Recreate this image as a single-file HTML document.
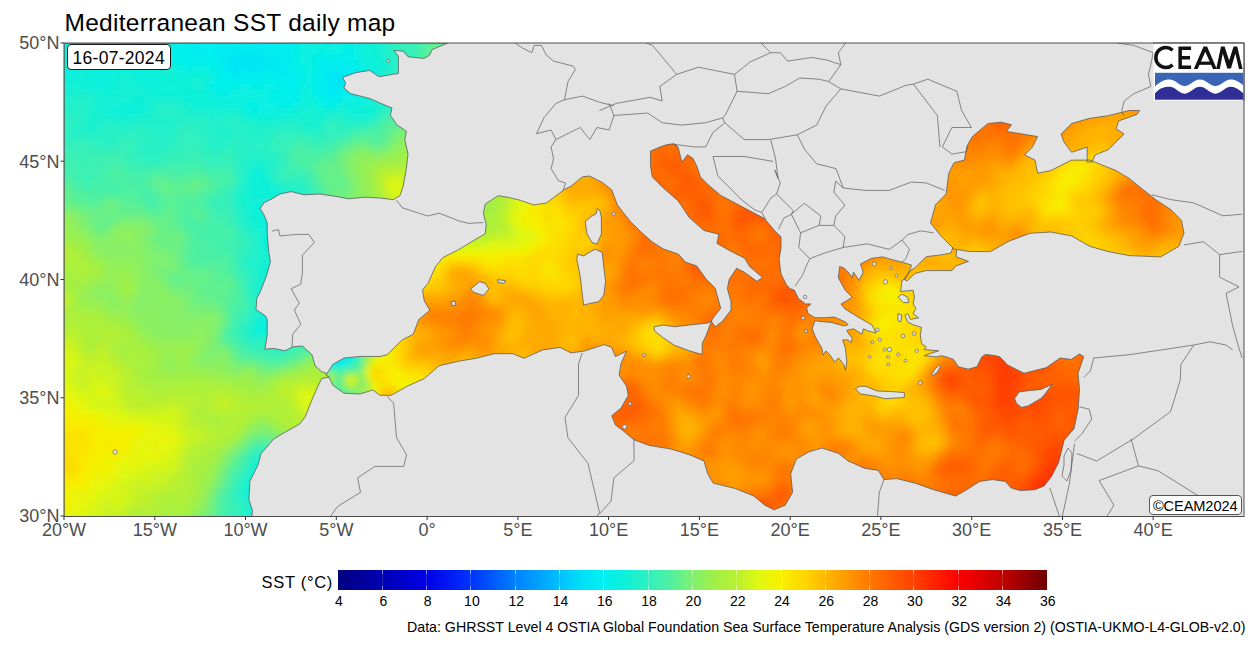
<!DOCTYPE html>
<html><head><meta charset="utf-8"><style>
html,body{margin:0;padding:0;background:#fff;width:1250px;height:650px;overflow:hidden;position:relative;font-family:"Liberation Sans",sans-serif;}
#title{position:absolute;left:64.5px;top:11px;font-size:24.5px;letter-spacing:0.27px;color:#000;white-space:nowrap;line-height:1}
.yl{position:absolute;left:0;width:59.4px;text-align:right;font-size:18px;color:#4d4d4d;line-height:20px;white-space:nowrap}
.xl{position:absolute;top:519.5px;width:80px;text-align:center;font-size:18px;color:#4d4d4d;line-height:20px;white-space:nowrap}
#date{position:absolute;left:67px;top:44px;width:103.5px;height:26px;box-sizing:border-box;border:1px solid #1a1a1a;border-radius:4px;background:#fff;font-size:17.5px;letter-spacing:0.28px;line-height:27px;text-align:center;color:#000}
#copy{position:absolute;left:1148.8px;top:494.8px;width:92.8px;height:19.8px;box-sizing:border-box;border:1px solid #555;border-radius:4px;background:#fff;font-size:14.6px;line-height:21px;text-align:center;color:#000;white-space:nowrap;letter-spacing:-0.1px}
#cbar{position:absolute;left:338px;top:570.2px;width:709px;height:19.5px}
.cbt{position:absolute;top:570.2px;width:1px;height:19.5px;background:linear-gradient(rgba(255,255,255,0.55) 0,rgba(255,255,255,0.55) 20%,rgba(255,255,255,0.15) 20%,rgba(255,255,255,0.15) 80%,rgba(255,255,255,0.55) 80%)}
.cbl{position:absolute;top:592.8px;width:40px;text-align:center;font-size:14px;color:#000;line-height:16px}
#sstlab{position:absolute;left:180px;top:571.7px;width:153px;text-align:right;font-size:16.5px;letter-spacing:0.7px;color:#000;line-height:20px;white-space:nowrap}
#data{position:absolute;left:407px;top:619px;font-size:14.2px;color:#000;line-height:16px;white-space:nowrap}
</style></head><body>
<svg width="1250" height="650" viewBox="0 0 1250 650" style="position:absolute;left:0;top:0"><defs><filter id="bl" filterUnits="userSpaceOnUse" x="0" y="0" width="1250" height="650"><feGaussianBlur stdDeviation="3"/></filter><clipPath id="panel"><rect x="64" y="43" width="1180" height="473.5"/></clipPath></defs><rect x="64" y="43" width="1180" height="473.5" fill="#e3e3e3"/><g clip-path="url(#panel)"><clipPath id="catl"><path d="M64.0,43.0L448.0,43.0L432.0,49.6L429.6,55.2L424.0,58.4L408.0,56.8L403.2,51.2L393.6,50.4L398.4,56.0L398.4,73.6L392.0,74.4L379.2,76.8L369.6,70.4L355.2,72.8L342.4,77.6L345.6,82.4L344.0,88.0L350.4,93.6L369.6,98.4L382.4,104.0L392.0,108.0L390.4,115.2L396.8,124.8L406.4,131.2L404.8,139.6L408.0,154.0L406.4,168.4L403.2,186.0L400.0,195.6L393.6,199.6L379.2,198.0L364.8,197.2L348.8,198.8L336.0,196.4L320.0,194.0L304.0,194.8L291.2,191.6L280.0,194.0L272.0,198.8L264.0,202.8L260.0,208.4L264.0,214.8L267.2,222.8L267.2,232.8L268.8,252.0L270.4,261.6L266.4,276.0L260.8,290.4L256.8,298.4L256.0,309.6L260.8,312.8L265.6,316.0L267.2,319.6L267.2,335.6L264.8,349.2L273.6,348.4L284.8,350.8L292.8,346.8L302.4,346.0L312.0,354.8L315.2,366.0L321.6,371.6L328.0,374.0L334.0,375.0L334.0,377.0L328.0,377.2L321.6,378.8L318.4,385.2L312.0,399.6L305.3,416.6L299.7,424.0L285.0,432.3L273.9,438.8L261.0,453.6L258.2,464.6L249.9,481.3L248.9,499.7L252.6,510.8L251.7,516.5L64.0,516.5Z"/></clipPath><g clip-path="url(#catl)"><g filter="url(#bl)"><path fill="#00e3f6" d="M234 60h6v6h-6z"/><path fill="#00e4f5" d="M252 60h6v6h-6zM234 66h6v6h-6zM336 78h6v6h-6z"/><path fill="#00e6f4" d="M252 54h6v6h-6zM228 60h6v6h-6zM240 60h6v6h-6zM246 60h6v6h-6zM258 60h6v6h-6zM228 66h6v6h-6zM252 66h6v6h-6zM336 72h6v6h-6zM342 78h6v6h-6z"/><path fill="#00e8f4" d="M270 36h6v6h-6zM276 36h6v6h-6zM228 54h6v6h-6zM234 54h6v6h-6zM240 54h6v6h-6zM246 54h6v6h-6zM258 54h6v6h-6zM276 60h6v6h-6zM240 66h6v6h-6zM246 66h6v6h-6zM258 66h6v6h-6zM330 72h6v6h-6zM342 72h6v6h-6zM330 78h6v6h-6zM348 78h6v6h-6zM330 84h6v6h-6zM336 84h6v6h-6z"/><path fill="#00e9f3" d="M222 36h6v6h-6zM264 36h6v6h-6zM282 36h6v6h-6zM222 42h6v6h-6zM222 48h6v6h-6zM246 48h6v6h-6zM252 48h6v6h-6zM258 48h6v6h-6zM264 60h6v6h-6zM270 60h6v6h-6zM276 66h6v6h-6zM234 72h6v6h-6zM348 72h6v6h-6zM324 84h6v6h-6zM342 84h6v6h-6zM348 84h6v6h-6zM330 90h6v6h-6z"/><path fill="#00ebf2" d="M228 36h6v6h-6zM288 36h6v6h-6zM216 42h6v6h-6zM228 42h6v6h-6zM264 42h6v6h-6zM270 42h6v6h-6zM216 48h6v6h-6zM228 48h6v6h-6zM222 54h6v6h-6zM264 54h6v6h-6zM270 54h6v6h-6zM276 54h6v6h-6zM222 60h6v6h-6zM282 60h6v6h-6zM264 66h6v6h-6zM270 66h6v6h-6zM282 66h6v6h-6zM330 66h6v6h-6zM336 66h6v6h-6zM228 72h6v6h-6zM324 78h6v6h-6zM354 78h6v6h-6zM324 90h6v6h-6z"/><path fill="#00ecf1" d="M216 36h6v6h-6zM234 36h6v6h-6zM258 36h6v6h-6zM192 42h6v6h-6zM198 42h6v6h-6zM246 42h6v6h-6zM252 42h6v6h-6zM258 42h6v6h-6zM276 42h6v6h-6zM282 42h6v6h-6zM192 48h6v6h-6zM198 48h6v6h-6zM234 48h6v6h-6zM240 48h6v6h-6zM264 48h6v6h-6zM216 54h6v6h-6zM282 54h6v6h-6zM222 66h6v6h-6zM324 66h6v6h-6zM342 66h6v6h-6zM240 72h6v6h-6zM246 72h6v6h-6zM252 72h6v6h-6zM276 72h6v6h-6zM282 72h6v6h-6zM324 72h6v6h-6zM354 84h6v6h-6zM336 90h6v6h-6zM330 96h6v6h-6z"/><path fill="#00eef0" d="M192 36h6v6h-6zM198 36h6v6h-6zM240 36h6v6h-6zM246 36h6v6h-6zM252 36h6v6h-6zM234 42h6v6h-6zM240 42h6v6h-6zM204 48h6v6h-6zM210 48h6v6h-6zM270 48h6v6h-6zM276 48h6v6h-6zM324 60h6v6h-6zM348 66h6v6h-6zM258 72h6v6h-6zM288 72h6v6h-6zM354 72h6v6h-6zM318 84h6v6h-6zM318 90h6v6h-6zM324 96h6v6h-6z"/><path fill="#00f0f0" d="M90 36h6v6h-6zM186 42h6v6h-6zM204 42h6v6h-6zM210 42h6v6h-6zM288 42h6v6h-6zM168 48h6v6h-6zM174 48h6v6h-6zM186 48h6v6h-6zM282 48h6v6h-6zM192 54h6v6h-6zM198 54h6v6h-6zM204 54h6v6h-6zM210 54h6v6h-6zM216 60h6v6h-6zM288 60h6v6h-6zM318 60h6v6h-6zM330 60h6v6h-6zM342 60h6v6h-6zM288 66h6v6h-6zM222 72h6v6h-6zM264 72h6v6h-6zM270 72h6v6h-6zM294 72h6v6h-6zM228 78h6v6h-6zM234 78h6v6h-6zM282 78h6v6h-6zM288 78h6v6h-6zM318 78h6v6h-6zM288 84h6v6h-6zM288 90h6v6h-6zM342 90h6v6h-6zM348 90h6v6h-6zM288 96h6v6h-6z"/><path fill="#01f0ed" d="M84 36h6v6h-6zM204 36h6v6h-6zM210 36h6v6h-6zM294 36h6v6h-6zM168 42h6v6h-6zM180 48h6v6h-6zM174 54h6v6h-6zM180 54h6v6h-6zM186 54h6v6h-6zM288 54h6v6h-6zM336 60h6v6h-6zM348 60h6v6h-6zM318 66h6v6h-6zM354 66h6v6h-6zM318 72h6v6h-6zM222 78h6v6h-6zM252 78h6v6h-6zM276 78h6v6h-6zM294 78h6v6h-6zM360 78h6v6h-6zM216 84h6v6h-6zM282 84h6v6h-6zM282 90h6v6h-6zM354 90h6v6h-6zM336 96h6v6h-6z"/><path fill="#03f0eb" d="M96 36h6v6h-6zM126 36h6v6h-6zM186 36h6v6h-6zM90 42h6v6h-6zM174 42h6v6h-6zM180 42h6v6h-6zM120 48h6v6h-6zM288 48h6v6h-6zM168 54h6v6h-6zM318 54h6v6h-6zM342 54h6v6h-6zM348 54h6v6h-6zM180 60h6v6h-6zM186 60h6v6h-6zM210 60h6v6h-6zM216 66h6v6h-6zM294 66h6v6h-6zM360 72h6v6h-6zM216 78h6v6h-6zM240 78h6v6h-6zM246 78h6v6h-6zM258 78h6v6h-6zM222 84h6v6h-6zM294 84h6v6h-6zM360 84h6v6h-6zM294 90h6v6h-6zM282 96h6v6h-6zM294 96h6v6h-6zM318 96h6v6h-6z"/><path fill="#04f0e8" d="M66 36h6v6h-6zM72 36h6v6h-6zM78 36h6v6h-6zM132 36h6v6h-6zM168 36h6v6h-6zM84 42h6v6h-6zM120 42h6v6h-6zM126 42h6v6h-6zM294 42h6v6h-6zM126 48h6v6h-6zM162 48h6v6h-6zM342 48h6v6h-6zM348 48h6v6h-6zM324 54h6v6h-6zM192 60h6v6h-6zM198 60h6v6h-6zM204 60h6v6h-6zM294 60h6v6h-6zM216 72h6v6h-6zM300 72h6v6h-6zM264 78h6v6h-6zM270 78h6v6h-6zM228 84h6v6h-6zM276 84h6v6h-6zM312 84h6v6h-6zM216 90h6v6h-6zM276 90h6v6h-6zM312 90h6v6h-6zM276 96h6v6h-6zM282 102h6v6h-6zM288 102h6v6h-6zM324 102h6v6h-6zM330 102h6v6h-6z"/><path fill="#06f0e6" d="M120 36h6v6h-6zM174 36h6v6h-6zM180 36h6v6h-6zM300 36h6v6h-6zM312 36h6v6h-6zM318 36h6v6h-6zM324 36h6v6h-6zM66 42h6v6h-6zM72 42h6v6h-6zM78 42h6v6h-6zM96 42h6v6h-6zM162 42h6v6h-6zM324 42h6v6h-6zM342 42h6v6h-6zM348 42h6v6h-6zM84 48h6v6h-6zM90 48h6v6h-6zM294 48h6v6h-6zM318 48h6v6h-6zM120 54h6v6h-6zM294 54h6v6h-6zM312 54h6v6h-6zM330 54h6v6h-6zM336 54h6v6h-6zM174 60h6v6h-6zM312 60h6v6h-6zM354 60h6v6h-6zM186 66h6v6h-6zM210 66h6v6h-6zM300 66h6v6h-6zM312 66h6v6h-6zM360 66h6v6h-6zM312 72h6v6h-6zM300 78h6v6h-6zM312 78h6v6h-6zM210 84h6v6h-6zM234 84h6v6h-6zM252 84h6v6h-6zM258 84h6v6h-6zM222 90h6v6h-6zM270 90h6v6h-6zM360 90h6v6h-6zM270 96h6v6h-6zM246 102h6v6h-6zM252 102h6v6h-6zM276 102h6v6h-6zM252 108h6v6h-6zM258 492h6v6h-6zM258 498h6v6h-6zM264 498h6v6h-6zM264 504h6v6h-6z"/><path fill="#08f0e4" d="M60 36h6v6h-6zM138 36h6v6h-6zM162 36h6v6h-6zM306 36h6v6h-6zM132 42h6v6h-6zM318 42h6v6h-6zM330 42h6v6h-6zM72 48h6v6h-6zM78 48h6v6h-6zM114 48h6v6h-6zM312 48h6v6h-6zM324 48h6v6h-6zM336 48h6v6h-6zM126 54h6v6h-6zM162 54h6v6h-6zM354 54h6v6h-6zM180 66h6v6h-6zM306 72h6v6h-6zM210 78h6v6h-6zM306 78h6v6h-6zM240 84h6v6h-6zM246 84h6v6h-6zM264 84h6v6h-6zM270 84h6v6h-6zM210 90h6v6h-6zM228 90h6v6h-6zM258 90h6v6h-6zM264 90h6v6h-6zM264 96h6v6h-6zM312 96h6v6h-6zM342 96h6v6h-6zM348 96h6v6h-6zM354 96h6v6h-6zM258 102h6v6h-6zM264 102h6v6h-6zM270 102h6v6h-6zM294 102h6v6h-6zM258 108h6v6h-6zM276 204h6v6h-6zM276 210h6v6h-6zM270 222h6v6h-6zM270 228h6v6h-6zM258 486h6v6h-6zM264 486h6v6h-6zM264 492h6v6h-6zM258 504h6v6h-6z"/><path fill="#09f0e1" d="M330 36h6v6h-6zM342 36h6v6h-6zM348 36h6v6h-6zM300 42h6v6h-6zM312 42h6v6h-6zM336 42h6v6h-6zM354 42h6v6h-6zM66 48h6v6h-6zM132 48h6v6h-6zM156 48h6v6h-6zM300 48h6v6h-6zM330 48h6v6h-6zM354 48h6v6h-6zM72 54h6v6h-6zM78 54h6v6h-6zM84 54h6v6h-6zM90 54h6v6h-6zM114 54h6v6h-6zM300 54h6v6h-6zM306 54h6v6h-6zM300 60h6v6h-6zM360 60h6v6h-6zM192 66h6v6h-6zM198 66h6v6h-6zM204 66h6v6h-6zM306 66h6v6h-6zM366 66h6v6h-6zM210 72h6v6h-6zM366 72h6v6h-6zM366 78h6v6h-6zM300 84h6v6h-6zM366 84h6v6h-6zM234 90h6v6h-6zM240 90h6v6h-6zM246 90h6v6h-6zM252 90h6v6h-6zM300 90h6v6h-6zM222 96h6v6h-6zM228 96h6v6h-6zM234 96h6v6h-6zM240 96h6v6h-6zM246 96h6v6h-6zM252 96h6v6h-6zM258 96h6v6h-6zM300 96h6v6h-6zM240 102h6v6h-6zM318 102h6v6h-6zM336 102h6v6h-6zM246 108h6v6h-6zM264 108h6v6h-6zM282 204h6v6h-6zM282 210h6v6h-6zM270 216h6v6h-6zM276 216h6v6h-6zM276 222h6v6h-6zM276 228h6v6h-6zM270 234h6v6h-6zM276 264h6v6h-6zM270 312h6v6h-6zM264 318h6v6h-6zM270 318h6v6h-6zM264 324h6v6h-6zM258 510h6v6h-6zM264 510h6v6h-6zM258 516h6v6h-6z"/><path fill="#0bf0df" d="M102 36h6v6h-6zM144 36h6v6h-6zM150 36h6v6h-6zM156 36h6v6h-6zM336 36h6v6h-6zM354 36h6v6h-6zM60 42h6v6h-6zM114 42h6v6h-6zM156 42h6v6h-6zM306 42h6v6h-6zM96 48h6v6h-6zM306 48h6v6h-6zM66 54h6v6h-6zM132 54h6v6h-6zM156 54h6v6h-6zM66 60h6v6h-6zM72 60h6v6h-6zM120 60h6v6h-6zM168 60h6v6h-6zM306 60h6v6h-6zM366 60h6v6h-6zM66 66h6v6h-6zM174 66h6v6h-6zM66 72h6v6h-6zM180 72h6v6h-6zM96 78h6v6h-6zM102 78h6v6h-6zM156 84h6v6h-6zM306 84h6v6h-6zM306 90h6v6h-6zM216 96h6v6h-6zM360 96h6v6h-6zM348 102h6v6h-6zM354 102h6v6h-6zM270 108h6v6h-6zM276 108h6v6h-6zM282 108h6v6h-6zM276 198h6v6h-6zM270 210h6v6h-6zM282 216h6v6h-6zM264 222h6v6h-6zM264 228h6v6h-6zM270 240h6v6h-6zM276 258h6v6h-6zM270 264h6v6h-6zM270 270h6v6h-6zM276 270h6v6h-6zM276 312h6v6h-6zM258 324h6v6h-6zM258 480h6v6h-6zM264 480h6v6h-6zM252 486h6v6h-6zM252 492h6v6h-6zM252 522h6v6h-6z"/><path fill="#0cf0dc" d="M360 36h6v6h-6zM102 42h6v6h-6zM138 42h6v6h-6zM360 42h6v6h-6zM108 48h6v6h-6zM360 48h6v6h-6zM96 54h6v6h-6zM138 54h6v6h-6zM150 54h6v6h-6zM360 54h6v6h-6zM78 60h6v6h-6zM84 60h6v6h-6zM90 60h6v6h-6zM96 60h6v6h-6zM114 60h6v6h-6zM126 60h6v6h-6zM132 60h6v6h-6zM138 60h6v6h-6zM372 60h6v6h-6zM72 66h6v6h-6zM96 66h6v6h-6zM138 66h6v6h-6zM372 66h6v6h-6zM96 72h6v6h-6zM102 72h6v6h-6zM108 72h6v6h-6zM138 72h6v6h-6zM186 72h6v6h-6zM204 72h6v6h-6zM90 78h6v6h-6zM108 78h6v6h-6zM138 78h6v6h-6zM144 78h6v6h-6zM150 78h6v6h-6zM156 78h6v6h-6zM90 84h6v6h-6zM96 84h6v6h-6zM102 84h6v6h-6zM150 84h6v6h-6zM366 90h6v6h-6zM210 96h6v6h-6zM306 96h6v6h-6zM126 102h6v6h-6zM132 102h6v6h-6zM234 102h6v6h-6zM300 102h6v6h-6zM342 102h6v6h-6zM288 108h6v6h-6zM252 114h6v6h-6zM258 114h6v6h-6zM258 180h6v6h-6zM258 186h6v6h-6zM282 198h6v6h-6zM270 204h6v6h-6zM264 216h6v6h-6zM282 222h6v6h-6zM282 228h6v6h-6zM264 234h6v6h-6zM276 234h6v6h-6zM264 240h6v6h-6zM270 246h6v6h-6zM276 246h6v6h-6zM276 252h6v6h-6zM270 258h6v6h-6zM282 258h6v6h-6zM282 264h6v6h-6zM282 270h6v6h-6zM276 276h6v6h-6zM282 276h6v6h-6zM264 312h6v6h-6zM258 318h6v6h-6zM276 318h6v6h-6zM270 324h6v6h-6zM252 498h6v6h-6zM252 516h6v6h-6z"/><path fill="#0ef0da" d="M114 36h6v6h-6zM366 36h6v6h-6zM144 42h6v6h-6zM150 42h6v6h-6zM366 42h6v6h-6zM60 48h6v6h-6zM102 48h6v6h-6zM138 48h6v6h-6zM144 48h6v6h-6zM150 48h6v6h-6zM366 48h6v6h-6zM108 54h6v6h-6zM144 54h6v6h-6zM366 54h6v6h-6zM372 54h6v6h-6zM108 60h6v6h-6zM144 60h6v6h-6zM150 60h6v6h-6zM156 60h6v6h-6zM162 60h6v6h-6zM378 60h6v6h-6zM90 66h6v6h-6zM102 66h6v6h-6zM108 66h6v6h-6zM114 66h6v6h-6zM132 66h6v6h-6zM144 66h6v6h-6zM378 66h6v6h-6zM72 72h6v6h-6zM90 72h6v6h-6zM114 72h6v6h-6zM132 72h6v6h-6zM144 72h6v6h-6zM150 72h6v6h-6zM174 72h6v6h-6zM372 72h6v6h-6zM66 78h6v6h-6zM84 78h6v6h-6zM114 78h6v6h-6zM132 78h6v6h-6zM162 78h6v6h-6zM180 78h6v6h-6zM204 78h6v6h-6zM84 84h6v6h-6zM108 84h6v6h-6zM144 84h6v6h-6zM162 84h6v6h-6zM168 84h6v6h-6zM174 84h6v6h-6zM180 84h6v6h-6zM204 84h6v6h-6zM156 90h6v6h-6zM162 90h6v6h-6zM168 90h6v6h-6zM174 90h6v6h-6zM204 90h6v6h-6zM192 96h6v6h-6zM198 96h6v6h-6zM204 96h6v6h-6zM138 102h6v6h-6zM192 102h6v6h-6zM198 102h6v6h-6zM216 102h6v6h-6zM222 102h6v6h-6zM228 102h6v6h-6zM312 102h6v6h-6zM360 102h6v6h-6zM120 108h6v6h-6zM126 108h6v6h-6zM132 108h6v6h-6zM240 108h6v6h-6zM294 108h6v6h-6zM324 108h6v6h-6zM348 108h6v6h-6zM354 108h6v6h-6zM360 108h6v6h-6zM264 114h6v6h-6zM270 114h6v6h-6zM252 174h6v6h-6zM258 174h6v6h-6zM252 180h6v6h-6zM252 186h6v6h-6zM264 186h6v6h-6zM270 198h6v6h-6zM288 204h6v6h-6zM252 210h6v6h-6zM258 210h6v6h-6zM264 210h6v6h-6zM258 216h6v6h-6zM276 240h6v6h-6zM270 252h6v6h-6zM282 252h6v6h-6zM264 264h6v6h-6zM264 270h6v6h-6zM270 276h6v6h-6zM270 306h6v6h-6zM276 306h6v6h-6zM282 312h6v6h-6zM258 330h6v6h-6zM258 468h6v6h-6zM258 474h6v6h-6zM252 480h6v6h-6zM252 504h6v6h-6zM252 510h6v6h-6z"/><path fill="#10f0d8" d="M108 42h6v6h-6zM372 42h6v6h-6zM372 48h6v6h-6zM60 54h6v6h-6zM102 54h6v6h-6zM60 60h6v6h-6zM102 60h6v6h-6zM60 66h6v6h-6zM78 66h6v6h-6zM84 66h6v6h-6zM120 66h6v6h-6zM126 66h6v6h-6zM150 66h6v6h-6zM156 66h6v6h-6zM60 72h6v6h-6zM84 72h6v6h-6zM156 72h6v6h-6zM192 72h6v6h-6zM198 72h6v6h-6zM72 78h6v6h-6zM78 78h6v6h-6zM168 78h6v6h-6zM174 78h6v6h-6zM186 78h6v6h-6zM372 78h6v6h-6zM114 84h6v6h-6zM138 84h6v6h-6zM186 84h6v6h-6zM102 90h6v6h-6zM108 90h6v6h-6zM150 90h6v6h-6zM180 90h6v6h-6zM186 90h6v6h-6zM192 90h6v6h-6zM198 90h6v6h-6zM132 96h6v6h-6zM138 96h6v6h-6zM186 96h6v6h-6zM366 96h6v6h-6zM120 102h6v6h-6zM204 102h6v6h-6zM210 102h6v6h-6zM306 102h6v6h-6zM108 108h6v6h-6zM114 108h6v6h-6zM138 108h6v6h-6zM318 108h6v6h-6zM330 108h6v6h-6zM366 108h6v6h-6zM120 114h6v6h-6zM246 114h6v6h-6zM276 114h6v6h-6zM252 168h6v6h-6zM258 168h6v6h-6zM264 180h6v6h-6zM252 192h6v6h-6zM258 192h6v6h-6zM264 192h6v6h-6zM270 192h6v6h-6zM276 192h6v6h-6zM288 198h6v6h-6zM252 204h6v6h-6zM258 204h6v6h-6zM264 204h6v6h-6zM252 216h6v6h-6zM258 222h6v6h-6zM282 234h6v6h-6zM264 246h6v6h-6zM276 282h6v6h-6zM258 312h6v6h-6zM252 324h6v6h-6zM252 330h6v6h-6zM264 330h6v6h-6zM258 462h6v6h-6zM264 474h6v6h-6zM246 486h6v6h-6z"/><path fill="#13f0d5" d="M54 36h6v6h-6zM108 36h6v6h-6zM372 36h6v6h-6zM378 54h6v6h-6zM162 66h6v6h-6zM168 66h6v6h-6zM78 72h6v6h-6zM120 72h6v6h-6zM126 72h6v6h-6zM162 72h6v6h-6zM168 72h6v6h-6zM120 78h6v6h-6zM126 78h6v6h-6zM66 84h6v6h-6zM72 84h6v6h-6zM78 84h6v6h-6zM132 84h6v6h-6zM192 84h6v6h-6zM372 84h6v6h-6zM90 90h6v6h-6zM96 90h6v6h-6zM138 90h6v6h-6zM144 90h6v6h-6zM108 96h6v6h-6zM126 96h6v6h-6zM144 96h6v6h-6zM168 96h6v6h-6zM174 96h6v6h-6zM180 96h6v6h-6zM102 102h6v6h-6zM108 102h6v6h-6zM114 102h6v6h-6zM144 102h6v6h-6zM186 102h6v6h-6zM366 102h6v6h-6zM102 108h6v6h-6zM216 108h6v6h-6zM222 108h6v6h-6zM336 108h6v6h-6zM342 108h6v6h-6zM114 114h6v6h-6zM126 114h6v6h-6zM282 114h6v6h-6zM354 114h6v6h-6zM360 114h6v6h-6zM246 186h6v6h-6zM270 186h6v6h-6zM246 192h6v6h-6zM282 192h6v6h-6zM246 198h6v6h-6zM252 198h6v6h-6zM258 198h6v6h-6zM264 198h6v6h-6zM246 204h6v6h-6zM246 210h6v6h-6zM252 222h6v6h-6zM258 228h6v6h-6zM282 246h6v6h-6zM264 252h6v6h-6zM264 258h6v6h-6zM264 276h6v6h-6zM264 306h6v6h-6zM282 318h6v6h-6zM276 324h6v6h-6zM252 468h6v6h-6zM264 468h6v6h-6zM252 474h6v6h-6zM246 492h6v6h-6z"/><path fill="#16f0d3" d="M378 36h6v6h-6zM54 42h6v6h-6zM378 42h6v6h-6zM384 60h6v6h-6zM378 72h6v6h-6zM60 78h6v6h-6zM192 78h6v6h-6zM198 78h6v6h-6zM120 84h6v6h-6zM126 84h6v6h-6zM198 84h6v6h-6zM84 90h6v6h-6zM114 90h6v6h-6zM126 90h6v6h-6zM132 90h6v6h-6zM372 90h6v6h-6zM102 96h6v6h-6zM114 96h6v6h-6zM150 96h6v6h-6zM156 96h6v6h-6zM162 96h6v6h-6zM372 96h6v6h-6zM96 102h6v6h-6zM372 102h6v6h-6zM96 108h6v6h-6zM144 108h6v6h-6zM192 108h6v6h-6zM198 108h6v6h-6zM204 108h6v6h-6zM210 108h6v6h-6zM228 108h6v6h-6zM234 108h6v6h-6zM300 108h6v6h-6zM312 108h6v6h-6zM372 108h6v6h-6zM96 114h6v6h-6zM108 114h6v6h-6zM288 114h6v6h-6zM312 114h6v6h-6zM318 114h6v6h-6zM348 114h6v6h-6zM366 114h6v6h-6zM312 120h6v6h-6zM252 162h6v6h-6zM258 162h6v6h-6zM246 180h6v6h-6zM288 192h6v6h-6zM294 204h6v6h-6zM246 216h6v6h-6zM282 240h6v6h-6zM264 282h6v6h-6zM270 282h6v6h-6zM276 288h6v6h-6zM270 300h6v6h-6zM282 324h6v6h-6zM288 324h6v6h-6zM270 330h6v6h-6zM252 462h6v6h-6zM264 462h6v6h-6zM270 474h6v6h-6zM246 480h6v6h-6zM246 522h6v6h-6z"/><path fill="#19f0d0" d="M54 48h6v6h-6zM378 48h6v6h-6zM54 54h6v6h-6zM54 60h6v6h-6zM384 66h6v6h-6zM378 78h6v6h-6zM66 90h6v6h-6zM72 90h6v6h-6zM78 90h6v6h-6zM120 90h6v6h-6zM96 96h6v6h-6zM120 96h6v6h-6zM150 102h6v6h-6zM180 102h6v6h-6zM90 108h6v6h-6zM186 108h6v6h-6zM306 108h6v6h-6zM90 114h6v6h-6zM102 114h6v6h-6zM132 114h6v6h-6zM138 114h6v6h-6zM144 114h6v6h-6zM240 114h6v6h-6zM294 114h6v6h-6zM300 114h6v6h-6zM306 114h6v6h-6zM90 120h6v6h-6zM120 120h6v6h-6zM258 120h6v6h-6zM264 120h6v6h-6zM270 120h6v6h-6zM306 120h6v6h-6zM264 162h6v6h-6zM246 168h6v6h-6zM246 174h6v6h-6zM264 174h6v6h-6zM276 186h6v6h-6zM240 192h6v6h-6zM240 198h6v6h-6zM294 198h6v6h-6zM240 204h6v6h-6zM246 222h6v6h-6zM258 234h6v6h-6zM258 240h6v6h-6zM258 246h6v6h-6zM258 264h6v6h-6zM258 270h6v6h-6zM258 276h6v6h-6zM258 282h6v6h-6zM258 288h6v6h-6zM264 288h6v6h-6zM270 288h6v6h-6zM270 294h6v6h-6zM258 306h6v6h-6zM252 318h6v6h-6zM294 324h6v6h-6zM276 330h6v6h-6zM282 330h6v6h-6zM288 330h6v6h-6zM270 468h6v6h-6zM246 498h6v6h-6zM246 516h6v6h-6z"/><path fill="#1cf0ce" d="M384 36h6v6h-6zM384 54h6v6h-6zM54 66h6v6h-6zM60 84h6v6h-6zM60 90h6v6h-6zM66 96h6v6h-6zM90 96h6v6h-6zM90 102h6v6h-6zM150 108h6v6h-6zM150 114h6v6h-6zM210 114h6v6h-6zM216 114h6v6h-6zM222 114h6v6h-6zM324 114h6v6h-6zM342 114h6v6h-6zM372 114h6v6h-6zM84 120h6v6h-6zM96 120h6v6h-6zM126 120h6v6h-6zM150 120h6v6h-6zM156 120h6v6h-6zM162 120h6v6h-6zM168 120h6v6h-6zM252 120h6v6h-6zM276 120h6v6h-6zM300 120h6v6h-6zM318 120h6v6h-6zM84 126h6v6h-6zM90 126h6v6h-6zM306 126h6v6h-6zM312 126h6v6h-6zM222 132h6v6h-6zM246 162h6v6h-6zM264 168h6v6h-6zM270 180h6v6h-6zM240 186h6v6h-6zM294 192h6v6h-6zM240 210h6v6h-6zM294 210h6v6h-6zM252 228h6v6h-6zM258 252h6v6h-6zM258 258h6v6h-6zM252 288h6v6h-6zM264 294h6v6h-6zM264 300h6v6h-6zM300 324h6v6h-6zM246 330h6v6h-6zM258 456h6v6h-6zM270 462h6v6h-6zM246 474h6v6h-6zM240 492h6v6h-6z"/><path fill="#20f0cc" d="M390 60h6v6h-6zM54 72h6v6h-6zM384 72h6v6h-6zM378 84h6v6h-6zM60 96h6v6h-6zM72 96h6v6h-6zM78 96h6v6h-6zM84 96h6v6h-6zM378 96h6v6h-6zM66 102h6v6h-6zM84 102h6v6h-6zM156 102h6v6h-6zM162 102h6v6h-6zM168 102h6v6h-6zM174 102h6v6h-6zM378 102h6v6h-6zM84 108h6v6h-6zM180 108h6v6h-6zM84 114h6v6h-6zM156 114h6v6h-6zM162 114h6v6h-6zM168 114h6v6h-6zM192 114h6v6h-6zM204 114h6v6h-6zM234 114h6v6h-6zM114 120h6v6h-6zM132 120h6v6h-6zM144 120h6v6h-6zM210 120h6v6h-6zM216 120h6v6h-6zM240 120h6v6h-6zM246 120h6v6h-6zM282 120h6v6h-6zM288 120h6v6h-6zM294 120h6v6h-6zM162 126h6v6h-6zM168 126h6v6h-6zM210 126h6v6h-6zM216 126h6v6h-6zM222 126h6v6h-6zM264 126h6v6h-6zM216 132h6v6h-6zM216 138h6v6h-6zM222 138h6v6h-6zM252 156h6v6h-6zM258 156h6v6h-6zM264 156h6v6h-6zM270 162h6v6h-6zM282 186h6v6h-6zM288 186h6v6h-6zM300 198h6v6h-6zM240 216h6v6h-6zM252 258h6v6h-6zM252 264h6v6h-6zM252 282h6v6h-6zM258 294h6v6h-6zM258 300h6v6h-6zM252 312h6v6h-6zM246 324h6v6h-6zM294 330h6v6h-6zM252 336h6v6h-6zM258 336h6v6h-6zM270 336h6v6h-6zM276 336h6v6h-6zM282 336h6v6h-6zM240 486h6v6h-6zM246 504h6v6h-6zM246 510h6v6h-6z"/><path fill="#23f0c9" d="M390 36h6v6h-6zM384 42h6v6h-6zM384 48h6v6h-6zM390 66h6v6h-6zM54 78h6v6h-6zM54 84h6v6h-6zM54 90h6v6h-6zM378 90h6v6h-6zM54 96h6v6h-6zM60 102h6v6h-6zM72 102h6v6h-6zM78 102h6v6h-6zM66 108h6v6h-6zM78 108h6v6h-6zM156 108h6v6h-6zM174 108h6v6h-6zM378 108h6v6h-6zM174 114h6v6h-6zM180 114h6v6h-6zM186 114h6v6h-6zM198 114h6v6h-6zM228 114h6v6h-6zM330 114h6v6h-6zM336 114h6v6h-6zM102 120h6v6h-6zM108 120h6v6h-6zM138 120h6v6h-6zM174 120h6v6h-6zM222 120h6v6h-6zM342 120h6v6h-6zM348 120h6v6h-6zM354 120h6v6h-6zM360 120h6v6h-6zM78 126h6v6h-6zM96 126h6v6h-6zM120 126h6v6h-6zM156 126h6v6h-6zM204 126h6v6h-6zM228 126h6v6h-6zM246 126h6v6h-6zM252 126h6v6h-6zM258 126h6v6h-6zM270 126h6v6h-6zM300 126h6v6h-6zM318 126h6v6h-6zM84 132h6v6h-6zM90 132h6v6h-6zM162 132h6v6h-6zM168 132h6v6h-6zM210 132h6v6h-6zM228 132h6v6h-6zM246 132h6v6h-6zM252 132h6v6h-6zM258 132h6v6h-6zM264 132h6v6h-6zM216 144h6v6h-6zM246 156h6v6h-6zM270 156h6v6h-6zM240 162h6v6h-6zM240 180h6v6h-6zM294 186h6v6h-6zM234 192h6v6h-6zM300 192h6v6h-6zM234 198h6v6h-6zM300 204h6v6h-6zM246 228h6v6h-6zM252 246h6v6h-6zM252 252h6v6h-6zM246 258h6v6h-6zM252 270h6v6h-6zM252 276h6v6h-6zM252 294h6v6h-6zM300 330h6v6h-6zM264 336h6v6h-6zM252 456h6v6h-6zM264 456h6v6h-6zM240 522h6v6h-6z"/><path fill="#26f0c7" d="M390 54h6v6h-6zM384 78h6v6h-6zM54 102h6v6h-6zM60 108h6v6h-6zM72 108h6v6h-6zM162 108h6v6h-6zM168 108h6v6h-6zM78 114h6v6h-6zM78 120h6v6h-6zM180 120h6v6h-6zM186 120h6v6h-6zM192 120h6v6h-6zM198 120h6v6h-6zM204 120h6v6h-6zM228 120h6v6h-6zM234 120h6v6h-6zM72 126h6v6h-6zM102 126h6v6h-6zM114 126h6v6h-6zM126 126h6v6h-6zM132 126h6v6h-6zM138 126h6v6h-6zM144 126h6v6h-6zM150 126h6v6h-6zM174 126h6v6h-6zM198 126h6v6h-6zM234 126h6v6h-6zM240 126h6v6h-6zM276 126h6v6h-6zM282 126h6v6h-6zM288 126h6v6h-6zM294 126h6v6h-6zM66 132h6v6h-6zM72 132h6v6h-6zM78 132h6v6h-6zM96 132h6v6h-6zM102 132h6v6h-6zM108 132h6v6h-6zM156 132h6v6h-6zM204 132h6v6h-6zM234 132h6v6h-6zM240 132h6v6h-6zM102 138h6v6h-6zM108 138h6v6h-6zM144 138h6v6h-6zM156 138h6v6h-6zM162 138h6v6h-6zM168 138h6v6h-6zM210 138h6v6h-6zM228 138h6v6h-6zM240 138h6v6h-6zM246 138h6v6h-6zM252 138h6v6h-6zM258 138h6v6h-6zM264 138h6v6h-6zM144 144h6v6h-6zM150 144h6v6h-6zM156 144h6v6h-6zM210 144h6v6h-6zM240 144h6v6h-6zM246 144h6v6h-6zM144 150h6v6h-6zM150 150h6v6h-6zM246 150h6v6h-6zM252 150h6v6h-6zM258 150h6v6h-6zM264 150h6v6h-6zM240 156h6v6h-6zM240 168h6v6h-6zM270 168h6v6h-6zM240 174h6v6h-6zM270 174h6v6h-6zM276 180h6v6h-6zM300 186h6v6h-6zM234 204h6v6h-6zM240 222h6v6h-6zM252 234h6v6h-6zM252 240h6v6h-6zM246 252h6v6h-6zM246 264h6v6h-6zM252 306h6v6h-6zM246 336h6v6h-6zM288 336h6v6h-6zM276 342h6v6h-6zM246 468h6v6h-6zM240 480h6v6h-6zM240 498h6v6h-6zM240 516h6v6h-6zM234 522h6v6h-6z"/><path fill="#29f0c4" d="M390 42h6v6h-6zM396 60h6v6h-6zM66 114h6v6h-6zM72 114h6v6h-6zM66 120h6v6h-6zM72 120h6v6h-6zM324 120h6v6h-6zM336 120h6v6h-6zM366 120h6v6h-6zM66 126h6v6h-6zM108 126h6v6h-6zM192 126h6v6h-6zM114 132h6v6h-6zM138 132h6v6h-6zM144 132h6v6h-6zM150 132h6v6h-6zM174 132h6v6h-6zM198 132h6v6h-6zM270 132h6v6h-6zM306 132h6v6h-6zM312 132h6v6h-6zM138 138h6v6h-6zM150 138h6v6h-6zM234 138h6v6h-6zM138 144h6v6h-6zM162 144h6v6h-6zM222 144h6v6h-6zM234 144h6v6h-6zM252 144h6v6h-6zM258 144h6v6h-6zM264 144h6v6h-6zM138 150h6v6h-6zM156 150h6v6h-6zM210 150h6v6h-6zM216 150h6v6h-6zM240 150h6v6h-6zM270 150h6v6h-6zM150 156h6v6h-6zM276 156h6v6h-6zM276 162h6v6h-6zM294 180h6v6h-6zM234 186h6v6h-6zM306 198h6v6h-6zM234 210h6v6h-6zM246 234h6v6h-6zM240 258h6v6h-6zM252 300h6v6h-6zM240 330h6v6h-6zM270 342h6v6h-6zM282 342h6v6h-6zM270 456h6v6h-6zM276 456h6v6h-6zM228 522h6v6h-6z"/><path fill="#2cf0c2" d="M396 36h6v6h-6zM390 48h6v6h-6zM396 54h6v6h-6zM390 72h6v6h-6zM384 84h6v6h-6zM384 96h6v6h-6zM384 102h6v6h-6zM54 108h6v6h-6zM60 114h6v6h-6zM180 126h6v6h-6zM186 126h6v6h-6zM336 126h6v6h-6zM342 126h6v6h-6zM120 132h6v6h-6zM132 132h6v6h-6zM288 132h6v6h-6zM318 132h6v6h-6zM66 138h6v6h-6zM90 138h6v6h-6zM96 138h6v6h-6zM114 138h6v6h-6zM174 138h6v6h-6zM204 138h6v6h-6zM108 144h6v6h-6zM168 144h6v6h-6zM204 144h6v6h-6zM228 144h6v6h-6zM204 150h6v6h-6zM234 150h6v6h-6zM144 156h6v6h-6zM156 156h6v6h-6zM234 156h6v6h-6zM234 162h6v6h-6zM282 180h6v6h-6zM288 180h6v6h-6zM300 180h6v6h-6zM306 192h6v6h-6zM306 204h6v6h-6zM300 210h6v6h-6zM234 216h6v6h-6zM240 228h6v6h-6zM246 246h6v6h-6zM240 264h6v6h-6zM246 270h6v6h-6zM246 282h6v6h-6zM246 288h6v6h-6zM246 318h6v6h-6zM306 330h6v6h-6zM294 336h6v6h-6zM252 342h6v6h-6zM258 450h6v6h-6zM246 462h6v6h-6zM240 474h6v6h-6zM234 492h6v6h-6zM240 510h6v6h-6zM234 516h6v6h-6z"/><path fill="#30f0c0" d="M396 66h6v6h-6zM384 90h6v6h-6zM396 96h6v6h-6zM396 102h6v6h-6zM402 102h6v6h-6zM378 114h6v6h-6zM60 120h6v6h-6zM330 120h6v6h-6zM372 120h6v6h-6zM324 126h6v6h-6zM330 126h6v6h-6zM60 132h6v6h-6zM126 132h6v6h-6zM180 132h6v6h-6zM186 132h6v6h-6zM192 132h6v6h-6zM276 132h6v6h-6zM282 132h6v6h-6zM294 132h6v6h-6zM300 132h6v6h-6zM336 132h6v6h-6zM72 138h6v6h-6zM84 138h6v6h-6zM180 138h6v6h-6zM198 138h6v6h-6zM270 138h6v6h-6zM102 144h6v6h-6zM132 144h6v6h-6zM174 144h6v6h-6zM180 144h6v6h-6zM270 144h6v6h-6zM132 150h6v6h-6zM162 150h6v6h-6zM276 150h6v6h-6zM138 156h6v6h-6zM210 156h6v6h-6zM216 156h6v6h-6zM234 168h6v6h-6zM276 168h6v6h-6zM276 174h6v6h-6zM234 180h6v6h-6zM306 186h6v6h-6zM228 192h6v6h-6zM228 198h6v6h-6zM246 240h6v6h-6zM240 252h6v6h-6zM246 276h6v6h-6zM240 324h6v6h-6zM300 336h6v6h-6zM258 342h6v6h-6zM264 342h6v6h-6zM234 486h6v6h-6zM234 498h6v6h-6zM240 504h6v6h-6z"/><path fill="#33f0bc" d="M402 36h6v6h-6zM396 42h6v6h-6zM396 48h6v6h-6zM402 54h6v6h-6zM402 60h6v6h-6zM390 78h6v6h-6zM390 96h6v6h-6zM390 102h6v6h-6zM384 108h6v6h-6zM60 126h6v6h-6zM348 126h6v6h-6zM324 132h6v6h-6zM330 132h6v6h-6zM78 138h6v6h-6zM120 138h6v6h-6zM126 138h6v6h-6zM132 138h6v6h-6zM186 138h6v6h-6zM192 138h6v6h-6zM276 138h6v6h-6zM282 138h6v6h-6zM312 138h6v6h-6zM318 138h6v6h-6zM96 144h6v6h-6zM114 144h6v6h-6zM186 144h6v6h-6zM192 144h6v6h-6zM198 144h6v6h-6zM168 150h6v6h-6zM174 150h6v6h-6zM180 150h6v6h-6zM222 150h6v6h-6zM228 150h6v6h-6zM132 156h6v6h-6zM162 156h6v6h-6zM204 156h6v6h-6zM234 174h6v6h-6zM294 174h6v6h-6zM312 198h6v6h-6zM228 204h6v6h-6zM306 210h6v6h-6zM234 222h6v6h-6zM240 234h6v6h-6zM246 294h6v6h-6zM246 312h6v6h-6zM240 336h6v6h-6zM246 342h6v6h-6zM288 342h6v6h-6zM270 348h6v6h-6zM276 348h6v6h-6zM252 450h6v6h-6zM264 450h6v6h-6zM228 516h6v6h-6zM222 522h6v6h-6z"/><path fill="#36f0b9" d="M402 42h6v6h-6zM402 48h6v6h-6zM408 48h6v6h-6zM408 54h6v6h-6zM402 66h6v6h-6zM396 72h6v6h-6zM390 84h6v6h-6zM390 90h6v6h-6zM396 90h6v6h-6zM54 114h6v6h-6zM354 126h6v6h-6zM342 132h6v6h-6zM60 138h6v6h-6zM288 138h6v6h-6zM324 138h6v6h-6zM66 144h6v6h-6zM72 144h6v6h-6zM84 144h6v6h-6zM90 144h6v6h-6zM120 144h6v6h-6zM126 144h6v6h-6zM276 144h6v6h-6zM282 144h6v6h-6zM78 150h6v6h-6zM102 150h6v6h-6zM126 150h6v6h-6zM186 150h6v6h-6zM198 150h6v6h-6zM282 150h6v6h-6zM126 156h6v6h-6zM180 156h6v6h-6zM222 156h6v6h-6zM228 156h6v6h-6zM282 156h6v6h-6zM144 162h6v6h-6zM150 162h6v6h-6zM156 162h6v6h-6zM210 162h6v6h-6zM216 162h6v6h-6zM228 162h6v6h-6zM282 162h6v6h-6zM282 168h6v6h-6zM282 174h6v6h-6zM288 174h6v6h-6zM300 174h6v6h-6zM306 180h6v6h-6zM228 186h6v6h-6zM216 198h6v6h-6zM222 198h6v6h-6zM216 204h6v6h-6zM312 204h6v6h-6zM228 210h6v6h-6zM240 240h6v6h-6zM240 246h6v6h-6zM234 258h6v6h-6zM240 270h6v6h-6zM246 306h6v6h-6zM240 318h6v6h-6zM234 330h6v6h-6zM306 336h6v6h-6zM264 348h6v6h-6zM282 348h6v6h-6zM270 450h6v6h-6zM246 456h6v6h-6zM234 480h6v6h-6zM234 504h6v6h-6zM234 510h6v6h-6z"/><path fill="#39f0b6" d="M408 36h6v6h-6zM408 42h6v6h-6zM408 60h6v6h-6zM390 108h6v6h-6zM396 108h6v6h-6zM294 138h6v6h-6zM306 138h6v6h-6zM330 138h6v6h-6zM78 144h6v6h-6zM66 150h6v6h-6zM72 150h6v6h-6zM84 150h6v6h-6zM90 150h6v6h-6zM96 150h6v6h-6zM108 150h6v6h-6zM120 150h6v6h-6zM192 150h6v6h-6zM78 156h6v6h-6zM84 156h6v6h-6zM168 156h6v6h-6zM174 156h6v6h-6zM186 156h6v6h-6zM198 156h6v6h-6zM54 162h6v6h-6zM60 162h6v6h-6zM132 162h6v6h-6zM138 162h6v6h-6zM204 162h6v6h-6zM222 162h6v6h-6zM84 174h6v6h-6zM222 192h6v6h-6zM312 192h6v6h-6zM210 198h6v6h-6zM210 204h6v6h-6zM222 204h6v6h-6zM216 210h6v6h-6zM228 216h6v6h-6zM234 228h6v6h-6zM234 240h6v6h-6zM234 252h6v6h-6zM234 264h6v6h-6zM246 300h6v6h-6zM234 324h6v6h-6zM294 342h6v6h-6zM252 348h6v6h-6zM258 348h6v6h-6zM276 450h6v6h-6zM240 468h6v6h-6zM228 492h6v6h-6zM228 498h6v6h-6zM228 510h6v6h-6z"/><path fill="#3cf0b3" d="M414 36h6v6h-6zM414 42h6v6h-6zM414 48h6v6h-6zM408 66h6v6h-6zM402 72h6v6h-6zM396 78h6v6h-6zM396 84h6v6h-6zM402 84h6v6h-6zM402 108h6v6h-6zM54 120h6v6h-6zM360 126h6v6h-6zM300 138h6v6h-6zM60 144h6v6h-6zM288 144h6v6h-6zM312 144h6v6h-6zM318 144h6v6h-6zM114 150h6v6h-6zM60 156h6v6h-6zM66 156h6v6h-6zM72 156h6v6h-6zM90 156h6v6h-6zM96 156h6v6h-6zM102 156h6v6h-6zM120 156h6v6h-6zM192 156h6v6h-6zM78 162h6v6h-6zM84 162h6v6h-6zM90 162h6v6h-6zM96 162h6v6h-6zM126 162h6v6h-6zM162 162h6v6h-6zM54 168h6v6h-6zM60 168h6v6h-6zM84 168h6v6h-6zM90 168h6v6h-6zM210 168h6v6h-6zM228 168h6v6h-6zM288 168h6v6h-6zM294 168h6v6h-6zM78 174h6v6h-6zM90 174h6v6h-6zM306 174h6v6h-6zM84 180h6v6h-6zM222 186h6v6h-6zM216 192h6v6h-6zM222 210h6v6h-6zM312 210h6v6h-6zM228 222h6v6h-6zM234 234h6v6h-6zM228 240h6v6h-6zM234 246h6v6h-6zM240 276h6v6h-6zM240 312h6v6h-6zM234 336h6v6h-6zM240 342h6v6h-6zM300 342h6v6h-6zM288 348h6v6h-6zM234 474h6v6h-6zM228 504h6v6h-6zM222 516h6v6h-6zM216 522h6v6h-6z"/><path fill="#40f0b0" d="M414 54h6v6h-6zM402 78h6v6h-6zM384 114h6v6h-6zM378 120h6v6h-6zM54 126h6v6h-6zM366 126h6v6h-6zM54 132h6v6h-6zM336 138h6v6h-6zM324 144h6v6h-6zM60 150h6v6h-6zM108 156h6v6h-6zM114 156h6v6h-6zM66 162h6v6h-6zM72 162h6v6h-6zM102 162h6v6h-6zM120 162h6v6h-6zM168 162h6v6h-6zM174 162h6v6h-6zM180 162h6v6h-6zM186 162h6v6h-6zM192 162h6v6h-6zM198 162h6v6h-6zM288 162h6v6h-6zM66 168h6v6h-6zM78 168h6v6h-6zM96 168h6v6h-6zM132 168h6v6h-6zM138 168h6v6h-6zM216 168h6v6h-6zM222 168h6v6h-6zM300 168h6v6h-6zM96 174h6v6h-6zM78 180h6v6h-6zM90 180h6v6h-6zM228 180h6v6h-6zM312 186h6v6h-6zM210 210h6v6h-6zM216 216h6v6h-6zM222 216h6v6h-6zM222 240h6v6h-6zM228 246h6v6h-6zM234 270h6v6h-6zM240 282h6v6h-6zM240 288h6v6h-6zM234 318h6v6h-6zM246 348h6v6h-6zM276 354h6v6h-6zM258 444h6v6h-6zM282 450h6v6h-6zM228 486h6v6h-6z"/><path fill="#43f0ac" d="M408 72h6v6h-6zM408 78h6v6h-6zM348 132h6v6h-6zM306 144h6v6h-6zM288 150h6v6h-6zM54 156h6v6h-6zM288 156h6v6h-6zM108 162h6v6h-6zM72 168h6v6h-6zM102 168h6v6h-6zM126 168h6v6h-6zM144 168h6v6h-6zM204 168h6v6h-6zM72 174h6v6h-6zM102 174h6v6h-6zM132 174h6v6h-6zM228 174h6v6h-6zM96 180h6v6h-6zM102 180h6v6h-6zM108 180h6v6h-6zM108 186h6v6h-6zM114 186h6v6h-6zM216 186h6v6h-6zM210 192h6v6h-6zM150 198h6v6h-6zM204 198h6v6h-6zM318 198h6v6h-6zM318 204h6v6h-6zM318 210h6v6h-6zM210 216h6v6h-6zM216 222h6v6h-6zM222 222h6v6h-6zM228 228h6v6h-6zM228 234h6v6h-6zM216 240h6v6h-6zM216 246h6v6h-6zM222 246h6v6h-6zM240 306h6v6h-6zM234 312h6v6h-6zM228 330h6v6h-6zM312 336h6v6h-6zM306 342h6v6h-6zM294 348h6v6h-6zM264 354h6v6h-6zM270 354h6v6h-6zM282 354h6v6h-6zM252 444h6v6h-6zM264 444h6v6h-6zM246 450h6v6h-6zM240 462h6v6h-6zM222 510h6v6h-6z"/><path fill="#46f0a9" d="M420 36h6v6h-6zM414 60h6v6h-6zM408 108h6v6h-6zM390 114h6v6h-6zM396 114h6v6h-6zM372 126h6v6h-6zM54 138h6v6h-6zM342 138h6v6h-6zM294 144h6v6h-6zM330 144h6v6h-6zM312 150h6v6h-6zM114 162h6v6h-6zM294 162h6v6h-6zM150 168h6v6h-6zM156 168h6v6h-6zM168 168h6v6h-6zM174 168h6v6h-6zM180 168h6v6h-6zM186 168h6v6h-6zM306 168h6v6h-6zM66 174h6v6h-6zM138 174h6v6h-6zM216 174h6v6h-6zM222 174h6v6h-6zM72 180h6v6h-6zM222 180h6v6h-6zM312 180h6v6h-6zM84 186h6v6h-6zM90 186h6v6h-6zM96 186h6v6h-6zM102 186h6v6h-6zM144 192h6v6h-6zM150 192h6v6h-6zM144 198h6v6h-6zM204 204h6v6h-6zM210 222h6v6h-6zM198 228h6v6h-6zM204 228h6v6h-6zM210 228h6v6h-6zM216 228h6v6h-6zM222 228h6v6h-6zM198 234h6v6h-6zM204 234h6v6h-6zM210 234h6v6h-6zM222 234h6v6h-6zM210 240h6v6h-6zM210 246h6v6h-6zM228 252h6v6h-6zM228 258h6v6h-6zM228 264h6v6h-6zM240 294h6v6h-6zM240 300h6v6h-6zM234 306h6v6h-6zM228 336h6v6h-6zM240 348h6v6h-6zM258 354h6v6h-6zM234 468h6v6h-6zM222 492h6v6h-6zM222 498h6v6h-6zM222 504h6v6h-6z"/><path fill="#49f0a6" d="M420 42h6v6h-6zM420 48h6v6h-6zM414 66h6v6h-6zM414 72h6v6h-6zM354 132h6v6h-6zM54 144h6v6h-6zM300 144h6v6h-6zM54 150h6v6h-6zM306 150h6v6h-6zM318 150h6v6h-6zM300 162h6v6h-6zM108 168h6v6h-6zM120 168h6v6h-6zM162 168h6v6h-6zM192 168h6v6h-6zM198 168h6v6h-6zM54 174h6v6h-6zM60 174h6v6h-6zM126 174h6v6h-6zM210 174h6v6h-6zM312 174h6v6h-6zM114 180h6v6h-6zM132 180h6v6h-6zM138 180h6v6h-6zM216 180h6v6h-6zM78 186h6v6h-6zM120 186h6v6h-6zM138 186h6v6h-6zM138 192h6v6h-6zM204 192h6v6h-6zM318 192h6v6h-6zM198 198h6v6h-6zM150 204h6v6h-6zM324 210h6v6h-6zM186 222h6v6h-6zM192 222h6v6h-6zM198 222h6v6h-6zM204 222h6v6h-6zM192 228h6v6h-6zM216 234h6v6h-6zM204 240h6v6h-6zM198 252h6v6h-6zM204 252h6v6h-6zM210 252h6v6h-6zM216 252h6v6h-6zM234 276h6v6h-6zM228 324h6v6h-6zM234 342h6v6h-6zM300 348h6v6h-6zM252 354h6v6h-6zM270 444h6v6h-6zM276 444h6v6h-6zM240 456h6v6h-6zM228 480h6v6h-6zM216 516h6v6h-6zM210 522h6v6h-6z"/><path fill="#4cf0a3" d="M426 36h6v6h-6zM438 36h6v6h-6zM420 54h6v6h-6zM402 114h6v6h-6zM378 126h6v6h-6zM360 132h6v6h-6zM294 150h6v6h-6zM300 150h6v6h-6zM324 150h6v6h-6zM294 156h6v6h-6zM300 156h6v6h-6zM306 156h6v6h-6zM312 156h6v6h-6zM306 162h6v6h-6zM114 168h6v6h-6zM108 174h6v6h-6zM120 174h6v6h-6zM144 174h6v6h-6zM174 174h6v6h-6zM180 174h6v6h-6zM120 180h6v6h-6zM126 180h6v6h-6zM132 186h6v6h-6zM144 186h6v6h-6zM210 186h6v6h-6zM318 186h6v6h-6zM90 192h6v6h-6zM96 192h6v6h-6zM114 192h6v6h-6zM156 198h6v6h-6zM144 204h6v6h-6zM204 210h6v6h-6zM186 216h6v6h-6zM204 216h6v6h-6zM192 234h6v6h-6zM198 240h6v6h-6zM204 246h6v6h-6zM192 252h6v6h-6zM222 252h6v6h-6zM192 258h6v6h-6zM198 258h6v6h-6zM204 258h6v6h-6zM228 270h6v6h-6zM234 300h6v6h-6zM288 354h6v6h-6zM228 474h6v6h-6z"/><path fill="#50f0a0" d="M432 36h6v6h-6zM420 72h6v6h-6zM384 120h6v6h-6zM366 132h6v6h-6zM372 132h6v6h-6zM378 132h6v6h-6zM348 138h6v6h-6zM372 138h6v6h-6zM336 144h6v6h-6zM330 150h6v6h-6zM114 174h6v6h-6zM168 174h6v6h-6zM204 174h6v6h-6zM66 180h6v6h-6zM144 180h6v6h-6zM210 180h6v6h-6zM72 186h6v6h-6zM126 186h6v6h-6zM150 186h6v6h-6zM84 192h6v6h-6zM102 192h6v6h-6zM108 192h6v6h-6zM120 192h6v6h-6zM132 192h6v6h-6zM156 192h6v6h-6zM198 192h6v6h-6zM90 198h6v6h-6zM138 198h6v6h-6zM180 198h6v6h-6zM186 198h6v6h-6zM192 198h6v6h-6zM156 204h6v6h-6zM180 204h6v6h-6zM186 204h6v6h-6zM198 204h6v6h-6zM324 204h6v6h-6zM180 210h6v6h-6zM186 210h6v6h-6zM180 216h6v6h-6zM192 216h6v6h-6zM180 222h6v6h-6zM186 228h6v6h-6zM192 240h6v6h-6zM192 246h6v6h-6zM198 246h6v6h-6zM186 252h6v6h-6zM210 258h6v6h-6zM216 258h6v6h-6zM222 258h6v6h-6zM222 264h6v6h-6zM234 282h6v6h-6zM234 288h6v6h-6zM234 294h6v6h-6zM228 300h6v6h-6zM228 306h6v6h-6zM228 312h6v6h-6zM228 318h6v6h-6zM222 330h6v6h-6zM312 342h6v6h-6zM246 354h6v6h-6zM270 360h6v6h-6zM276 360h6v6h-6zM282 444h6v6h-6zM234 462h6v6h-6zM222 486h6v6h-6zM216 510h6v6h-6z"/><path fill="#54f09b" d="M444 36h6v6h-6zM426 42h6v6h-6zM420 60h6v6h-6zM420 66h6v6h-6zM390 120h6v6h-6zM378 138h6v6h-6zM318 156h6v6h-6zM312 162h6v6h-6zM312 168h6v6h-6zM150 174h6v6h-6zM156 174h6v6h-6zM162 174h6v6h-6zM186 174h6v6h-6zM192 174h6v6h-6zM198 174h6v6h-6zM60 180h6v6h-6zM318 180h6v6h-6zM72 192h6v6h-6zM78 192h6v6h-6zM126 192h6v6h-6zM84 198h6v6h-6zM96 198h6v6h-6zM174 198h6v6h-6zM174 204h6v6h-6zM192 204h6v6h-6zM150 210h6v6h-6zM198 216h6v6h-6zM186 234h6v6h-6zM186 246h6v6h-6zM186 258h6v6h-6zM210 264h6v6h-6zM216 264h6v6h-6zM216 270h6v6h-6zM222 270h6v6h-6zM228 276h6v6h-6zM228 294h6v6h-6zM222 336h6v6h-6zM234 348h6v6h-6zM306 348h6v6h-6zM240 354h6v6h-6zM294 354h6v6h-6zM264 360h6v6h-6zM258 438h6v6h-6zM246 444h6v6h-6zM228 468h6v6h-6zM216 498h6v6h-6zM216 504h6v6h-6zM210 516h6v6h-6z"/><path fill="#59f096" d="M426 72h6v6h-6zM408 114h6v6h-6zM396 120h6v6h-6zM384 126h6v6h-6zM384 132h6v6h-6zM366 138h6v6h-6zM324 156h6v6h-6zM318 174h6v6h-6zM54 180h6v6h-6zM174 180h6v6h-6zM180 180h6v6h-6zM66 186h6v6h-6zM204 186h6v6h-6zM174 192h6v6h-6zM180 192h6v6h-6zM186 192h6v6h-6zM192 192h6v6h-6zM78 198h6v6h-6zM120 198h6v6h-6zM126 198h6v6h-6zM132 198h6v6h-6zM162 198h6v6h-6zM168 198h6v6h-6zM324 198h6v6h-6zM126 204h6v6h-6zM138 204h6v6h-6zM162 204h6v6h-6zM156 210h6v6h-6zM174 210h6v6h-6zM192 210h6v6h-6zM198 210h6v6h-6zM330 210h6v6h-6zM174 216h6v6h-6zM186 240h6v6h-6zM192 264h6v6h-6zM198 264h6v6h-6zM204 264h6v6h-6zM216 276h6v6h-6zM228 288h6v6h-6zM222 294h6v6h-6zM222 300h6v6h-6zM228 342h6v6h-6zM282 360h6v6h-6zM264 438h6v6h-6zM240 450h6v6h-6zM234 456h6v6h-6zM216 492h6v6h-6z"/><path fill="#5ef091" d="M432 42h6v6h-6zM438 42h6v6h-6zM426 48h6v6h-6zM402 120h6v6h-6zM354 138h6v6h-6zM360 138h6v6h-6zM342 144h6v6h-6zM330 156h6v6h-6zM318 162h6v6h-6zM150 180h6v6h-6zM168 180h6v6h-6zM204 180h6v6h-6zM156 186h6v6h-6zM174 186h6v6h-6zM180 186h6v6h-6zM198 186h6v6h-6zM324 186h6v6h-6zM66 192h6v6h-6zM162 192h6v6h-6zM168 192h6v6h-6zM324 192h6v6h-6zM54 198h6v6h-6zM60 198h6v6h-6zM66 198h6v6h-6zM72 198h6v6h-6zM90 204h6v6h-6zM120 204h6v6h-6zM132 204h6v6h-6zM168 204h6v6h-6zM330 204h6v6h-6zM126 210h6v6h-6zM144 210h6v6h-6zM162 210h6v6h-6zM174 222h6v6h-6zM180 228h6v6h-6zM180 252h6v6h-6zM186 264h6v6h-6zM210 270h6v6h-6zM174 276h6v6h-6zM210 276h6v6h-6zM222 276h6v6h-6zM204 282h6v6h-6zM210 282h6v6h-6zM216 282h6v6h-6zM228 282h6v6h-6zM204 288h6v6h-6zM210 288h6v6h-6zM216 288h6v6h-6zM222 288h6v6h-6zM222 306h6v6h-6zM222 324h6v6h-6zM234 354h6v6h-6zM258 360h6v6h-6zM252 438h6v6h-6zM270 438h6v6h-6zM222 480h6v6h-6zM204 522h6v6h-6z"/><path fill="#63f08c" d="M426 54h6v6h-6zM426 66h6v6h-6zM390 126h6v6h-6zM384 138h6v6h-6zM372 144h6v6h-6zM378 144h6v6h-6zM336 150h6v6h-6zM324 162h6v6h-6zM330 162h6v6h-6zM318 168h6v6h-6zM336 174h6v6h-6zM156 180h6v6h-6zM162 180h6v6h-6zM186 180h6v6h-6zM192 180h6v6h-6zM198 180h6v6h-6zM324 180h6v6h-6zM330 180h6v6h-6zM336 180h6v6h-6zM342 180h6v6h-6zM54 186h6v6h-6zM60 186h6v6h-6zM168 186h6v6h-6zM186 186h6v6h-6zM192 186h6v6h-6zM54 192h6v6h-6zM60 192h6v6h-6zM102 198h6v6h-6zM114 198h6v6h-6zM78 204h6v6h-6zM84 204h6v6h-6zM96 204h6v6h-6zM120 210h6v6h-6zM132 210h6v6h-6zM168 210h6v6h-6zM102 216h6v6h-6zM108 216h6v6h-6zM156 216h6v6h-6zM162 216h6v6h-6zM168 216h6v6h-6zM96 222h6v6h-6zM102 222h6v6h-6zM162 222h6v6h-6zM168 222h6v6h-6zM180 246h6v6h-6zM180 258h6v6h-6zM192 270h6v6h-6zM198 270h6v6h-6zM204 270h6v6h-6zM168 276h6v6h-6zM174 282h6v6h-6zM198 282h6v6h-6zM222 282h6v6h-6zM198 288h6v6h-6zM210 294h6v6h-6zM216 294h6v6h-6zM222 342h6v6h-6zM300 354h6v6h-6zM276 438h6v6h-6zM288 444h6v6h-6zM228 462h6v6h-6zM222 474h6v6h-6z"/><path fill="#68f088" d="M450 36h6v6h-6zM444 42h6v6h-6zM426 60h6v6h-6zM432 66h6v6h-6zM408 120h6v6h-6zM348 144h6v6h-6zM324 168h6v6h-6zM330 168h6v6h-6zM336 168h6v6h-6zM324 174h6v6h-6zM330 174h6v6h-6zM162 186h6v6h-6zM330 186h6v6h-6zM336 186h6v6h-6zM342 186h6v6h-6zM108 198h6v6h-6zM330 198h6v6h-6zM336 204h6v6h-6zM96 210h6v6h-6zM102 210h6v6h-6zM114 210h6v6h-6zM138 210h6v6h-6zM336 210h6v6h-6zM96 216h6v6h-6zM150 216h6v6h-6zM162 228h6v6h-6zM168 228h6v6h-6zM174 228h6v6h-6zM162 234h6v6h-6zM180 234h6v6h-6zM162 240h6v6h-6zM180 240h6v6h-6zM180 264h6v6h-6zM186 270h6v6h-6zM180 276h6v6h-6zM192 276h6v6h-6zM198 276h6v6h-6zM204 276h6v6h-6zM192 282h6v6h-6zM198 294h6v6h-6zM204 294h6v6h-6zM216 300h6v6h-6zM222 312h6v6h-6zM222 318h6v6h-6zM240 360h6v6h-6zM252 360h6v6h-6zM288 360h6v6h-6zM216 486h6v6h-6zM210 510h6v6h-6zM204 516h6v6h-6z"/><path fill="#6cf083" d="M432 48h6v6h-6zM432 60h6v6h-6zM414 120h6v6h-6zM396 126h6v6h-6zM390 132h6v6h-6zM366 144h6v6h-6zM336 156h6v6h-6zM336 162h6v6h-6zM342 174h6v6h-6zM330 192h6v6h-6zM336 192h6v6h-6zM342 192h6v6h-6zM336 198h6v6h-6zM342 198h6v6h-6zM54 204h6v6h-6zM72 204h6v6h-6zM102 204h6v6h-6zM114 204h6v6h-6zM84 210h6v6h-6zM90 210h6v6h-6zM108 210h6v6h-6zM114 216h6v6h-6zM90 222h6v6h-6zM108 222h6v6h-6zM156 222h6v6h-6zM96 228h6v6h-6zM156 228h6v6h-6zM156 234h6v6h-6zM168 234h6v6h-6zM156 240h6v6h-6zM168 240h6v6h-6zM168 246h6v6h-6zM174 246h6v6h-6zM174 252h6v6h-6zM168 270h6v6h-6zM174 270h6v6h-6zM180 270h6v6h-6zM186 276h6v6h-6zM168 282h6v6h-6zM180 282h6v6h-6zM186 282h6v6h-6zM192 288h6v6h-6zM192 294h6v6h-6zM198 300h6v6h-6zM204 300h6v6h-6zM210 300h6v6h-6zM216 306h6v6h-6zM216 336h6v6h-6zM318 342h6v6h-6zM228 348h6v6h-6zM234 360h6v6h-6zM246 360h6v6h-6zM264 366h6v6h-6zM270 366h6v6h-6zM282 438h6v6h-6zM234 450h6v6h-6zM222 468h6v6h-6zM210 504h6v6h-6z"/><path fill="#71f07e" d="M438 48h6v6h-6zM432 54h6v6h-6zM402 126h6v6h-6zM354 144h6v6h-6zM342 150h6v6h-6zM342 168h6v6h-6zM60 204h6v6h-6zM66 204h6v6h-6zM108 204h6v6h-6zM342 204h6v6h-6zM90 216h6v6h-6zM120 216h6v6h-6zM126 216h6v6h-6zM144 216h6v6h-6zM102 228h6v6h-6zM174 234h6v6h-6zM174 240h6v6h-6zM162 246h6v6h-6zM174 258h6v6h-6zM192 300h6v6h-6zM216 330h6v6h-6zM216 342h6v6h-6zM312 348h6v6h-6zM258 432h6v6h-6zM246 438h6v6h-6zM240 444h6v6h-6zM228 456h6v6h-6zM210 498h6v6h-6zM198 522h6v6h-6z"/><path fill="#76f079" d="M450 42h6v6h-6zM438 60h6v6h-6zM408 126h6v6h-6zM414 126h6v6h-6zM390 138h6v6h-6zM360 144h6v6h-6zM384 144h6v6h-6zM342 156h6v6h-6zM342 162h6v6h-6zM348 180h6v6h-6zM348 186h6v6h-6zM78 210h6v6h-6zM342 210h6v6h-6zM84 216h6v6h-6zM132 216h6v6h-6zM138 216h6v6h-6zM150 222h6v6h-6zM90 228h6v6h-6zM150 234h6v6h-6zM150 240h6v6h-6zM156 246h6v6h-6zM168 252h6v6h-6zM174 264h6v6h-6zM162 270h6v6h-6zM162 276h6v6h-6zM174 288h6v6h-6zM180 288h6v6h-6zM186 288h6v6h-6zM186 294h6v6h-6zM192 306h6v6h-6zM198 306h6v6h-6zM204 306h6v6h-6zM210 306h6v6h-6zM228 354h6v6h-6zM306 354h6v6h-6zM294 360h6v6h-6zM258 366h6v6h-6zM276 366h6v6h-6zM264 432h6v6h-6zM216 480h6v6h-6zM210 492h6v6h-6z"/><path fill="#7bf074" d="M444 48h6v6h-6zM438 54h6v6h-6zM420 126h6v6h-6zM396 132h6v6h-6zM348 150h6v6h-6zM348 174h6v6h-6zM348 192h6v6h-6zM84 222h6v6h-6zM150 228h6v6h-6zM150 246h6v6h-6zM150 264h6v6h-6zM156 264h6v6h-6zM162 264h6v6h-6zM168 264h6v6h-6zM156 270h6v6h-6zM186 300h6v6h-6zM186 306h6v6h-6zM216 312h6v6h-6zM216 324h6v6h-6zM210 348h6v6h-6zM252 432h6v6h-6zM270 432h6v6h-6zM222 462h6v6h-6zM204 510h6v6h-6zM198 516h6v6h-6z"/><path fill="#80f070" d="M402 132h6v6h-6zM372 150h6v6h-6zM378 150h6v6h-6zM348 198h6v6h-6zM72 210h6v6h-6zM78 216h6v6h-6zM114 222h6v6h-6zM144 222h6v6h-6zM96 234h6v6h-6zM144 234h6v6h-6zM144 240h6v6h-6zM144 246h6v6h-6zM150 252h6v6h-6zM156 252h6v6h-6zM162 252h6v6h-6zM150 258h6v6h-6zM156 258h6v6h-6zM162 258h6v6h-6zM168 258h6v6h-6zM150 270h6v6h-6zM162 282h6v6h-6zM168 288h6v6h-6zM180 294h6v6h-6zM192 312h6v6h-6zM198 312h6v6h-6zM216 318h6v6h-6zM210 342h6v6h-6zM216 348h6v6h-6zM222 348h6v6h-6zM204 354h6v6h-6zM210 354h6v6h-6zM228 360h6v6h-6zM234 366h6v6h-6zM282 366h6v6h-6zM288 438h6v6h-6zM228 450h6v6h-6zM216 474h6v6h-6z"/><path fill="#83f06b" d="M444 54h6v6h-6zM408 132h6v6h-6zM348 156h6v6h-6zM348 168h6v6h-6zM348 204h6v6h-6zM348 210h6v6h-6zM138 222h6v6h-6zM108 228h6v6h-6zM144 228h6v6h-6zM102 234h6v6h-6zM144 252h6v6h-6zM144 258h6v6h-6zM156 276h6v6h-6zM144 294h6v6h-6zM174 294h6v6h-6zM138 300h6v6h-6zM180 300h6v6h-6zM180 306h6v6h-6zM180 312h6v6h-6zM186 312h6v6h-6zM204 312h6v6h-6zM210 312h6v6h-6zM180 324h6v6h-6zM210 336h6v6h-6zM204 348h6v6h-6zM318 348h6v6h-6zM300 360h6v6h-6zM240 366h6v6h-6zM252 366h6v6h-6zM258 426h6v6h-6zM264 426h6v6h-6zM276 432h6v6h-6zM210 486h6v6h-6zM204 504h6v6h-6zM192 522h6v6h-6z"/><path fill="#86f068" d="M450 48h6v6h-6zM396 138h6v6h-6zM390 144h6v6h-6zM354 150h6v6h-6zM366 150h6v6h-6zM348 162h6v6h-6zM354 180h6v6h-6zM354 186h6v6h-6zM60 210h6v6h-6zM66 210h6v6h-6zM78 222h6v6h-6zM120 222h6v6h-6zM126 222h6v6h-6zM132 222h6v6h-6zM84 228h6v6h-6zM138 228h6v6h-6zM90 234h6v6h-6zM138 234h6v6h-6zM96 240h6v6h-6zM102 240h6v6h-6zM138 240h6v6h-6zM114 246h6v6h-6zM120 246h6v6h-6zM138 246h6v6h-6zM144 264h6v6h-6zM144 270h6v6h-6zM150 276h6v6h-6zM144 288h6v6h-6zM150 288h6v6h-6zM162 288h6v6h-6zM138 294h6v6h-6zM150 294h6v6h-6zM144 300h6v6h-6zM150 300h6v6h-6zM174 300h6v6h-6zM132 306h6v6h-6zM138 306h6v6h-6zM162 306h6v6h-6zM168 306h6v6h-6zM174 306h6v6h-6zM162 312h6v6h-6zM168 312h6v6h-6zM174 312h6v6h-6zM174 318h6v6h-6zM180 318h6v6h-6zM186 318h6v6h-6zM204 318h6v6h-6zM210 318h6v6h-6zM174 324h6v6h-6zM186 324h6v6h-6zM210 324h6v6h-6zM174 330h6v6h-6zM180 330h6v6h-6zM210 330h6v6h-6zM204 342h6v6h-6zM198 354h6v6h-6zM216 354h6v6h-6zM204 360h6v6h-6zM228 366h6v6h-6zM258 372h6v6h-6zM264 372h6v6h-6zM246 432h6v6h-6zM240 438h6v6h-6zM234 444h6v6h-6zM222 456h6v6h-6zM216 468h6v6h-6zM198 510h6v6h-6z"/><path fill="#89f063" d="M414 132h6v6h-6zM360 150h6v6h-6zM384 150h6v6h-6zM354 174h6v6h-6zM354 192h6v6h-6zM354 198h6v6h-6zM54 210h6v6h-6zM72 216h6v6h-6zM132 228h6v6h-6zM108 234h6v6h-6zM132 234h6v6h-6zM108 240h6v6h-6zM114 240h6v6h-6zM120 240h6v6h-6zM96 246h6v6h-6zM102 246h6v6h-6zM108 246h6v6h-6zM126 246h6v6h-6zM114 252h6v6h-6zM120 252h6v6h-6zM126 252h6v6h-6zM138 252h6v6h-6zM144 276h6v6h-6zM144 282h6v6h-6zM150 282h6v6h-6zM156 282h6v6h-6zM138 288h6v6h-6zM156 288h6v6h-6zM108 294h6v6h-6zM156 294h6v6h-6zM162 294h6v6h-6zM168 294h6v6h-6zM108 300h6v6h-6zM132 300h6v6h-6zM156 300h6v6h-6zM162 300h6v6h-6zM168 300h6v6h-6zM144 306h6v6h-6zM156 306h6v6h-6zM138 312h6v6h-6zM156 312h6v6h-6zM144 318h6v6h-6zM150 318h6v6h-6zM156 318h6v6h-6zM162 318h6v6h-6zM168 318h6v6h-6zM192 318h6v6h-6zM198 318h6v6h-6zM144 324h6v6h-6zM150 324h6v6h-6zM156 324h6v6h-6zM162 324h6v6h-6zM168 324h6v6h-6zM204 324h6v6h-6zM156 330h6v6h-6zM162 330h6v6h-6zM168 330h6v6h-6zM186 330h6v6h-6zM204 336h6v6h-6zM222 354h6v6h-6zM312 354h6v6h-6zM198 360h6v6h-6zM210 360h6v6h-6zM222 360h6v6h-6zM246 366h6v6h-6zM288 366h6v6h-6zM252 426h6v6h-6zM294 438h6v6h-6zM204 498h6v6h-6zM192 516h6v6h-6z"/><path fill="#8cf060" d="M402 138h6v6h-6zM354 156h6v6h-6zM354 168h6v6h-6zM354 204h6v6h-6zM354 210h6v6h-6zM78 228h6v6h-6zM114 228h6v6h-6zM114 234h6v6h-6zM90 240h6v6h-6zM126 240h6v6h-6zM132 240h6v6h-6zM132 246h6v6h-6zM96 252h6v6h-6zM102 252h6v6h-6zM108 252h6v6h-6zM132 252h6v6h-6zM114 258h6v6h-6zM138 258h6v6h-6zM138 264h6v6h-6zM138 270h6v6h-6zM138 276h6v6h-6zM138 282h6v6h-6zM96 288h6v6h-6zM102 288h6v6h-6zM108 288h6v6h-6zM102 294h6v6h-6zM114 294h6v6h-6zM114 300h6v6h-6zM150 306h6v6h-6zM132 312h6v6h-6zM144 312h6v6h-6zM150 312h6v6h-6zM138 318h6v6h-6zM192 324h6v6h-6zM198 324h6v6h-6zM150 330h6v6h-6zM192 330h6v6h-6zM198 330h6v6h-6zM204 330h6v6h-6zM198 348h6v6h-6zM192 360h6v6h-6zM216 360h6v6h-6zM222 366h6v6h-6zM270 372h6v6h-6zM282 432h6v6h-6zM300 438h6v6h-6zM210 480h6v6h-6zM204 492h6v6h-6z"/><path fill="#90f05c" d="M420 132h6v6h-6zM396 144h6v6h-6zM360 156h6v6h-6zM354 162h6v6h-6zM360 174h6v6h-6zM360 180h6v6h-6zM360 186h6v6h-6zM360 192h6v6h-6zM360 198h6v6h-6zM66 216h6v6h-6zM72 222h6v6h-6zM120 228h6v6h-6zM126 228h6v6h-6zM84 234h6v6h-6zM120 234h6v6h-6zM126 234h6v6h-6zM90 246h6v6h-6zM108 258h6v6h-6zM120 258h6v6h-6zM126 258h6v6h-6zM132 258h6v6h-6zM114 264h6v6h-6zM132 264h6v6h-6zM132 270h6v6h-6zM96 282h6v6h-6zM102 282h6v6h-6zM108 282h6v6h-6zM90 288h6v6h-6zM96 294h6v6h-6zM132 294h6v6h-6zM108 306h6v6h-6zM114 306h6v6h-6zM126 306h6v6h-6zM138 324h6v6h-6zM144 330h6v6h-6zM156 336h6v6h-6zM162 336h6v6h-6zM168 336h6v6h-6zM174 336h6v6h-6zM180 336h6v6h-6zM186 336h6v6h-6zM192 336h6v6h-6zM198 336h6v6h-6zM198 342h6v6h-6zM324 348h6v6h-6zM192 354h6v6h-6zM306 360h6v6h-6zM210 366h6v6h-6zM216 366h6v6h-6zM294 366h6v6h-6zM228 372h6v6h-6zM234 372h6v6h-6zM252 372h6v6h-6zM258 378h6v6h-6zM258 420h6v6h-6zM270 426h6v6h-6zM222 450h6v6h-6zM216 462h6v6h-6zM198 504h6v6h-6zM186 522h6v6h-6z"/><path fill="#93f057" d="M408 138h6v6h-6zM402 144h6v6h-6zM390 150h6v6h-6zM366 156h6v6h-6zM372 156h6v6h-6zM360 162h6v6h-6zM360 168h6v6h-6zM360 204h6v6h-6zM72 228h6v6h-6zM102 258h6v6h-6zM108 264h6v6h-6zM126 264h6v6h-6zM108 270h6v6h-6zM108 276h6v6h-6zM132 276h6v6h-6zM114 288h6v6h-6zM84 294h6v6h-6zM90 294h6v6h-6zM102 300h6v6h-6zM120 300h6v6h-6zM126 300h6v6h-6zM120 306h6v6h-6zM126 312h6v6h-6zM132 318h6v6h-6zM150 336h6v6h-6zM162 360h6v6h-6zM168 360h6v6h-6zM198 366h6v6h-6zM204 366h6v6h-6zM222 372h6v6h-6zM264 420h6v6h-6zM228 444h6v6h-6zM204 486h6v6h-6zM192 510h6v6h-6z"/><path fill="#96f054" d="M396 150h6v6h-6zM378 156h6v6h-6zM366 162h6v6h-6zM366 192h6v6h-6zM366 198h6v6h-6zM360 210h6v6h-6zM60 216h6v6h-6zM66 222h6v6h-6zM66 228h6v6h-6zM72 234h6v6h-6zM78 234h6v6h-6zM90 252h6v6h-6zM120 264h6v6h-6zM114 270h6v6h-6zM126 270h6v6h-6zM102 276h6v6h-6zM114 276h6v6h-6zM90 282h6v6h-6zM114 282h6v6h-6zM132 282h6v6h-6zM84 288h6v6h-6zM132 288h6v6h-6zM84 300h6v6h-6zM90 300h6v6h-6zM96 300h6v6h-6zM162 342h6v6h-6zM168 342h6v6h-6zM192 342h6v6h-6zM192 348h6v6h-6zM162 354h6v6h-6zM168 354h6v6h-6zM318 354h6v6h-6zM186 360h6v6h-6zM162 366h6v6h-6zM168 366h6v6h-6zM174 366h6v6h-6zM192 366h6v6h-6zM216 372h6v6h-6zM240 372h6v6h-6zM276 372h6v6h-6zM264 378h6v6h-6zM246 426h6v6h-6zM240 432h6v6h-6zM288 432h6v6h-6zM210 474h6v6h-6zM198 498h6v6h-6zM186 516h6v6h-6z"/><path fill="#99f04f" d="M414 138h6v6h-6zM408 144h6v6h-6zM402 150h6v6h-6zM384 156h6v6h-6zM366 168h6v6h-6zM366 174h6v6h-6zM366 180h6v6h-6zM366 186h6v6h-6zM366 204h6v6h-6zM54 216h6v6h-6zM60 222h6v6h-6zM66 234h6v6h-6zM84 240h6v6h-6zM96 258h6v6h-6zM120 270h6v6h-6zM78 294h6v6h-6zM120 294h6v6h-6zM126 294h6v6h-6zM102 306h6v6h-6zM114 312h6v6h-6zM120 312h6v6h-6zM126 318h6v6h-6zM132 324h6v6h-6zM138 330h6v6h-6zM144 336h6v6h-6zM156 342h6v6h-6zM174 342h6v6h-6zM180 342h6v6h-6zM186 342h6v6h-6zM162 348h6v6h-6zM168 348h6v6h-6zM186 354h6v6h-6zM174 360h6v6h-6zM186 366h6v6h-6zM300 366h6v6h-6zM210 372h6v6h-6zM246 372h6v6h-6zM252 378h6v6h-6zM252 420h6v6h-6zM306 432h6v6h-6zM234 438h6v6h-6zM216 456h6v6h-6zM210 468h6v6h-6zM204 480h6v6h-6z"/><path fill="#9cf04c" d="M420 138h6v6h-6zM390 156h6v6h-6zM396 156h6v6h-6zM372 198h6v6h-6zM366 210h6v6h-6zM60 228h6v6h-6zM78 240h6v6h-6zM84 246h6v6h-6zM102 264h6v6h-6zM102 270h6v6h-6zM96 276h6v6h-6zM126 276h6v6h-6zM84 282h6v6h-6zM78 288h6v6h-6zM78 300h6v6h-6zM108 312h6v6h-6zM150 342h6v6h-6zM156 348h6v6h-6zM174 348h6v6h-6zM186 348h6v6h-6zM156 354h6v6h-6zM174 354h6v6h-6zM324 354h6v6h-6zM156 360h6v6h-6zM180 360h6v6h-6zM312 360h6v6h-6zM156 366h6v6h-6zM180 366h6v6h-6zM168 372h6v6h-6zM174 372h6v6h-6zM204 372h6v6h-6zM282 372h6v6h-6zM234 378h6v6h-6zM258 384h6v6h-6zM276 426h6v6h-6zM300 432h6v6h-6zM198 492h6v6h-6zM192 504h6v6h-6zM180 522h6v6h-6z"/><path fill="#a0f048" d="M414 144h6v6h-6zM408 150h6v6h-6zM372 162h6v6h-6zM372 192h6v6h-6zM372 204h6v6h-6zM54 222h6v6h-6zM72 240h6v6h-6zM90 258h6v6h-6zM90 276h6v6h-6zM120 276h6v6h-6zM120 288h6v6h-6zM126 288h6v6h-6zM84 306h6v6h-6zM90 306h6v6h-6zM96 306h6v6h-6zM120 318h6v6h-6zM138 336h6v6h-6zM180 348h6v6h-6zM180 354h6v6h-6zM162 372h6v6h-6zM180 372h6v6h-6zM192 372h6v6h-6zM198 372h6v6h-6zM288 372h6v6h-6zM228 378h6v6h-6zM240 378h6v6h-6zM246 378h6v6h-6zM252 384h6v6h-6zM270 420h6v6h-6zM294 432h6v6h-6zM222 444h6v6h-6zM216 450h6v6h-6zM210 462h6v6h-6zM204 474h6v6h-6zM198 486h6v6h-6zM186 510h6v6h-6zM156 522h6v6h-6zM162 522h6v6h-6zM168 522h6v6h-6z"/><path fill="#a2f045" d="M402 156h6v6h-6zM372 210h6v6h-6zM54 228h6v6h-6zM60 234h6v6h-6zM78 246h6v6h-6zM84 252h6v6h-6zM96 264h6v6h-6zM78 282h6v6h-6zM120 282h6v6h-6zM126 282h6v6h-6zM78 306h6v6h-6zM102 312h6v6h-6zM114 318h6v6h-6zM126 324h6v6h-6zM132 330h6v6h-6zM144 342h6v6h-6zM150 348h6v6h-6zM150 354h6v6h-6zM330 354h6v6h-6zM150 360h6v6h-6zM318 360h6v6h-6zM150 366h6v6h-6zM306 366h6v6h-6zM150 372h6v6h-6zM156 372h6v6h-6zM186 372h6v6h-6zM294 372h6v6h-6zM222 378h6v6h-6zM270 378h6v6h-6zM246 384h6v6h-6zM264 384h6v6h-6zM258 414h6v6h-6zM204 468h6v6h-6zM198 480h6v6h-6zM192 498h6v6h-6zM180 516h6v6h-6zM150 522h6v6h-6zM174 522h6v6h-6z"/><path fill="#a4f043" d="M420 144h6v6h-6zM414 150h6v6h-6zM378 162h6v6h-6zM372 168h6v6h-6zM372 186h6v6h-6zM378 204h6v6h-6zM96 270h6v6h-6zM66 276h6v6h-6zM72 276h6v6h-6zM66 282h6v6h-6zM72 282h6v6h-6zM72 288h6v6h-6zM108 318h6v6h-6zM132 336h6v6h-6zM120 342h6v6h-6zM138 342h6v6h-6zM120 348h6v6h-6zM324 360h6v6h-6zM144 372h6v6h-6zM150 378h6v6h-6zM156 378h6v6h-6zM180 378h6v6h-6zM204 378h6v6h-6zM210 378h6v6h-6zM216 378h6v6h-6zM240 384h6v6h-6zM246 390h6v6h-6zM252 390h6v6h-6zM258 390h6v6h-6zM264 414h6v6h-6zM246 420h6v6h-6zM240 426h6v6h-6zM282 426h6v6h-6zM210 456h6v6h-6zM198 468h6v6h-6zM198 474h6v6h-6zM186 504h6v6h-6zM162 516h6v6h-6zM168 516h6v6h-6zM174 516h6v6h-6zM144 522h6v6h-6z"/><path fill="#a7f040" d="M408 156h6v6h-6zM384 162h6v6h-6zM390 162h6v6h-6zM396 162h6v6h-6zM372 174h6v6h-6zM372 180h6v6h-6zM378 198h6v6h-6zM54 234h6v6h-6zM66 240h6v6h-6zM78 252h6v6h-6zM84 258h6v6h-6zM90 264h6v6h-6zM90 270h6v6h-6zM60 276h6v6h-6zM84 276h6v6h-6zM72 294h6v6h-6zM72 300h6v6h-6zM72 306h6v6h-6zM96 312h6v6h-6zM120 324h6v6h-6zM126 330h6v6h-6zM126 342h6v6h-6zM132 342h6v6h-6zM126 348h6v6h-6zM144 348h6v6h-6zM144 354h6v6h-6zM138 360h6v6h-6zM144 360h6v6h-6zM330 360h6v6h-6zM138 366h6v6h-6zM144 366h6v6h-6zM312 366h6v6h-6zM318 366h6v6h-6zM324 366h6v6h-6zM138 372h6v6h-6zM300 372h6v6h-6zM144 378h6v6h-6zM162 378h6v6h-6zM168 378h6v6h-6zM174 378h6v6h-6zM186 378h6v6h-6zM192 378h6v6h-6zM198 378h6v6h-6zM234 384h6v6h-6zM240 390h6v6h-6zM252 414h6v6h-6zM306 426h6v6h-6zM234 432h6v6h-6zM228 438h6v6h-6zM198 462h6v6h-6zM204 462h6v6h-6zM192 492h6v6h-6zM168 510h6v6h-6zM174 510h6v6h-6zM180 510h6v6h-6zM138 522h6v6h-6z"/><path fill="#a9f03e" d="M420 150h6v6h-6zM378 210h6v6h-6zM72 246h6v6h-6zM60 270h6v6h-6zM66 270h6v6h-6zM72 270h6v6h-6zM54 276h6v6h-6zM78 276h6v6h-6zM60 282h6v6h-6zM72 312h6v6h-6zM78 312h6v6h-6zM84 312h6v6h-6zM90 312h6v6h-6zM54 318h6v6h-6zM60 318h6v6h-6zM102 318h6v6h-6zM114 324h6v6h-6zM120 336h6v6h-6zM126 336h6v6h-6zM114 342h6v6h-6zM114 348h6v6h-6zM132 348h6v6h-6zM138 348h6v6h-6zM120 354h6v6h-6zM126 354h6v6h-6zM132 354h6v6h-6zM138 354h6v6h-6zM132 360h6v6h-6zM336 360h6v6h-6zM156 384h6v6h-6zM228 384h6v6h-6zM264 390h6v6h-6zM270 414h6v6h-6zM276 420h6v6h-6zM288 426h6v6h-6zM300 426h6v6h-6zM216 444h6v6h-6zM210 450h6v6h-6zM204 456h6v6h-6zM192 462h6v6h-6zM192 468h6v6h-6zM192 480h6v6h-6zM192 486h6v6h-6zM168 504h6v6h-6zM138 516h6v6h-6zM156 516h6v6h-6zM132 522h6v6h-6z"/><path fill="#acf03c" d="M402 162h6v6h-6zM378 192h6v6h-6zM60 240h6v6h-6zM72 252h6v6h-6zM78 258h6v6h-6zM72 264h6v6h-6zM84 264h6v6h-6zM54 270h6v6h-6zM78 270h6v6h-6zM84 270h6v6h-6zM66 288h6v6h-6zM66 312h6v6h-6zM66 318h6v6h-6zM96 318h6v6h-6zM90 324h6v6h-6zM96 324h6v6h-6zM120 330h6v6h-6zM126 360h6v6h-6zM132 366h6v6h-6zM330 366h6v6h-6zM306 372h6v6h-6zM312 372h6v6h-6zM318 372h6v6h-6zM324 372h6v6h-6zM138 378h6v6h-6zM276 378h6v6h-6zM150 384h6v6h-6zM162 384h6v6h-6zM180 384h6v6h-6zM198 384h6v6h-6zM204 384h6v6h-6zM270 384h6v6h-6zM246 396h6v6h-6zM258 408h6v6h-6zM204 414h6v6h-6zM210 414h6v6h-6zM210 420h6v6h-6zM216 420h6v6h-6zM294 426h6v6h-6zM312 426h6v6h-6zM222 438h6v6h-6zM204 450h6v6h-6zM198 456h6v6h-6zM192 474h6v6h-6zM186 498h6v6h-6zM162 504h6v6h-6zM174 504h6v6h-6zM180 504h6v6h-6zM162 510h6v6h-6zM132 516h6v6h-6zM144 516h6v6h-6zM150 516h6v6h-6z"/><path fill="#aef039" d="M378 168h6v6h-6zM54 240h6v6h-6zM72 258h6v6h-6zM66 264h6v6h-6zM78 264h6v6h-6zM66 306h6v6h-6zM60 312h6v6h-6zM72 318h6v6h-6zM78 318h6v6h-6zM84 318h6v6h-6zM90 318h6v6h-6zM54 324h6v6h-6zM60 324h6v6h-6zM84 324h6v6h-6zM102 324h6v6h-6zM108 324h6v6h-6zM84 330h6v6h-6zM90 330h6v6h-6zM96 330h6v6h-6zM84 336h6v6h-6zM90 336h6v6h-6zM114 336h6v6h-6zM84 342h6v6h-6zM90 342h6v6h-6zM132 372h6v6h-6zM288 378h6v6h-6zM144 384h6v6h-6zM168 384h6v6h-6zM174 384h6v6h-6zM186 384h6v6h-6zM192 384h6v6h-6zM210 384h6v6h-6zM222 384h6v6h-6zM156 390h6v6h-6zM204 390h6v6h-6zM234 390h6v6h-6zM270 390h6v6h-6zM240 396h6v6h-6zM252 396h6v6h-6zM258 396h6v6h-6zM264 396h6v6h-6zM270 396h6v6h-6zM198 408h6v6h-6zM252 408h6v6h-6zM264 408h6v6h-6zM270 408h6v6h-6zM276 408h6v6h-6zM198 414h6v6h-6zM216 414h6v6h-6zM246 414h6v6h-6zM276 414h6v6h-6zM240 420h6v6h-6zM282 420h6v6h-6zM210 444h6v6h-6zM192 456h6v6h-6zM162 498h6v6h-6zM168 498h6v6h-6zM174 498h6v6h-6z"/><path fill="#b0f037" d="M414 156h6v6h-6zM384 204h6v6h-6zM384 210h6v6h-6zM66 246h6v6h-6zM60 264h6v6h-6zM54 282h6v6h-6zM54 312h6v6h-6zM78 324h6v6h-6zM102 330h6v6h-6zM114 330h6v6h-6zM96 336h6v6h-6zM108 342h6v6h-6zM114 354h6v6h-6zM120 360h6v6h-6zM126 366h6v6h-6zM336 366h6v6h-6zM330 372h6v6h-6zM132 378h6v6h-6zM282 378h6v6h-6zM294 378h6v6h-6zM216 384h6v6h-6zM150 390h6v6h-6zM162 390h6v6h-6zM180 390h6v6h-6zM198 390h6v6h-6zM156 396h6v6h-6zM204 396h6v6h-6zM258 402h6v6h-6zM264 402h6v6h-6zM270 402h6v6h-6zM276 402h6v6h-6zM282 402h6v6h-6zM204 408h6v6h-6zM282 408h6v6h-6zM222 414h6v6h-6zM228 414h6v6h-6zM282 414h6v6h-6zM204 420h6v6h-6zM222 420h6v6h-6zM300 420h6v6h-6zM306 420h6v6h-6zM234 426h6v6h-6zM228 432h6v6h-6zM216 438h6v6h-6zM204 444h6v6h-6zM198 450h6v6h-6zM186 462h6v6h-6zM186 468h6v6h-6zM186 474h6v6h-6zM186 480h6v6h-6zM186 486h6v6h-6zM174 492h6v6h-6zM186 492h6v6h-6zM156 498h6v6h-6zM180 498h6v6h-6zM138 510h6v6h-6zM156 510h6v6h-6z"/><path fill="#b3f034" d="M378 186h6v6h-6zM384 216h6v6h-6zM54 246h6v6h-6zM66 252h6v6h-6zM66 258h6v6h-6zM54 264h6v6h-6zM60 288h6v6h-6zM66 294h6v6h-6zM66 324h6v6h-6zM72 324h6v6h-6zM78 330h6v6h-6zM108 330h6v6h-6zM108 336h6v6h-6zM84 348h6v6h-6zM90 348h6v6h-6zM108 348h6v6h-6zM342 366h6v6h-6zM318 378h6v6h-6zM324 378h6v6h-6zM132 384h6v6h-6zM138 384h6v6h-6zM168 390h6v6h-6zM174 390h6v6h-6zM210 390h6v6h-6zM228 390h6v6h-6zM150 396h6v6h-6zM198 396h6v6h-6zM234 396h6v6h-6zM276 396h6v6h-6zM198 402h6v6h-6zM204 402h6v6h-6zM240 402h6v6h-6zM246 402h6v6h-6zM252 402h6v6h-6zM192 408h6v6h-6zM246 408h6v6h-6zM288 408h6v6h-6zM192 414h6v6h-6zM234 414h6v6h-6zM240 414h6v6h-6zM228 420h6v6h-6zM234 420h6v6h-6zM288 420h6v6h-6zM294 420h6v6h-6zM312 420h6v6h-6zM210 426h6v6h-6zM216 426h6v6h-6zM216 432h6v6h-6zM222 432h6v6h-6zM192 450h6v6h-6zM186 456h6v6h-6zM180 480h6v6h-6zM174 486h6v6h-6zM180 486h6v6h-6zM162 492h6v6h-6zM168 492h6v6h-6zM180 492h6v6h-6zM156 504h6v6h-6zM132 510h6v6h-6zM144 510h6v6h-6zM150 510h6v6h-6zM126 516h6v6h-6zM108 522h6v6h-6zM126 522h6v6h-6z"/><path fill="#b5f032" d="M420 156h6v6h-6zM408 162h6v6h-6zM384 168h6v6h-6zM390 168h6v6h-6zM396 168h6v6h-6zM378 174h6v6h-6zM384 198h6v6h-6zM60 246h6v6h-6zM54 252h6v6h-6zM60 258h6v6h-6zM66 300h6v6h-6zM54 330h6v6h-6zM78 336h6v6h-6zM102 336h6v6h-6zM96 342h6v6h-6zM126 372h6v6h-6zM300 378h6v6h-6zM306 378h6v6h-6zM312 378h6v6h-6zM330 378h6v6h-6zM126 384h6v6h-6zM276 384h6v6h-6zM336 384h6v6h-6zM144 390h6v6h-6zM186 390h6v6h-6zM192 390h6v6h-6zM276 390h6v6h-6zM162 396h6v6h-6zM180 396h6v6h-6zM210 396h6v6h-6zM282 396h6v6h-6zM192 402h6v6h-6zM288 402h6v6h-6zM210 408h6v6h-6zM234 408h6v6h-6zM240 408h6v6h-6zM288 414h6v6h-6zM198 420h6v6h-6zM318 420h6v6h-6zM222 426h6v6h-6zM228 426h6v6h-6zM210 432h6v6h-6zM210 438h6v6h-6zM198 444h6v6h-6zM180 474h6v6h-6zM174 480h6v6h-6zM156 492h6v6h-6zM150 498h6v6h-6zM150 504h6v6h-6zM102 522h6v6h-6zM114 522h6v6h-6z"/><path fill="#b8f030" d="M378 180h6v6h-6zM60 252h6v6h-6zM54 258h6v6h-6zM60 306h6v6h-6zM60 330h6v6h-6zM66 330h6v6h-6zM72 330h6v6h-6zM78 342h6v6h-6zM102 342h6v6h-6zM108 354h6v6h-6zM114 360h6v6h-6zM120 366h6v6h-6zM336 372h6v6h-6zM348 372h6v6h-6zM126 378h6v6h-6zM336 378h6v6h-6zM324 384h6v6h-6zM330 384h6v6h-6zM126 390h6v6h-6zM132 390h6v6h-6zM138 390h6v6h-6zM216 390h6v6h-6zM222 390h6v6h-6zM144 396h6v6h-6zM168 396h6v6h-6zM174 396h6v6h-6zM186 396h6v6h-6zM192 396h6v6h-6zM186 402h6v6h-6zM210 402h6v6h-6zM234 402h6v6h-6zM216 408h6v6h-6zM222 408h6v6h-6zM228 408h6v6h-6zM294 414h6v6h-6zM192 420h6v6h-6zM204 426h6v6h-6zM204 438h6v6h-6zM192 444h6v6h-6zM186 450h6v6h-6zM180 468h6v6h-6zM168 486h6v6h-6zM150 492h6v6h-6zM138 504h6v6h-6zM144 504h6v6h-6zM126 510h6v6h-6zM120 522h6v6h-6z"/><path fill="#bcf02c" d="M402 168h6v6h-6zM390 210h6v6h-6zM390 216h6v6h-6zM54 288h6v6h-6zM72 336h6v6h-6zM96 348h6v6h-6zM84 354h6v6h-6zM90 354h6v6h-6zM342 372h6v6h-6zM342 378h6v6h-6zM120 384h6v6h-6zM282 384h6v6h-6zM288 384h6v6h-6zM282 390h6v6h-6zM330 390h6v6h-6zM126 396h6v6h-6zM132 396h6v6h-6zM138 396h6v6h-6zM228 396h6v6h-6zM288 396h6v6h-6zM132 402h6v6h-6zM138 402h6v6h-6zM144 402h6v6h-6zM150 402h6v6h-6zM156 402h6v6h-6zM180 402h6v6h-6zM228 402h6v6h-6zM186 408h6v6h-6zM294 408h6v6h-6zM186 414h6v6h-6zM300 414h6v6h-6zM306 414h6v6h-6zM186 420h6v6h-6zM204 432h6v6h-6zM180 462h6v6h-6zM174 474h6v6h-6zM168 480h6v6h-6zM162 486h6v6h-6zM144 498h6v6h-6zM132 504h6v6h-6zM120 516h6v6h-6zM96 522h6v6h-6z"/><path fill="#bff129" d="M414 162h6v6h-6zM384 192h6v6h-6zM78 348h6v6h-6zM102 348h6v6h-6zM108 360h6v6h-6zM114 366h6v6h-6zM120 372h6v6h-6zM120 378h6v6h-6zM318 384h6v6h-6zM120 390h6v6h-6zM288 390h6v6h-6zM216 396h6v6h-6zM222 396h6v6h-6zM126 402h6v6h-6zM162 402h6v6h-6zM324 408h6v6h-6zM312 414h6v6h-6zM318 414h6v6h-6zM186 426h6v6h-6zM192 426h6v6h-6zM198 426h6v6h-6zM198 438h6v6h-6zM186 444h6v6h-6zM180 456h6v6h-6zM156 486h6v6h-6zM144 492h6v6h-6zM138 498h6v6h-6zM108 516h6v6h-6zM114 516h6v6h-6z"/><path fill="#c4f226" d="M408 168h6v6h-6zM390 204h6v6h-6zM60 294h6v6h-6zM66 336h6v6h-6zM72 342h6v6h-6zM96 354h6v6h-6zM102 354h6v6h-6zM84 360h6v6h-6zM90 360h6v6h-6zM102 360h6v6h-6zM108 366h6v6h-6zM114 372h6v6h-6zM294 384h6v6h-6zM312 384h6v6h-6zM324 390h6v6h-6zM120 396h6v6h-6zM330 396h6v6h-6zM168 402h6v6h-6zM174 402h6v6h-6zM216 402h6v6h-6zM222 402h6v6h-6zM294 402h6v6h-6zM180 420h6v6h-6zM198 432h6v6h-6zM192 438h6v6h-6zM180 450h6v6h-6zM174 468h6v6h-6zM168 474h6v6h-6zM162 480h6v6h-6zM138 486h6v6h-6zM150 486h6v6h-6zM138 492h6v6h-6zM132 498h6v6h-6zM126 504h6v6h-6zM120 510h6v6h-6zM102 516h6v6h-6zM90 522h6v6h-6z"/><path fill="#c7f323" d="M420 162h6v6h-6zM384 174h6v6h-6zM402 174h6v6h-6zM60 300h6v6h-6zM54 306h6v6h-6zM60 336h6v6h-6zM78 354h6v6h-6zM96 360h6v6h-6zM78 366h6v6h-6zM84 366h6v6h-6zM102 366h6v6h-6zM78 372h6v6h-6zM102 372h6v6h-6zM108 372h6v6h-6zM78 378h6v6h-6zM114 378h6v6h-6zM114 384h6v6h-6zM306 384h6v6h-6zM120 402h6v6h-6zM324 402h6v6h-6zM132 408h6v6h-6zM138 408h6v6h-6zM144 408h6v6h-6zM150 408h6v6h-6zM180 408h6v6h-6zM318 408h6v6h-6zM180 414h6v6h-6zM180 426h6v6h-6zM186 432h6v6h-6zM192 432h6v6h-6zM186 438h6v6h-6zM162 474h6v6h-6zM156 480h6v6h-6zM132 486h6v6h-6zM144 486h6v6h-6zM132 492h6v6h-6zM114 510h6v6h-6z"/><path fill="#ccf420" d="M396 174h6v6h-6zM384 186h6v6h-6zM396 210h6v6h-6zM54 336h6v6h-6zM66 342h6v6h-6zM72 348h6v6h-6zM78 360h6v6h-6zM90 366h6v6h-6zM96 366h6v6h-6zM72 372h6v6h-6zM84 372h6v6h-6zM72 378h6v6h-6zM84 378h6v6h-6zM108 378h6v6h-6zM78 384h6v6h-6zM84 384h6v6h-6zM300 384h6v6h-6zM114 390h6v6h-6zM318 390h6v6h-6zM294 396h6v6h-6zM324 396h6v6h-6zM126 408h6v6h-6zM156 408h6v6h-6zM162 408h6v6h-6zM174 408h6v6h-6zM300 408h6v6h-6zM180 444h6v6h-6zM174 462h6v6h-6zM168 468h6v6h-6zM150 474h6v6h-6zM156 474h6v6h-6zM132 480h6v6h-6zM138 480h6v6h-6zM150 480h6v6h-6zM126 498h6v6h-6zM102 504h6v6h-6zM108 504h6v6h-6zM108 510h6v6h-6zM90 516h6v6h-6zM96 516h6v6h-6zM84 522h6v6h-6z"/><path fill="#d0f41c" d="M390 174h6v6h-6zM408 174h6v6h-6zM384 180h6v6h-6zM408 192h6v6h-6zM390 198h6v6h-6zM408 198h6v6h-6zM54 294h6v6h-6zM66 348h6v6h-6zM72 366h6v6h-6zM90 372h6v6h-6zM96 372h6v6h-6zM90 378h6v6h-6zM102 378h6v6h-6zM108 384h6v6h-6zM294 390h6v6h-6zM114 396h6v6h-6zM96 402h6v6h-6zM102 402h6v6h-6zM114 402h6v6h-6zM318 402h6v6h-6zM168 408h6v6h-6zM306 408h6v6h-6zM312 408h6v6h-6zM174 414h6v6h-6zM174 420h6v6h-6zM180 432h6v6h-6zM174 456h6v6h-6zM150 468h6v6h-6zM156 468h6v6h-6zM162 468h6v6h-6zM144 474h6v6h-6zM144 480h6v6h-6zM120 486h6v6h-6zM126 486h6v6h-6zM126 492h6v6h-6zM102 498h6v6h-6zM108 498h6v6h-6zM120 504h6v6h-6zM102 510h6v6h-6zM84 516h6v6h-6z"/><path fill="#d3f519" d="M414 168h6v6h-6zM402 180h6v6h-6zM402 186h6v6h-6zM408 186h6v6h-6zM402 192h6v6h-6zM396 204h6v6h-6zM60 342h6v6h-6zM60 354h6v6h-6zM72 354h6v6h-6zM66 372h6v6h-6zM96 378h6v6h-6zM72 384h6v6h-6zM90 384h6v6h-6zM78 390h6v6h-6zM84 390h6v6h-6zM312 390h6v6h-6zM90 396h6v6h-6zM96 396h6v6h-6zM108 396h6v6h-6zM318 396h6v6h-6zM90 402h6v6h-6zM108 402h6v6h-6zM120 408h6v6h-6zM144 414h6v6h-6zM150 414h6v6h-6zM156 414h6v6h-6zM162 414h6v6h-6zM168 414h6v6h-6zM180 438h6v6h-6zM174 450h6v6h-6zM162 462h6v6h-6zM168 462h6v6h-6zM144 468h6v6h-6zM132 474h6v6h-6zM138 474h6v6h-6zM120 480h6v6h-6zM126 480h6v6h-6zM114 486h6v6h-6zM120 492h6v6h-6zM120 498h6v6h-6zM96 504h6v6h-6zM114 504h6v6h-6zM96 510h6v6h-6z"/><path fill="#d8f616" d="M396 180h6v6h-6zM408 180h6v6h-6zM390 192h6v6h-6zM414 192h6v6h-6zM402 198h6v6h-6zM402 204h6v6h-6zM54 300h6v6h-6zM60 348h6v6h-6zM54 354h6v6h-6zM66 354h6v6h-6zM54 360h6v6h-6zM60 360h6v6h-6zM72 360h6v6h-6zM66 366h6v6h-6zM66 378h6v6h-6zM90 390h6v6h-6zM108 390h6v6h-6zM306 390h6v6h-6zM102 396h6v6h-6zM312 396h6v6h-6zM300 402h6v6h-6zM312 402h6v6h-6zM114 408h6v6h-6zM126 414h6v6h-6zM132 414h6v6h-6zM138 414h6v6h-6zM150 420h6v6h-6zM156 420h6v6h-6zM162 420h6v6h-6zM168 420h6v6h-6zM174 426h6v6h-6zM162 456h6v6h-6zM168 456h6v6h-6zM150 462h6v6h-6zM156 462h6v6h-6zM138 468h6v6h-6zM102 492h6v6h-6zM108 492h6v6h-6zM114 492h6v6h-6zM96 498h6v6h-6zM114 498h6v6h-6zM84 510h6v6h-6zM90 510h6v6h-6zM78 516h6v6h-6zM60 522h6v6h-6zM78 522h6v6h-6z"/><path fill="#dbf713" d="M420 168h6v6h-6zM414 174h6v6h-6zM390 180h6v6h-6zM390 186h6v6h-6zM396 186h6v6h-6zM66 360h6v6h-6zM60 366h6v6h-6zM60 372h6v6h-6zM96 384h6v6h-6zM102 384h6v6h-6zM72 390h6v6h-6zM300 390h6v6h-6zM84 396h6v6h-6zM300 396h6v6h-6zM306 402h6v6h-6zM108 408h6v6h-6zM174 444h6v6h-6zM168 450h6v6h-6zM144 462h6v6h-6zM132 468h6v6h-6zM120 474h6v6h-6zM126 474h6v6h-6zM114 480h6v6h-6zM108 486h6v6h-6zM90 504h6v6h-6zM66 522h6v6h-6zM72 522h6v6h-6z"/><path fill="#e0f810" d="M414 186h6v6h-6zM396 192h6v6h-6zM396 198h6v6h-6zM54 342h6v6h-6zM54 348h6v6h-6zM54 366h6v6h-6zM60 378h6v6h-6zM66 384h6v6h-6zM96 390h6v6h-6zM102 390h6v6h-6zM78 396h6v6h-6zM306 396h6v6h-6zM84 402h6v6h-6zM96 408h6v6h-6zM102 408h6v6h-6zM120 414h6v6h-6zM144 420h6v6h-6zM156 426h6v6h-6zM162 426h6v6h-6zM168 426h6v6h-6zM174 432h6v6h-6zM162 450h6v6h-6zM156 456h6v6h-6zM138 462h6v6h-6zM126 468h6v6h-6zM96 492h6v6h-6zM78 510h6v6h-6zM72 516h6v6h-6zM54 522h6v6h-6z"/><path fill="#e2f70e" d="M414 180h6v6h-6zM54 372h6v6h-6zM90 408h6v6h-6zM114 414h6v6h-6zM150 426h6v6h-6zM174 438h6v6h-6zM168 444h6v6h-6zM132 462h6v6h-6zM120 468h6v6h-6zM114 474h6v6h-6zM108 480h6v6h-6zM102 486h6v6h-6zM90 498h6v6h-6zM84 504h6v6h-6zM66 516h6v6h-6z"/><path fill="#e4f60c" d="M420 174h6v6h-6zM54 378h6v6h-6zM66 390h6v6h-6zM72 396h6v6h-6zM126 420h6v6h-6zM132 420h6v6h-6zM138 420h6v6h-6zM168 432h6v6h-6zM144 438h6v6h-6zM138 444h6v6h-6zM144 444h6v6h-6zM138 456h6v6h-6zM150 456h6v6h-6zM120 462h6v6h-6zM126 462h6v6h-6zM96 486h6v6h-6zM90 492h6v6h-6z"/><path fill="#e7f50b" d="M60 384h6v6h-6zM78 402h6v6h-6zM84 408h6v6h-6zM108 414h6v6h-6zM120 420h6v6h-6zM144 426h6v6h-6zM150 432h6v6h-6zM156 432h6v6h-6zM162 432h6v6h-6zM138 438h6v6h-6zM168 438h6v6h-6zM132 444h6v6h-6zM162 444h6v6h-6zM132 450h6v6h-6zM138 450h6v6h-6zM156 450h6v6h-6zM132 456h6v6h-6zM144 456h6v6h-6zM114 462h6v6h-6zM114 468h6v6h-6zM96 480h6v6h-6zM102 480h6v6h-6zM84 498h6v6h-6zM78 504h6v6h-6zM72 510h6v6h-6zM60 516h6v6h-6z"/><path fill="#e9f409" d="M420 180h6v6h-6zM54 384h6v6h-6zM102 414h6v6h-6zM114 420h6v6h-6zM144 432h6v6h-6zM150 438h6v6h-6zM156 438h6v6h-6zM162 438h6v6h-6zM150 444h6v6h-6zM156 444h6v6h-6zM144 450h6v6h-6zM150 450h6v6h-6zM126 456h6v6h-6zM90 486h6v6h-6zM72 492h6v6h-6zM78 492h6v6h-6zM84 492h6v6h-6zM78 498h6v6h-6z"/><path fill="#ecf408" d="M60 390h6v6h-6zM66 396h6v6h-6zM72 402h6v6h-6zM78 408h6v6h-6zM108 420h6v6h-6zM132 438h6v6h-6zM120 456h6v6h-6zM96 474h6v6h-6zM108 474h6v6h-6zM90 480h6v6h-6zM72 498h6v6h-6zM72 504h6v6h-6zM66 510h6v6h-6zM54 516h6v6h-6z"/><path fill="#eef306" d="M96 414h6v6h-6zM138 426h6v6h-6zM138 432h6v6h-6zM126 444h6v6h-6zM126 450h6v6h-6zM108 456h6v6h-6zM114 456h6v6h-6zM108 462h6v6h-6zM90 474h6v6h-6zM102 474h6v6h-6zM84 486h6v6h-6zM66 492h6v6h-6zM66 498h6v6h-6z"/><path fill="#f0f204" d="M54 390h6v6h-6zM60 396h6v6h-6zM72 408h6v6h-6zM78 414h6v6h-6zM84 414h6v6h-6zM90 414h6v6h-6zM102 420h6v6h-6zM108 426h6v6h-6zM114 426h6v6h-6zM120 426h6v6h-6zM126 426h6v6h-6zM132 426h6v6h-6zM102 456h6v6h-6zM102 462h6v6h-6zM96 468h6v6h-6zM108 468h6v6h-6zM84 480h6v6h-6zM72 486h6v6h-6zM78 486h6v6h-6zM66 504h6v6h-6zM60 510h6v6h-6z"/><path fill="#f3f103" d="M54 396h6v6h-6zM66 402h6v6h-6zM72 414h6v6h-6zM102 426h6v6h-6zM132 432h6v6h-6zM126 438h6v6h-6zM96 456h6v6h-6zM96 462h6v6h-6zM90 468h6v6h-6zM102 468h6v6h-6zM66 486h6v6h-6z"/><path fill="#f5f001" d="M54 402h6v6h-6zM60 402h6v6h-6zM54 408h6v6h-6zM60 408h6v6h-6zM66 408h6v6h-6zM54 414h6v6h-6zM96 420h6v6h-6zM96 426h6v6h-6zM96 432h6v6h-6zM102 432h6v6h-6zM126 432h6v6h-6zM102 450h6v6h-6zM120 450h6v6h-6zM90 462h6v6h-6zM84 474h6v6h-6zM60 492h6v6h-6zM60 504h6v6h-6zM54 510h6v6h-6z"/><path fill="#f8f000" d="M60 414h6v6h-6zM66 414h6v6h-6zM108 432h6v6h-6zM114 432h6v6h-6zM120 432h6v6h-6zM96 438h6v6h-6zM120 438h6v6h-6zM120 444h6v6h-6zM96 450h6v6h-6zM108 450h6v6h-6zM90 456h6v6h-6zM78 480h6v6h-6zM60 486h6v6h-6zM60 498h6v6h-6z"/><path fill="#f8ed00" d="M54 420h6v6h-6zM72 420h6v6h-6zM78 420h6v6h-6zM84 420h6v6h-6zM90 420h6v6h-6zM90 432h6v6h-6zM102 438h6v6h-6zM96 444h6v6h-6zM102 444h6v6h-6zM114 450h6v6h-6zM84 468h6v6h-6zM72 480h6v6h-6z"/><path fill="#f9eb00" d="M60 420h6v6h-6zM66 420h6v6h-6zM90 426h6v6h-6zM90 438h6v6h-6zM108 438h6v6h-6zM114 438h6v6h-6zM90 450h6v6h-6zM84 456h6v6h-6zM84 462h6v6h-6zM78 474h6v6h-6zM66 480h6v6h-6zM54 504h6v6h-6z"/><path fill="#fae800" d="M54 426h6v6h-6zM72 426h6v6h-6zM90 444h6v6h-6zM108 444h6v6h-6zM114 444h6v6h-6zM78 450h6v6h-6zM84 450h6v6h-6zM78 456h6v6h-6zM60 480h6v6h-6z"/><path fill="#fae600" d="M60 426h6v6h-6zM66 426h6v6h-6zM78 426h6v6h-6zM84 426h6v6h-6zM72 450h6v6h-6zM78 468h6v6h-6zM72 474h6v6h-6zM54 486h6v6h-6zM54 492h6v6h-6zM54 498h6v6h-6z"/><path fill="#fbe400" d="M66 432h6v6h-6zM72 432h6v6h-6zM84 432h6v6h-6zM84 438h6v6h-6zM72 444h6v6h-6zM78 444h6v6h-6zM84 444h6v6h-6zM72 456h6v6h-6zM78 462h6v6h-6zM54 474h6v6h-6zM60 474h6v6h-6zM66 474h6v6h-6zM54 480h6v6h-6z"/><path fill="#fce100" d="M54 432h6v6h-6zM60 432h6v6h-6zM78 432h6v6h-6zM66 438h6v6h-6zM72 438h6v6h-6zM66 444h6v6h-6zM66 450h6v6h-6zM54 468h6v6h-6z"/><path fill="#fcdf00" d="M78 438h6v6h-6zM54 456h6v6h-6zM54 462h6v6h-6zM72 462h6v6h-6zM60 468h6v6h-6zM72 468h6v6h-6z"/><path fill="#fddc00" d="M60 438h6v6h-6zM60 444h6v6h-6zM54 450h6v6h-6zM60 450h6v6h-6zM60 456h6v6h-6zM66 456h6v6h-6zM60 462h6v6h-6zM66 468h6v6h-6z"/><path fill="#feda00" d="M54 438h6v6h-6zM66 462h6v6h-6z"/><path fill="#ffd800" d="M54 444h6v6h-6z"/></g></g><path d="M64.0,43.0L448.0,43.0L432.0,49.6L429.6,55.2L424.0,58.4L408.0,56.8L403.2,51.2L393.6,50.4L398.4,56.0L398.4,73.6L392.0,74.4L379.2,76.8L369.6,70.4L355.2,72.8L342.4,77.6L345.6,82.4L344.0,88.0L350.4,93.6L369.6,98.4L382.4,104.0L392.0,108.0L390.4,115.2L396.8,124.8L406.4,131.2L404.8,139.6L408.0,154.0L406.4,168.4L403.2,186.0L400.0,195.6L393.6,199.6L379.2,198.0L364.8,197.2L348.8,198.8L336.0,196.4L320.0,194.0L304.0,194.8L291.2,191.6L280.0,194.0L272.0,198.8L264.0,202.8L260.0,208.4L264.0,214.8L267.2,222.8L267.2,232.8L268.8,252.0L270.4,261.6L266.4,276.0L260.8,290.4L256.8,298.4L256.0,309.6L260.8,312.8L265.6,316.0L267.2,319.6L267.2,335.6L264.8,349.2L273.6,348.4L284.8,350.8L292.8,346.8L302.4,346.0L312.0,354.8L315.2,366.0L321.6,371.6L328.0,374.0L334.0,375.0L334.0,377.0L328.0,377.2L321.6,378.8L318.4,385.2L312.0,399.6L305.3,416.6L299.7,424.0L285.0,432.3L273.9,438.8L261.0,453.6L258.2,464.6L249.9,481.3L248.9,499.7L252.6,510.8L251.7,516.5L64.0,516.5Z" fill="none" stroke="#555" stroke-width="0.75"/><clipPath id="cmed"><path d="M326.0,375.0L332.8,364.4L344.0,358.0L360.0,356.4L380.0,356.5L387.4,354.6L394.8,347.2L402.2,339.9L413.2,334.3L418.8,319.5L429.9,310.3L424.3,301.1L422.5,290.0L428.0,283.4L435.4,266.8L442.8,257.6L457.6,250.2L476.0,239.1L485.3,233.6L486.2,224.3L483.4,213.2L485.3,204.0L498.2,195.7L509.3,197.5L520.3,200.3L533.3,204.9L546.2,203.1L557.3,194.8L564.7,189.2L571.1,186.2L582.2,176.9L589.5,176.0L602.5,182.5L611.7,189.9L617.2,204.6L622.8,212.0L630.2,221.3L641.3,232.3L652.3,242.0L663.4,249.0L678.2,254.0L685.6,262.2L696.7,265.9L705.9,278.8L715.1,288.0L720.7,308.3L713.3,317.6L711.4,321.3L715.1,326.8L722.5,321.3L731.0,310.0L731.0,301.6L727.4,288.7L729.2,279.4L736.6,268.3L744.0,272.0L756.9,281.3L762.5,277.6L749.6,266.5L744.7,258.2L729.9,250.8L717.0,243.4L718.8,234.2L704.0,230.5L689.3,217.6L678.2,200.9L663.4,188.0L652.3,176.9L650.5,165.9L650.5,151.1L660.0,147.0L667.1,144.6L674.5,143.7L678.2,147.4L681.9,162.2L687.4,154.8L693.0,158.5L696.7,165.9L700.4,176.9L707.7,184.3L720.7,195.4L737.0,204.0L753.0,212.5L764.3,218.5L775.4,231.4L781.0,236.9L781.0,248.0L779.1,259.1L781.0,273.9L786.5,285.0L790.2,288.7L794.2,290.0L798.3,298.3L805.2,303.9L810.8,303.9L806.6,308.0L808.0,313.5L814.9,317.7L824.6,317.7L834.3,317.0L845.4,321.9L848.2,324.6L844.0,326.0L831.6,322.5L817.7,321.2L815.0,320.5L812.2,328.8L814.9,335.7L817.7,341.2L821.9,348.2L823.2,355.1L826.0,350.9L830.2,355.1L834.3,362.0L838.5,357.9L844.0,364.8L845.4,370.3L846.8,362.0L845.4,348.2L842.6,339.9L848.2,339.9L850.9,342.6L852.3,338.5L848.2,332.9L846.8,330.2L853.7,328.8L862.0,334.3L863.4,328.8L868.0,331.0L876.0,333.0L872.0,325.0L858.0,317.0L845.0,309.0L841.0,304.0L848.0,300.0L852.0,297.0L845.2,290.2L838.3,277.7L839.7,266.6L843.9,268.0L849.4,273.5L852.2,277.7L853.5,272.2L859.1,280.5L863.2,272.2L860.5,263.9L871.6,258.3L882.6,256.9L892.3,259.7L903.4,262.5L911.7,265.2L906.2,277.7L904.8,279.1L902.0,280.5L900.6,291.5L913.1,290.2L914.5,297.1L913.1,304.0L915.9,308.2L913.1,313.7L918.6,317.9L910.3,319.3L907.6,313.7L904.8,315.1L907.6,322.0L913.1,324.8L921.5,327.4L920.3,334.8L921.5,343.4L926.4,347.1L924.0,349.5L938.7,350.8L931.3,353.2L924.0,355.7L936.3,356.9L941.2,355.7L946.1,356.9L953.5,359.4L958.4,366.7L968.2,369.2L976.9,366.7L981.8,356.9L985.5,354.4L995.3,355.7L1000.0,356.9L1007.5,364.9L1024.1,373.3L1046.2,367.7L1060.1,358.0L1071.2,359.4L1079.5,353.9L1083.7,356.6L1080.9,364.9L1078.1,373.3L1079.5,389.9L1078.1,409.3L1074.0,428.7L1064.2,440.0L1058.7,462.1L1051.4,476.8L1044.0,486.0L1034.8,489.7L1020.1,490.6L1010.9,487.8L1005.4,481.4L992.5,479.6L979.6,481.4L966.7,489.7L955.7,496.1L946.5,493.4L933.6,489.7L915.2,483.2L896.8,478.6L883.9,479.6L878.4,470.4L864.6,468.3L848.0,460.9L838.7,453.5L822.1,448.0L809.2,451.7L796.3,459.1L790.7,473.8L792.6,492.3L785.2,505.2L774.1,509.8L764.9,505.2L753.8,496.0L735.4,488.6L713.2,483.1L707.7,473.8L704.0,460.9L691.1,455.4L680.0,451.7L670.8,449.0L648.6,445.3L633.9,439.7L622.8,430.5L615.4,425.0L611.7,415.7L620.9,408.3L628.3,395.4L626.5,386.2L619.1,375.1L620.9,364.0L626.5,351.1L615.4,356.6L611.7,347.4L604.3,344.6L584.0,351.1L571.1,352.9L560.0,347.4L542.5,350.0L524.0,358.3L513.0,353.7L494.5,353.7L476.0,358.3L459.4,361.1L439.1,365.7L424.3,378.6L407.7,386.0L391.1,395.3L380.0,395.3L372.8,390.0L360.0,394.0L344.0,393.2L332.8,385.2L329.0,377.0ZM904.0,279.0L911.0,270.0L915.0,267.8L926.1,256.7L940.9,254.9L951.0,253.0L953.0,247.0L957.0,248.0L956.0,256.7L968.6,261.4L955.6,266.0L952.0,270.6L926.1,270.6L915.0,273.4L907.0,281.0Z"/></clipPath><g clip-path="url(#cmed)"><g filter="url(#bl)"><path fill="#00b9ff" d="M330 342h6v6h-6z"/><path fill="#00c3fe" d="M330 348h6v6h-6z"/><path fill="#00c6fd" d="M324 348h6v6h-6z"/><path fill="#00c9fc" d="M336 342h6v6h-6z"/><path fill="#00d0fb" d="M336 348h6v6h-6z"/><path fill="#00dcf8" d="M330 354h6v6h-6z"/><path fill="#00e1f7" d="M324 354h6v6h-6zM336 354h6v6h-6z"/><path fill="#00e3f6" d="M342 342h6v6h-6z"/><path fill="#00e4f5" d="M342 336h6v6h-6zM342 348h6v6h-6z"/><path fill="#00e8f4" d="M318 354h6v6h-6z"/><path fill="#00ebf2" d="M342 354h6v6h-6z"/><path fill="#01f0ed" d="M336 360h6v6h-6z"/><path fill="#03f0eb" d="M348 336h6v6h-6zM348 342h6v6h-6zM330 360h6v6h-6z"/><path fill="#06f0e6" d="M348 348h6v6h-6z"/><path fill="#08f0e4" d="M324 360h6v6h-6z"/><path fill="#09f0e1" d="M342 360h6v6h-6z"/><path fill="#0bf0df" d="M348 354h6v6h-6z"/><path fill="#0cf0dc" d="M318 360h6v6h-6z"/><path fill="#19f0d0" d="M354 336h6v6h-6z"/><path fill="#1cf0ce" d="M348 360h6v6h-6z"/><path fill="#20f0cc" d="M354 342h6v6h-6z"/><path fill="#26f0c7" d="M354 348h6v6h-6zM336 366h6v6h-6z"/><path fill="#2cf0c2" d="M354 354h6v6h-6zM330 366h6v6h-6z"/><path fill="#36f0b9" d="M342 366h6v6h-6z"/><path fill="#39f0b6" d="M354 360h6v6h-6z"/><path fill="#3cf0b3" d="M318 366h6v6h-6z"/><path fill="#40f0b0" d="M324 366h6v6h-6z"/><path fill="#43f0ac" d="M342 402h6v6h-6z"/><path fill="#46f0a9" d="M360 336h6v6h-6zM342 396h6v6h-6zM336 402h6v6h-6z"/><path fill="#49f0a6" d="M336 378h6v6h-6zM336 396h6v6h-6z"/><path fill="#4cf0a3" d="M348 366h6v6h-6zM336 390h6v6h-6zM330 402h6v6h-6zM336 408h6v6h-6zM342 408h6v6h-6z"/><path fill="#50f0a0" d="M354 366h6v6h-6zM330 396h6v6h-6zM348 396h6v6h-6zM348 402h6v6h-6z"/><path fill="#54f09b" d="M360 342h6v6h-6zM336 384h6v6h-6zM330 390h6v6h-6zM324 396h6v6h-6z"/><path fill="#59f096" d="M336 372h6v6h-6zM342 390h6v6h-6z"/><path fill="#5ef091" d="M360 348h6v6h-6zM324 390h6v6h-6zM348 408h6v6h-6z"/><path fill="#63f08c" d="M330 384h6v6h-6zM318 390h6v6h-6z"/><path fill="#68f088" d="M360 354h6v6h-6zM348 390h6v6h-6z"/><path fill="#76f079" d="M360 378h6v6h-6z"/><path fill="#7bf074" d="M360 360h6v6h-6zM318 372h6v6h-6zM354 396h6v6h-6zM354 402h6v6h-6z"/><path fill="#80f070" d="M318 384h6v6h-6zM324 384h6v6h-6zM354 390h6v6h-6zM354 408h6v6h-6z"/><path fill="#83f06b" d="M366 336h6v6h-6z"/><path fill="#86f068" d="M330 378h6v6h-6z"/><path fill="#89f063" d="M342 372h6v6h-6zM342 384h6v6h-6zM360 384h6v6h-6z"/><path fill="#8cf060" d="M360 366h6v6h-6z"/><path fill="#90f05c" d="M474 192h6v6h-6zM318 378h6v6h-6z"/><path fill="#93f057" d="M462 204h6v6h-6zM462 210h6v6h-6zM366 342h6v6h-6zM324 372h6v6h-6zM354 372h6v6h-6zM360 390h6v6h-6z"/><path fill="#96f054" d="M480 186h6v6h-6zM480 192h6v6h-6zM468 198h6v6h-6zM474 198h6v6h-6zM354 384h6v6h-6z"/><path fill="#99f04f" d="M480 198h6v6h-6zM468 204h6v6h-6zM360 372h6v6h-6zM324 378h6v6h-6z"/><path fill="#9cf04c" d="M474 204h6v6h-6zM480 204h6v6h-6zM468 210h6v6h-6zM330 372h6v6h-6zM360 396h6v6h-6zM360 402h6v6h-6z"/><path fill="#a0f048" d="M486 198h6v6h-6zM486 204h6v6h-6zM474 210h6v6h-6zM462 216h6v6h-6zM366 348h6v6h-6zM360 408h6v6h-6z"/><path fill="#a2f045" d="M486 192h6v6h-6zM480 210h6v6h-6zM468 216h6v6h-6z"/><path fill="#a4f043" d="M486 186h6v6h-6zM474 216h6v6h-6zM372 336h6v6h-6zM342 378h6v6h-6z"/><path fill="#a7f040" d="M486 180h6v6h-6zM492 198h6v6h-6zM492 204h6v6h-6zM486 210h6v6h-6zM480 216h6v6h-6z"/><path fill="#a9f03e" d="M468 222h6v6h-6zM474 222h6v6h-6zM480 222h6v6h-6zM366 354h6v6h-6zM354 378h6v6h-6zM348 384h6v6h-6z"/><path fill="#acf03c" d="M492 186h6v6h-6zM492 192h6v6h-6zM492 210h6v6h-6zM486 216h6v6h-6zM462 222h6v6h-6zM486 222h6v6h-6z"/><path fill="#aef039" d="M492 180h6v6h-6zM498 198h6v6h-6zM498 204h6v6h-6zM468 228h6v6h-6zM474 228h6v6h-6zM480 228h6v6h-6z"/><path fill="#b0f037" d="M492 216h6v6h-6zM492 222h6v6h-6zM486 228h6v6h-6zM372 342h6v6h-6zM348 372h6v6h-6zM366 384h6v6h-6z"/><path fill="#b3f034" d="M492 174h6v6h-6zM498 180h6v6h-6zM498 186h6v6h-6zM498 192h6v6h-6zM462 228h6v6h-6zM492 228h6v6h-6z"/><path fill="#b5f032" d="M498 210h6v6h-6zM498 222h6v6h-6zM474 234h6v6h-6zM366 390h6v6h-6z"/><path fill="#b8f030" d="M498 174h6v6h-6zM504 198h6v6h-6zM498 216h6v6h-6zM498 228h6v6h-6zM468 234h6v6h-6zM480 234h6v6h-6z"/><path fill="#bcf02c" d="M504 204h6v6h-6zM504 228h6v6h-6zM462 234h6v6h-6zM486 234h6v6h-6zM366 360h6v6h-6zM366 396h6v6h-6z"/><path fill="#bff129" d="M504 192h6v6h-6zM504 222h6v6h-6zM456 228h6v6h-6zM372 348h6v6h-6zM366 402h6v6h-6z"/><path fill="#c4f226" d="M504 180h6v6h-6zM492 234h6v6h-6zM378 336h6v6h-6zM366 408h6v6h-6z"/><path fill="#c7f323" d="M504 174h6v6h-6zM504 186h6v6h-6zM504 210h6v6h-6zM504 216h6v6h-6zM456 234h6v6h-6zM498 234h6v6h-6zM504 234h6v6h-6zM468 240h6v6h-6zM474 240h6v6h-6zM366 378h6v6h-6z"/><path fill="#ccf420" d="M510 228h6v6h-6zM462 240h6v6h-6zM480 240h6v6h-6z"/><path fill="#d0f41c" d="M510 198h6v6h-6zM450 234h6v6h-6zM510 234h6v6h-6zM456 240h6v6h-6z"/><path fill="#d3f519" d="M510 204h6v6h-6zM510 222h6v6h-6zM444 234h6v6h-6zM486 240h6v6h-6zM378 342h6v6h-6z"/><path fill="#d8f616" d="M516 234h6v6h-6zM504 240h6v6h-6zM510 240h6v6h-6zM372 354h6v6h-6z"/><path fill="#dbf713" d="M510 192h6v6h-6zM510 210h6v6h-6zM450 240h6v6h-6zM492 240h6v6h-6zM498 240h6v6h-6z"/><path fill="#e0f810" d="M510 180h6v6h-6zM510 186h6v6h-6zM510 216h6v6h-6zM516 228h6v6h-6zM522 234h6v6h-6zM516 240h6v6h-6zM456 246h6v6h-6zM462 246h6v6h-6zM468 246h6v6h-6zM474 246h6v6h-6zM384 330h6v6h-6z"/><path fill="#e2f70e" d="M516 198h6v6h-6zM516 204h6v6h-6zM528 234h6v6h-6zM522 240h6v6h-6zM480 246h6v6h-6zM402 282h6v6h-6zM378 348h6v6h-6z"/><path fill="#e4f60c" d="M522 228h6v6h-6zM444 240h6v6h-6zM486 246h6v6h-6z"/><path fill="#e7f50b" d="M516 210h6v6h-6zM516 222h6v6h-6zM528 228h6v6h-6zM528 240h6v6h-6zM450 246h6v6h-6zM366 366h6v6h-6z"/><path fill="#e9f409" d="M516 192h6v6h-6zM522 198h6v6h-6zM522 204h6v6h-6zM438 240h6v6h-6zM492 246h6v6h-6zM498 246h6v6h-6zM504 246h6v6h-6zM510 246h6v6h-6zM516 246h6v6h-6zM408 276h6v6h-6zM384 336h6v6h-6z"/><path fill="#ecf408" d="M516 180h6v6h-6zM516 216h6v6h-6zM534 234h6v6h-6zM426 252h6v6h-6zM420 258h6v6h-6zM378 354h6v6h-6z"/><path fill="#eef306" d="M516 186h6v6h-6zM522 222h6v6h-6zM534 228h6v6h-6zM444 246h6v6h-6zM522 246h6v6h-6zM414 264h6v6h-6zM408 282h6v6h-6zM402 288h6v6h-6zM348 378h6v6h-6zM372 384h6v6h-6zM372 390h6v6h-6zM372 396h6v6h-6z"/><path fill="#f0f204" d="M522 192h6v6h-6zM522 210h6v6h-6zM528 222h6v6h-6zM534 240h6v6h-6zM432 246h6v6h-6zM480 252h6v6h-6zM486 252h6v6h-6zM426 258h6v6h-6zM384 342h6v6h-6zM372 360h6v6h-6zM372 402h6v6h-6z"/><path fill="#f3f103" d="M528 198h6v6h-6zM522 216h6v6h-6zM438 246h6v6h-6zM432 252h6v6h-6zM456 252h6v6h-6zM492 252h6v6h-6zM414 270h6v6h-6zM414 276h6v6h-6zM888 288h6v6h-6zM384 348h6v6h-6zM396 378h6v6h-6zM402 384h6v6h-6zM372 408h6v6h-6z"/><path fill="#f5f001" d="M522 180h6v6h-6zM522 186h6v6h-6zM528 204h6v6h-6zM528 246h6v6h-6zM450 252h6v6h-6zM462 252h6v6h-6zM474 252h6v6h-6zM420 264h6v6h-6zM888 294h6v6h-6zM390 330h6v6h-6zM384 354h6v6h-6zM402 378h6v6h-6z"/><path fill="#f8f000" d="M528 192h6v6h-6zM534 222h6v6h-6zM540 234h6v6h-6zM438 252h6v6h-6zM468 252h6v6h-6zM498 252h6v6h-6zM432 258h6v6h-6zM882 288h6v6h-6zM894 294h6v6h-6zM882 318h6v6h-6zM390 372h6v6h-6zM396 372h6v6h-6zM396 384h6v6h-6zM408 384h6v6h-6z"/><path fill="#f8ed00" d="M528 210h6v6h-6zM528 216h6v6h-6zM540 228h6v6h-6zM444 252h6v6h-6zM504 252h6v6h-6zM510 252h6v6h-6zM516 252h6v6h-6zM414 282h6v6h-6zM408 288h6v6h-6zM402 294h6v6h-6zM882 294h6v6h-6zM882 324h6v6h-6zM366 372h6v6h-6zM390 378h6v6h-6zM408 378h6v6h-6z"/><path fill="#f9eb00" d="M528 186h6v6h-6zM534 216h6v6h-6zM540 240h6v6h-6zM486 258h6v6h-6zM492 258h6v6h-6zM426 264h6v6h-6zM420 270h6v6h-6zM894 288h6v6h-6zM894 300h6v6h-6zM888 318h6v6h-6zM876 324h6v6h-6zM390 336h6v6h-6zM378 360h6v6h-6zM384 360h6v6h-6zM390 366h6v6h-6zM402 372h6v6h-6zM414 384h6v6h-6z"/><path fill="#fae800" d="M534 204h6v6h-6zM534 210h6v6h-6zM522 252h6v6h-6zM438 258h6v6h-6zM432 264h6v6h-6zM420 276h6v6h-6zM876 294h6v6h-6zM888 300h6v6h-6zM894 306h6v6h-6zM882 312h6v6h-6zM888 312h6v6h-6zM894 312h6v6h-6zM900 312h6v6h-6zM876 318h6v6h-6zM888 324h6v6h-6zM384 366h6v6h-6zM384 372h6v6h-6zM372 378h6v6h-6zM384 378h6v6h-6zM414 378h6v6h-6z"/><path fill="#fae600" d="M534 192h6v6h-6zM534 198h6v6h-6zM540 222h6v6h-6zM546 234h6v6h-6zM546 240h6v6h-6zM534 246h6v6h-6zM480 258h6v6h-6zM498 258h6v6h-6zM546 264h6v6h-6zM546 270h6v6h-6zM888 282h6v6h-6zM876 288h6v6h-6zM882 300h6v6h-6zM900 300h6v6h-6zM888 306h6v6h-6zM900 306h6v6h-6zM396 318h6v6h-6zM894 318h6v6h-6zM900 318h6v6h-6zM882 330h6v6h-6zM888 342h6v6h-6zM390 348h6v6h-6zM882 348h6v6h-6zM888 348h6v6h-6zM390 354h6v6h-6zM390 360h6v6h-6zM396 366h6v6h-6zM906 366h6v6h-6zM420 378h6v6h-6zM420 384h6v6h-6zM426 384h6v6h-6zM402 390h6v6h-6zM408 390h6v6h-6z"/><path fill="#fbe400" d="M534 186h6v6h-6zM540 204h6v6h-6zM540 210h6v6h-6zM540 216h6v6h-6zM552 216h6v6h-6zM558 216h6v6h-6zM552 222h6v6h-6zM558 222h6v6h-6zM546 228h6v6h-6zM492 264h6v6h-6zM426 270h6v6h-6zM552 270h6v6h-6zM882 282h6v6h-6zM900 294h6v6h-6zM402 300h6v6h-6zM876 300h6v6h-6zM882 306h6v6h-6zM906 312h6v6h-6zM894 324h6v6h-6zM876 330h6v6h-6zM888 330h6v6h-6zM390 342h6v6h-6zM882 342h6v6h-6zM906 348h6v6h-6zM912 348h6v6h-6zM912 354h6v6h-6zM912 360h6v6h-6zM408 372h6v6h-6zM900 372h6v6h-6zM426 390h6v6h-6z"/><path fill="#fce100" d="M546 222h6v6h-6zM552 228h6v6h-6zM552 234h6v6h-6zM552 240h6v6h-6zM528 252h6v6h-6zM516 258h6v6h-6zM546 258h6v6h-6zM540 264h6v6h-6zM552 264h6v6h-6zM540 270h6v6h-6zM870 294h6v6h-6zM876 306h6v6h-6zM906 306h6v6h-6zM876 312h6v6h-6zM906 318h6v6h-6zM396 324h6v6h-6zM882 336h6v6h-6zM888 336h6v6h-6zM894 342h6v6h-6zM900 342h6v6h-6zM894 348h6v6h-6zM876 354h6v6h-6zM882 354h6v6h-6zM906 354h6v6h-6zM918 354h6v6h-6zM876 360h6v6h-6zM906 360h6v6h-6zM900 366h6v6h-6zM912 366h6v6h-6zM414 372h6v6h-6zM420 372h6v6h-6zM894 372h6v6h-6zM906 372h6v6h-6zM378 378h6v6h-6zM426 378h6v6h-6zM432 384h6v6h-6zM414 390h6v6h-6zM420 390h6v6h-6z"/><path fill="#fcdf00" d="M540 198h6v6h-6zM546 204h6v6h-6zM546 210h6v6h-6zM552 210h6v6h-6zM558 210h6v6h-6zM546 216h6v6h-6zM564 222h6v6h-6zM558 228h6v6h-6zM540 246h6v6h-6zM546 246h6v6h-6zM552 246h6v6h-6zM444 258h6v6h-6zM474 258h6v6h-6zM504 258h6v6h-6zM510 258h6v6h-6zM522 258h6v6h-6zM438 264h6v6h-6zM486 264h6v6h-6zM498 264h6v6h-6zM516 264h6v6h-6zM546 276h6v6h-6zM552 276h6v6h-6zM420 282h6v6h-6zM870 288h6v6h-6zM408 294h6v6h-6zM870 324h6v6h-6zM900 324h6v6h-6zM396 330h6v6h-6zM648 330h6v6h-6zM894 330h6v6h-6zM654 336h6v6h-6zM894 336h6v6h-6zM654 342h6v6h-6zM906 342h6v6h-6zM876 348h6v6h-6zM900 348h6v6h-6zM918 348h6v6h-6zM888 354h6v6h-6zM372 366h6v6h-6zM378 366h6v6h-6zM894 366h6v6h-6zM378 384h6v6h-6zM390 384h6v6h-6z"/><path fill="#fddc00" d="M540 192h6v6h-6zM552 204h6v6h-6zM564 216h6v6h-6zM564 228h6v6h-6zM558 234h6v6h-6zM558 240h6v6h-6zM546 252h6v6h-6zM540 258h6v6h-6zM552 258h6v6h-6zM522 264h6v6h-6zM432 270h6v6h-6zM426 276h6v6h-6zM540 276h6v6h-6zM876 282h6v6h-6zM894 282h6v6h-6zM414 288h6v6h-6zM870 300h6v6h-6zM906 300h6v6h-6zM906 324h6v6h-6zM870 330h6v6h-6zM900 330h6v6h-6zM648 336h6v6h-6zM876 336h6v6h-6zM900 336h6v6h-6zM876 342h6v6h-6zM912 342h6v6h-6zM396 360h6v6h-6zM870 360h6v6h-6zM882 360h6v6h-6zM402 366h6v6h-6zM876 366h6v6h-6zM888 366h6v6h-6zM888 372h6v6h-6zM432 378h6v6h-6zM396 390h6v6h-6zM888 396h6v6h-6z"/><path fill="#feda00" d="M540 186h6v6h-6zM546 198h6v6h-6zM558 246h6v6h-6zM534 252h6v6h-6zM552 252h6v6h-6zM450 258h6v6h-6zM468 258h6v6h-6zM504 264h6v6h-6zM510 264h6v6h-6zM534 264h6v6h-6zM516 270h6v6h-6zM522 270h6v6h-6zM534 270h6v6h-6zM558 270h6v6h-6zM558 276h6v6h-6zM558 282h6v6h-6zM900 288h6v6h-6zM906 294h6v6h-6zM912 306h6v6h-6zM912 312h6v6h-6zM912 318h6v6h-6zM654 330h6v6h-6zM396 336h6v6h-6zM906 336h6v6h-6zM660 342h6v6h-6zM870 354h6v6h-6zM894 354h6v6h-6zM900 354h6v6h-6zM888 360h6v6h-6zM894 360h6v6h-6zM900 360h6v6h-6zM918 360h6v6h-6zM870 366h6v6h-6zM882 366h6v6h-6zM378 372h6v6h-6zM426 372h6v6h-6zM894 378h6v6h-6zM900 378h6v6h-6zM378 402h6v6h-6z"/><path fill="#ffd800" d="M552 198h6v6h-6zM558 204h6v6h-6zM570 222h6v6h-6zM564 234h6v6h-6zM564 240h6v6h-6zM540 252h6v6h-6zM456 258h6v6h-6zM462 258h6v6h-6zM528 258h6v6h-6zM534 258h6v6h-6zM480 264h6v6h-6zM528 264h6v6h-6zM558 264h6v6h-6zM528 270h6v6h-6zM522 276h6v6h-6zM534 276h6v6h-6zM564 276h6v6h-6zM546 282h6v6h-6zM552 282h6v6h-6zM564 282h6v6h-6zM870 318h6v6h-6zM648 324h6v6h-6zM912 324h6v6h-6zM642 330h6v6h-6zM906 330h6v6h-6zM912 330h6v6h-6zM660 336h6v6h-6zM912 336h6v6h-6zM396 342h6v6h-6zM648 342h6v6h-6zM918 342h6v6h-6zM396 348h6v6h-6zM654 348h6v6h-6zM396 354h6v6h-6zM882 372h6v6h-6zM384 384h6v6h-6zM882 396h6v6h-6zM894 396h6v6h-6zM378 408h6v6h-6z"/><path fill="#ffd400" d="M546 192h6v6h-6zM564 210h6v6h-6zM570 216h6v6h-6zM570 228h6v6h-6zM564 246h6v6h-6zM558 252h6v6h-6zM492 270h6v6h-6zM498 270h6v6h-6zM504 270h6v6h-6zM510 270h6v6h-6zM516 276h6v6h-6zM528 276h6v6h-6zM540 282h6v6h-6zM870 282h6v6h-6zM912 294h6v6h-6zM912 300h6v6h-6zM918 318h6v6h-6zM654 324h6v6h-6zM918 324h6v6h-6zM918 330h6v6h-6zM642 336h6v6h-6zM870 336h6v6h-6zM924 348h6v6h-6zM924 354h6v6h-6zM408 366h6v6h-6zM414 366h6v6h-6zM420 366h6v6h-6zM372 372h6v6h-6zM876 372h6v6h-6zM438 378h6v6h-6zM888 378h6v6h-6zM378 390h6v6h-6zM888 390h6v6h-6zM378 396h6v6h-6zM408 396h6v6h-6zM414 396h6v6h-6zM420 396h6v6h-6zM882 402h6v6h-6zM888 402h6v6h-6z"/><path fill="#ffd100" d="M546 186h6v6h-6zM582 240h6v6h-6zM588 240h6v6h-6zM564 252h6v6h-6zM558 258h6v6h-6zM438 270h6v6h-6zM564 270h6v6h-6zM432 276h6v6h-6zM570 276h6v6h-6zM888 276h6v6h-6zM426 282h6v6h-6zM534 282h6v6h-6zM570 282h6v6h-6zM918 282h6v6h-6zM924 282h6v6h-6zM558 288h6v6h-6zM564 288h6v6h-6zM906 288h6v6h-6zM912 288h6v6h-6zM918 288h6v6h-6zM864 294h6v6h-6zM918 294h6v6h-6zM918 300h6v6h-6zM870 306h6v6h-6zM918 306h6v6h-6zM870 312h6v6h-6zM918 312h6v6h-6zM918 336h6v6h-6zM660 348h6v6h-6zM870 348h6v6h-6zM864 360h6v6h-6zM432 372h6v6h-6zM912 372h6v6h-6zM906 378h6v6h-6zM882 390h6v6h-6zM894 390h6v6h-6zM402 396h6v6h-6z"/><path fill="#ffce00" d="M576 156h6v6h-6zM552 192h6v6h-6zM558 198h6v6h-6zM570 234h6v6h-6zM582 234h6v6h-6zM570 240h6v6h-6zM576 240h6v6h-6zM570 246h6v6h-6zM564 258h6v6h-6zM444 264h6v6h-6zM564 264h6v6h-6zM486 270h6v6h-6zM570 270h6v6h-6zM510 276h6v6h-6zM882 276h6v6h-6zM918 276h6v6h-6zM924 276h6v6h-6zM522 282h6v6h-6zM528 282h6v6h-6zM546 288h6v6h-6zM552 288h6v6h-6zM864 288h6v6h-6zM924 288h6v6h-6zM408 300h6v6h-6zM402 312h6v6h-6zM642 324h6v6h-6zM864 324h6v6h-6zM660 330h6v6h-6zM864 330h6v6h-6zM642 342h6v6h-6zM870 342h6v6h-6zM648 348h6v6h-6zM864 354h6v6h-6zM402 360h6v6h-6zM870 372h6v6h-6zM882 378h6v6h-6zM888 384h6v6h-6zM894 384h6v6h-6zM894 402h6v6h-6z"/><path fill="#ffcb00" d="M546 180h6v6h-6zM564 204h6v6h-6zM570 210h6v6h-6zM576 210h6v6h-6zM576 216h6v6h-6zM576 222h6v6h-6zM576 228h6v6h-6zM576 234h6v6h-6zM576 246h6v6h-6zM582 246h6v6h-6zM570 252h6v6h-6zM570 258h6v6h-6zM474 264h6v6h-6zM570 264h6v6h-6zM438 276h6v6h-6zM576 276h6v6h-6zM876 276h6v6h-6zM432 282h6v6h-6zM576 282h6v6h-6zM900 282h6v6h-6zM930 282h6v6h-6zM540 288h6v6h-6zM930 288h6v6h-6zM924 294h6v6h-6zM924 312h6v6h-6zM924 318h6v6h-6zM924 324h6v6h-6zM636 330h6v6h-6zM402 336h6v6h-6zM636 336h6v6h-6zM402 342h6v6h-6zM666 342h6v6h-6zM924 342h6v6h-6zM426 366h6v6h-6zM864 366h6v6h-6zM438 372h6v6h-6zM900 396h6v6h-6zM876 402h6v6h-6z"/><path fill="#ffc800" d="M576 162h6v6h-6zM552 186h6v6h-6zM558 192h6v6h-6zM582 204h6v6h-6zM582 210h6v6h-6zM588 234h6v6h-6zM498 276h6v6h-6zM504 276h6v6h-6zM894 276h6v6h-6zM930 276h6v6h-6zM516 282h6v6h-6zM582 282h6v6h-6zM912 282h6v6h-6zM420 288h6v6h-6zM570 288h6v6h-6zM414 294h6v6h-6zM930 294h6v6h-6zM864 300h6v6h-6zM924 300h6v6h-6zM924 306h6v6h-6zM402 318h6v6h-6zM402 324h6v6h-6zM402 330h6v6h-6zM924 330h6v6h-6zM636 342h6v6h-6zM402 348h6v6h-6zM402 354h6v6h-6zM918 366h6v6h-6zM444 378h6v6h-6zM876 378h6v6h-6zM882 384h6v6h-6zM900 384h6v6h-6zM390 390h6v6h-6zM396 396h6v6h-6zM876 396h6v6h-6zM408 402h6v6h-6zM900 402h6v6h-6zM882 408h6v6h-6z"/><path fill="#ffc400" d="M570 204h6v6h-6zM576 204h6v6h-6zM588 204h6v6h-6zM588 246h6v6h-6zM576 252h6v6h-6zM480 270h6v6h-6zM576 270h6v6h-6zM918 270h6v6h-6zM924 270h6v6h-6zM492 276h6v6h-6zM582 276h6v6h-6zM870 276h6v6h-6zM912 276h6v6h-6zM438 282h6v6h-6zM864 282h6v6h-6zM534 288h6v6h-6zM546 294h6v6h-6zM654 318h6v6h-6zM864 318h6v6h-6zM636 324h6v6h-6zM660 324h6v6h-6zM666 336h6v6h-6zM864 336h6v6h-6zM924 336h6v6h-6zM858 354h6v6h-6zM408 360h6v6h-6zM858 360h6v6h-6zM924 360h6v6h-6zM900 390h6v6h-6zM402 402h6v6h-6zM906 402h6v6h-6zM384 408h6v6h-6z"/><path fill="#ffc100" d="M582 156h6v6h-6zM570 162h6v6h-6zM582 162h6v6h-6zM564 198h6v6h-6zM594 204h6v6h-6zM582 228h6v6h-6zM576 258h6v6h-6zM468 264h6v6h-6zM576 264h6v6h-6zM936 276h6v6h-6zM906 282h6v6h-6zM936 282h6v6h-6zM528 288h6v6h-6zM576 288h6v6h-6zM552 294h6v6h-6zM558 294h6v6h-6zM564 294h6v6h-6zM930 300h6v6h-6zM408 306h6v6h-6zM930 312h6v6h-6zM648 318h6v6h-6zM930 318h6v6h-6zM510 330h6v6h-6zM630 336h6v6h-6zM642 348h6v6h-6zM666 348h6v6h-6zM864 348h6v6h-6zM852 354h6v6h-6zM414 360h6v6h-6zM420 360h6v6h-6zM432 366h6v6h-6zM444 372h6v6h-6zM876 390h6v6h-6zM906 396h6v6h-6zM384 402h6v6h-6zM912 402h6v6h-6zM918 402h6v6h-6zM876 408h6v6h-6zM888 408h6v6h-6zM912 408h6v6h-6zM918 408h6v6h-6zM912 414h6v6h-6zM918 414h6v6h-6zM930 438h6v6h-6z"/><path fill="#ffbe00" d="M552 180h6v6h-6zM558 186h6v6h-6zM582 198h6v6h-6zM588 198h6v6h-6zM594 198h6v6h-6zM588 210h6v6h-6zM582 216h6v6h-6zM582 252h6v6h-6zM942 252h6v6h-6zM444 270h6v6h-6zM582 270h6v6h-6zM876 270h6v6h-6zM882 270h6v6h-6zM912 270h6v6h-6zM930 270h6v6h-6zM486 276h6v6h-6zM900 276h6v6h-6zM942 276h6v6h-6zM948 276h6v6h-6zM444 282h6v6h-6zM492 282h6v6h-6zM510 282h6v6h-6zM588 282h6v6h-6zM942 282h6v6h-6zM948 282h6v6h-6zM432 288h6v6h-6zM492 288h6v6h-6zM582 288h6v6h-6zM492 294h6v6h-6zM540 294h6v6h-6zM570 294h6v6h-6zM930 306h6v6h-6zM510 324h6v6h-6zM516 324h6v6h-6zM930 324h6v6h-6zM630 330h6v6h-6zM666 330h6v6h-6zM570 336h6v6h-6zM630 342h6v6h-6zM864 342h6v6h-6zM930 348h6v6h-6zM654 354h6v6h-6zM846 354h6v6h-6zM552 360h6v6h-6zM846 360h6v6h-6zM852 360h6v6h-6zM456 366h6v6h-6zM462 366h6v6h-6zM546 366h6v6h-6zM864 372h6v6h-6zM870 378h6v6h-6zM912 378h6v6h-6zM876 384h6v6h-6zM906 384h6v6h-6zM912 396h6v6h-6zM396 402h6v6h-6zM906 408h6v6h-6zM924 408h6v6h-6zM924 438h6v6h-6z"/><path fill="#ffbb00" d="M576 198h6v6h-6zM600 204h6v6h-6zM594 240h6v6h-6zM948 252h6v6h-6zM450 264h6v6h-6zM870 270h6v6h-6zM888 270h6v6h-6zM936 270h6v6h-6zM444 276h6v6h-6zM588 276h6v6h-6zM864 276h6v6h-6zM906 276h6v6h-6zM954 276h6v6h-6zM486 282h6v6h-6zM498 282h6v6h-6zM504 282h6v6h-6zM426 288h6v6h-6zM438 288h6v6h-6zM486 288h6v6h-6zM522 288h6v6h-6zM864 306h6v6h-6zM864 312h6v6h-6zM510 318h6v6h-6zM516 318h6v6h-6zM858 324h6v6h-6zM504 330h6v6h-6zM516 330h6v6h-6zM408 336h6v6h-6zM504 336h6v6h-6zM510 336h6v6h-6zM564 336h6v6h-6zM564 342h6v6h-6zM570 342h6v6h-6zM672 342h6v6h-6zM636 348h6v6h-6zM852 348h6v6h-6zM858 348h6v6h-6zM516 354h6v6h-6zM522 354h6v6h-6zM930 354h6v6h-6zM426 360h6v6h-6zM462 360h6v6h-6zM546 360h6v6h-6zM438 366h6v6h-6zM480 366h6v6h-6zM486 366h6v6h-6zM540 366h6v6h-6zM858 366h6v6h-6zM450 372h6v6h-6zM456 372h6v6h-6zM462 372h6v6h-6zM450 378h6v6h-6zM456 378h6v6h-6zM864 378h6v6h-6zM858 384h6v6h-6zM906 390h6v6h-6zM384 396h6v6h-6zM390 396h6v6h-6zM870 396h6v6h-6zM918 396h6v6h-6zM390 402h6v6h-6zM870 402h6v6h-6zM390 408h6v6h-6zM396 408h6v6h-6zM894 408h6v6h-6zM900 408h6v6h-6zM906 414h6v6h-6zM924 414h6v6h-6zM912 420h6v6h-6zM918 420h6v6h-6zM918 438h6v6h-6zM936 438h6v6h-6zM924 444h6v6h-6zM930 444h6v6h-6z"/><path fill="#ffb800" d="M588 156h6v6h-6zM576 168h6v6h-6zM582 168h6v6h-6zM552 174h6v6h-6zM564 192h6v6h-6zM570 198h6v6h-6zM600 198h6v6h-6zM594 210h6v6h-6zM582 222h6v6h-6zM594 234h6v6h-6zM942 246h6v6h-6zM936 252h6v6h-6zM948 258h6v6h-6zM954 258h6v6h-6zM456 264h6v6h-6zM462 264h6v6h-6zM582 264h6v6h-6zM474 270h6v6h-6zM588 270h6v6h-6zM906 270h6v6h-6zM942 270h6v6h-6zM948 270h6v6h-6zM954 282h6v6h-6zM498 288h6v6h-6zM588 288h6v6h-6zM534 294h6v6h-6zM576 294h6v6h-6zM414 300h6v6h-6zM546 300h6v6h-6zM552 300h6v6h-6zM570 300h6v6h-6zM576 300h6v6h-6zM570 306h6v6h-6zM576 306h6v6h-6zM510 312h6v6h-6zM516 312h6v6h-6zM570 312h6v6h-6zM564 318h6v6h-6zM570 318h6v6h-6zM642 318h6v6h-6zM660 318h6v6h-6zM588 324h6v6h-6zM408 330h6v6h-6zM570 330h6v6h-6zM858 330h6v6h-6zM930 330h6v6h-6zM516 336h6v6h-6zM624 336h6v6h-6zM408 342h6v6h-6zM930 342h6v6h-6zM408 348h6v6h-6zM516 348h6v6h-6zM522 348h6v6h-6zM846 348h6v6h-6zM408 354h6v6h-6zM840 354h6v6h-6zM456 360h6v6h-6zM468 360h6v6h-6zM540 360h6v6h-6zM840 360h6v6h-6zM444 366h6v6h-6zM450 366h6v6h-6zM468 366h6v6h-6zM474 366h6v6h-6zM534 366h6v6h-6zM468 372h6v6h-6zM864 384h6v6h-6zM384 390h6v6h-6zM858 390h6v6h-6zM864 390h6v6h-6zM870 390h6v6h-6zM864 396h6v6h-6zM924 402h6v6h-6zM882 414h6v6h-6zM924 432h6v6h-6zM930 432h6v6h-6zM918 444h6v6h-6z"/><path fill="#ffb400" d="M588 162h6v6h-6zM588 228h6v6h-6zM936 246h6v6h-6zM588 252h6v6h-6zM954 252h6v6h-6zM582 258h6v6h-6zM942 258h6v6h-6zM912 264h6v6h-6zM918 264h6v6h-6zM924 264h6v6h-6zM936 264h6v6h-6zM942 264h6v6h-6zM954 264h6v6h-6zM894 270h6v6h-6zM900 270h6v6h-6zM954 270h6v6h-6zM480 276h6v6h-6zM444 288h6v6h-6zM516 288h6v6h-6zM486 294h6v6h-6zM498 294h6v6h-6zM858 294h6v6h-6zM564 300h6v6h-6zM546 306h6v6h-6zM582 306h6v6h-6zM408 312h6v6h-6zM564 312h6v6h-6zM576 312h6v6h-6zM582 312h6v6h-6zM588 312h6v6h-6zM522 318h6v6h-6zM558 318h6v6h-6zM576 318h6v6h-6zM582 318h6v6h-6zM588 318h6v6h-6zM858 318h6v6h-6zM408 324h6v6h-6zM504 324h6v6h-6zM522 324h6v6h-6zM564 324h6v6h-6zM570 324h6v6h-6zM582 324h6v6h-6zM630 324h6v6h-6zM666 324h6v6h-6zM936 324h6v6h-6zM564 330h6v6h-6zM588 330h6v6h-6zM594 330h6v6h-6zM672 336h6v6h-6zM930 336h6v6h-6zM858 342h6v6h-6zM672 348h6v6h-6zM840 348h6v6h-6zM510 354h6v6h-6zM648 354h6v6h-6zM660 354h6v6h-6zM432 360h6v6h-6zM516 360h6v6h-6zM528 360h6v6h-6zM534 360h6v6h-6zM558 360h6v6h-6zM846 366h6v6h-6zM474 372h6v6h-6zM480 372h6v6h-6zM486 372h6v6h-6zM918 372h6v6h-6zM858 378h6v6h-6zM870 384h6v6h-6zM912 390h6v6h-6zM858 396h6v6h-6zM858 402h6v6h-6zM864 402h6v6h-6zM852 408h6v6h-6zM870 408h6v6h-6zM876 414h6v6h-6zM888 414h6v6h-6zM900 414h6v6h-6zM924 420h6v6h-6zM684 426h6v6h-6zM918 426h6v6h-6zM918 432h6v6h-6zM936 432h6v6h-6z"/><path fill="#ffb100" d="M594 156h6v6h-6zM576 174h6v6h-6zM582 174h6v6h-6zM564 186h6v6h-6zM582 192h6v6h-6zM588 192h6v6h-6zM600 210h6v6h-6zM948 246h6v6h-6zM936 258h6v6h-6zM960 258h6v6h-6zM906 264h6v6h-6zM930 264h6v6h-6zM948 264h6v6h-6zM594 270h6v6h-6zM594 276h6v6h-6zM450 282h6v6h-6zM858 288h6v6h-6zM582 294h6v6h-6zM540 300h6v6h-6zM558 300h6v6h-6zM582 300h6v6h-6zM510 306h6v6h-6zM516 306h6v6h-6zM552 306h6v6h-6zM564 306h6v6h-6zM588 306h6v6h-6zM522 312h6v6h-6zM552 312h6v6h-6zM558 312h6v6h-6zM636 318h6v6h-6zM576 324h6v6h-6zM594 324h6v6h-6zM414 330h6v6h-6zM522 330h6v6h-6zM576 330h6v6h-6zM624 330h6v6h-6zM414 336h6v6h-6zM498 336h6v6h-6zM558 336h6v6h-6zM576 336h6v6h-6zM618 336h6v6h-6zM858 336h6v6h-6zM504 342h6v6h-6zM510 342h6v6h-6zM516 342h6v6h-6zM558 342h6v6h-6zM624 342h6v6h-6zM678 342h6v6h-6zM834 342h6v6h-6zM840 342h6v6h-6zM510 348h6v6h-6zM678 348h6v6h-6zM834 348h6v6h-6zM414 354h6v6h-6zM462 354h6v6h-6zM528 354h6v6h-6zM552 354h6v6h-6zM450 360h6v6h-6zM474 360h6v6h-6zM480 360h6v6h-6zM486 360h6v6h-6zM510 360h6v6h-6zM522 360h6v6h-6zM492 366h6v6h-6zM840 366h6v6h-6zM852 366h6v6h-6zM858 372h6v6h-6zM852 384h6v6h-6zM912 384h6v6h-6zM852 402h6v6h-6zM846 408h6v6h-6zM858 408h6v6h-6zM846 414h6v6h-6zM852 414h6v6h-6zM894 414h6v6h-6zM930 414h6v6h-6zM684 420h6v6h-6zM846 420h6v6h-6zM852 420h6v6h-6zM906 420h6v6h-6zM690 426h6v6h-6zM846 426h6v6h-6zM852 426h6v6h-6zM924 426h6v6h-6zM930 426h6v6h-6zM684 432h6v6h-6zM936 444h6v6h-6z"/><path fill="#ffae00" d="M594 162h6v6h-6zM570 168h6v6h-6zM558 180h6v6h-6zM576 180h6v6h-6zM582 180h6v6h-6zM582 186h6v6h-6zM570 192h6v6h-6zM576 192h6v6h-6zM594 192h6v6h-6zM588 216h6v6h-6zM594 246h6v6h-6zM912 246h6v6h-6zM930 246h6v6h-6zM912 252h6v6h-6zM930 252h6v6h-6zM912 258h6v6h-6zM930 258h6v6h-6zM588 264h6v6h-6zM876 264h6v6h-6zM882 264h6v6h-6zM960 264h6v6h-6zM468 270h6v6h-6zM864 270h6v6h-6zM960 270h6v6h-6zM960 276h6v6h-6zM594 282h6v6h-6zM858 282h6v6h-6zM504 288h6v6h-6zM510 288h6v6h-6zM420 294h6v6h-6zM528 294h6v6h-6zM588 294h6v6h-6zM492 300h6v6h-6zM858 300h6v6h-6zM558 306h6v6h-6zM546 312h6v6h-6zM408 318h6v6h-6zM504 318h6v6h-6zM594 318h6v6h-6zM630 318h6v6h-6zM558 324h6v6h-6zM420 330h6v6h-6zM498 330h6v6h-6zM558 330h6v6h-6zM582 330h6v6h-6zM600 330h6v6h-6zM936 330h6v6h-6zM420 336h6v6h-6zM540 336h6v6h-6zM834 336h6v6h-6zM498 342h6v6h-6zM522 342h6v6h-6zM846 342h6v6h-6zM852 342h6v6h-6zM528 348h6v6h-6zM558 348h6v6h-6zM564 348h6v6h-6zM630 348h6v6h-6zM420 354h6v6h-6zM426 354h6v6h-6zM432 354h6v6h-6zM468 354h6v6h-6zM546 354h6v6h-6zM558 354h6v6h-6zM834 354h6v6h-6zM438 360h6v6h-6zM444 360h6v6h-6zM492 360h6v6h-6zM510 366h6v6h-6zM528 366h6v6h-6zM564 366h6v6h-6zM852 378h6v6h-6zM852 390h6v6h-6zM918 390h6v6h-6zM924 396h6v6h-6zM846 402h6v6h-6zM840 408h6v6h-6zM864 408h6v6h-6zM930 408h6v6h-6zM840 414h6v6h-6zM858 414h6v6h-6zM690 420h6v6h-6zM930 420h6v6h-6zM840 426h6v6h-6zM912 426h6v6h-6zM858 432h6v6h-6zM924 450h6v6h-6z"/><path fill="#ffab00" d="M558 168h6v6h-6zM588 168h6v6h-6zM570 186h6v6h-6zM576 186h6v6h-6zM588 186h6v6h-6zM600 192h6v6h-6zM594 228h6v6h-6zM918 246h6v6h-6zM906 252h6v6h-6zM918 252h6v6h-6zM924 252h6v6h-6zM960 252h6v6h-6zM588 258h6v6h-6zM906 258h6v6h-6zM918 258h6v6h-6zM924 258h6v6h-6zM594 264h6v6h-6zM870 264h6v6h-6zM900 264h6v6h-6zM450 270h6v6h-6zM600 270h6v6h-6zM450 276h6v6h-6zM474 276h6v6h-6zM456 282h6v6h-6zM480 282h6v6h-6zM450 288h6v6h-6zM594 288h6v6h-6zM432 294h6v6h-6zM438 294h6v6h-6zM504 294h6v6h-6zM498 300h6v6h-6zM504 300h6v6h-6zM510 300h6v6h-6zM588 300h6v6h-6zM414 306h6v6h-6zM522 306h6v6h-6zM594 312h6v6h-6zM654 312h6v6h-6zM858 312h6v6h-6zM528 318h6v6h-6zM552 318h6v6h-6zM528 324h6v6h-6zM600 324h6v6h-6zM606 324h6v6h-6zM624 324h6v6h-6zM534 330h6v6h-6zM540 330h6v6h-6zM606 330h6v6h-6zM612 330h6v6h-6zM618 330h6v6h-6zM672 330h6v6h-6zM522 336h6v6h-6zM534 336h6v6h-6zM546 336h6v6h-6zM552 336h6v6h-6zM594 336h6v6h-6zM600 336h6v6h-6zM612 336h6v6h-6zM840 336h6v6h-6zM936 336h6v6h-6zM942 336h6v6h-6zM948 336h6v6h-6zM528 342h6v6h-6zM552 342h6v6h-6zM576 342h6v6h-6zM936 342h6v6h-6zM504 348h6v6h-6zM552 348h6v6h-6zM570 348h6v6h-6zM438 354h6v6h-6zM456 354h6v6h-6zM504 354h6v6h-6zM534 354h6v6h-6zM498 360h6v6h-6zM504 360h6v6h-6zM564 360h6v6h-6zM582 360h6v6h-6zM834 360h6v6h-6zM498 366h6v6h-6zM504 366h6v6h-6zM516 366h6v6h-6zM924 366h6v6h-6zM528 372h6v6h-6zM852 372h6v6h-6zM852 396h6v6h-6zM678 414h6v6h-6zM684 414h6v6h-6zM870 414h6v6h-6zM678 420h6v6h-6zM840 420h6v6h-6zM858 420h6v6h-6zM678 426h6v6h-6zM858 426h6v6h-6zM936 426h6v6h-6zM678 432h6v6h-6zM690 432h6v6h-6zM852 432h6v6h-6zM864 438h6v6h-6zM912 444h6v6h-6zM918 450h6v6h-6zM930 450h6v6h-6z"/><path fill="#ffa800" d="M600 162h6v6h-6zM588 174h6v6h-6zM570 180h6v6h-6zM588 180h6v6h-6zM606 198h6v6h-6zM606 204h6v6h-6zM594 216h6v6h-6zM588 222h6v6h-6zM600 234h6v6h-6zM906 246h6v6h-6zM924 246h6v6h-6zM954 246h6v6h-6zM888 264h6v6h-6zM894 264h6v6h-6zM462 270h6v6h-6zM600 276h6v6h-6zM858 276h6v6h-6zM462 282h6v6h-6zM456 288h6v6h-6zM480 288h6v6h-6zM426 294h6v6h-6zM510 294h6v6h-6zM522 294h6v6h-6zM594 294h6v6h-6zM486 300h6v6h-6zM516 300h6v6h-6zM534 300h6v6h-6zM504 306h6v6h-6zM540 306h6v6h-6zM594 306h6v6h-6zM858 306h6v6h-6zM504 312h6v6h-6zM528 312h6v6h-6zM540 312h6v6h-6zM648 312h6v6h-6zM534 318h6v6h-6zM540 318h6v6h-6zM546 318h6v6h-6zM606 318h6v6h-6zM612 318h6v6h-6zM618 318h6v6h-6zM624 318h6v6h-6zM666 318h6v6h-6zM852 318h6v6h-6zM414 324h6v6h-6zM534 324h6v6h-6zM540 324h6v6h-6zM546 324h6v6h-6zM552 324h6v6h-6zM612 324h6v6h-6zM852 324h6v6h-6zM426 330h6v6h-6zM528 330h6v6h-6zM546 330h6v6h-6zM552 330h6v6h-6zM426 336h6v6h-6zM528 336h6v6h-6zM582 336h6v6h-6zM588 336h6v6h-6zM606 336h6v6h-6zM678 336h6v6h-6zM414 342h6v6h-6zM534 342h6v6h-6zM540 342h6v6h-6zM546 342h6v6h-6zM618 342h6v6h-6zM684 342h6v6h-6zM498 348h6v6h-6zM684 348h6v6h-6zM936 348h6v6h-6zM492 354h6v6h-6zM498 354h6v6h-6zM540 354h6v6h-6zM564 354h6v6h-6zM642 354h6v6h-6zM666 354h6v6h-6zM828 354h6v6h-6zM570 360h6v6h-6zM576 360h6v6h-6zM930 360h6v6h-6zM522 366h6v6h-6zM570 366h6v6h-6zM582 366h6v6h-6zM834 366h6v6h-6zM846 372h6v6h-6zM918 378h6v6h-6zM930 402h6v6h-6zM864 414h6v6h-6zM900 420h6v6h-6zM696 426h6v6h-6zM840 432h6v6h-6zM846 432h6v6h-6zM864 432h6v6h-6zM684 438h6v6h-6zM858 438h6v6h-6zM870 438h6v6h-6z"/><path fill="#ffa400" d="M564 168h6v6h-6zM594 168h6v6h-6zM558 174h6v6h-6zM570 174h6v6h-6zM564 180h6v6h-6zM594 186h6v6h-6zM600 216h6v6h-6zM600 228h6v6h-6zM918 240h6v6h-6zM900 258h6v6h-6zM966 258h6v6h-6zM600 264h6v6h-6zM456 270h6v6h-6zM606 270h6v6h-6zM456 276h6v6h-6zM462 276h6v6h-6zM468 276h6v6h-6zM444 294h6v6h-6zM516 294h6v6h-6zM522 300h6v6h-6zM528 300h6v6h-6zM594 300h6v6h-6zM528 306h6v6h-6zM534 312h6v6h-6zM612 312h6v6h-6zM618 312h6v6h-6zM624 312h6v6h-6zM630 312h6v6h-6zM600 318h6v6h-6zM498 324h6v6h-6zM618 324h6v6h-6zM852 330h6v6h-6zM828 336h6v6h-6zM846 336h6v6h-6zM852 336h6v6h-6zM600 342h6v6h-6zM606 342h6v6h-6zM612 342h6v6h-6zM828 342h6v6h-6zM942 342h6v6h-6zM414 348h6v6h-6zM432 348h6v6h-6zM438 348h6v6h-6zM468 348h6v6h-6zM534 348h6v6h-6zM546 348h6v6h-6zM576 348h6v6h-6zM828 348h6v6h-6zM444 354h6v6h-6zM450 354h6v6h-6zM474 354h6v6h-6zM486 354h6v6h-6zM570 354h6v6h-6zM576 354h6v6h-6zM582 354h6v6h-6zM822 360h6v6h-6zM828 360h6v6h-6zM576 366h6v6h-6zM816 366h6v6h-6zM516 372h6v6h-6zM522 372h6v6h-6zM840 372h6v6h-6zM918 384h6v6h-6zM810 396h6v6h-6zM846 396h6v6h-6zM840 402h6v6h-6zM678 408h6v6h-6zM834 408h6v6h-6zM690 414h6v6h-6zM834 414h6v6h-6zM696 420h6v6h-6zM882 420h6v6h-6zM888 420h6v6h-6zM894 420h6v6h-6zM936 420h6v6h-6zM834 426h6v6h-6zM912 432h6v6h-6zM876 438h6v6h-6zM912 438h6v6h-6zM942 438h6v6h-6zM864 444h6v6h-6zM870 444h6v6h-6zM876 444h6v6h-6zM912 450h6v6h-6z"/><path fill="#ffa100" d="M606 210h6v6h-6zM594 222h6v6h-6zM600 222h6v6h-6zM600 240h6v6h-6zM924 240h6v6h-6zM936 240h6v6h-6zM942 240h6v6h-6zM900 252h6v6h-6zM966 252h6v6h-6zM882 258h6v6h-6zM888 258h6v6h-6zM894 258h6v6h-6zM606 264h6v6h-6zM864 264h6v6h-6zM966 264h6v6h-6zM420 300h6v6h-6zM600 300h6v6h-6zM534 306h6v6h-6zM600 306h6v6h-6zM414 312h6v6h-6zM600 312h6v6h-6zM606 312h6v6h-6zM636 312h6v6h-6zM660 312h6v6h-6zM852 312h6v6h-6zM420 324h6v6h-6zM834 330h6v6h-6zM840 330h6v6h-6zM492 336h6v6h-6zM420 342h6v6h-6zM426 342h6v6h-6zM492 342h6v6h-6zM594 342h6v6h-6zM948 342h6v6h-6zM426 348h6v6h-6zM462 348h6v6h-6zM492 348h6v6h-6zM540 348h6v6h-6zM624 348h6v6h-6zM480 354h6v6h-6zM636 354h6v6h-6zM678 354h6v6h-6zM822 354h6v6h-6zM936 354h6v6h-6zM816 360h6v6h-6zM588 366h6v6h-6zM810 366h6v6h-6zM822 366h6v6h-6zM828 366h6v6h-6zM810 372h6v6h-6zM816 372h6v6h-6zM834 372h6v6h-6zM846 378h6v6h-6zM846 384h6v6h-6zM810 390h6v6h-6zM846 390h6v6h-6zM924 390h6v6h-6zM816 396h6v6h-6zM672 408h6v6h-6zM672 414h6v6h-6zM834 420h6v6h-6zM864 420h6v6h-6zM876 420h6v6h-6zM804 426h6v6h-6zM810 426h6v6h-6zM864 426h6v6h-6zM870 432h6v6h-6zM678 438h6v6h-6zM690 438h6v6h-6zM876 450h6v6h-6zM732 474h6v6h-6z"/><path fill="#ff9e00" d="M594 174h6v6h-6zM594 180h6v6h-6zM606 216h6v6h-6zM606 222h6v6h-6zM612 222h6v6h-6zM606 228h6v6h-6zM606 234h6v6h-6zM930 240h6v6h-6zM900 246h6v6h-6zM960 246h6v6h-6zM972 246h6v6h-6zM594 252h6v6h-6zM894 252h6v6h-6zM972 252h6v6h-6zM978 252h6v6h-6zM594 258h6v6h-6zM876 258h6v6h-6zM858 270h6v6h-6zM966 270h6v6h-6zM606 276h6v6h-6zM966 276h6v6h-6zM468 282h6v6h-6zM474 282h6v6h-6zM600 282h6v6h-6zM462 288h6v6h-6zM450 294h6v6h-6zM480 294h6v6h-6zM600 294h6v6h-6zM432 300h6v6h-6zM438 300h6v6h-6zM606 300h6v6h-6zM606 306h6v6h-6zM612 306h6v6h-6zM642 312h6v6h-6zM414 318h6v6h-6zM846 318h6v6h-6zM672 324h6v6h-6zM846 324h6v6h-6zM432 330h6v6h-6zM492 330h6v6h-6zM846 330h6v6h-6zM684 336h6v6h-6zM432 342h6v6h-6zM582 342h6v6h-6zM420 348h6v6h-6zM582 348h6v6h-6zM672 354h6v6h-6zM816 354h6v6h-6zM588 360h6v6h-6zM654 360h6v6h-6zM810 360h6v6h-6zM804 366h6v6h-6zM804 372h6v6h-6zM822 372h6v6h-6zM828 372h6v6h-6zM840 378h6v6h-6zM804 390h6v6h-6zM840 396h6v6h-6zM816 402h6v6h-6zM684 408h6v6h-6zM828 408h6v6h-6zM936 414h6v6h-6zM672 420h6v6h-6zM804 420h6v6h-6zM870 420h6v6h-6zM882 426h6v6h-6zM906 426h6v6h-6zM696 432h6v6h-6zM810 432h6v6h-6zM834 432h6v6h-6zM876 432h6v6h-6zM882 432h6v6h-6zM942 432h6v6h-6zM852 438h6v6h-6zM882 438h6v6h-6zM684 444h6v6h-6zM858 444h6v6h-6zM882 444h6v6h-6zM870 450h6v6h-6zM918 456h6v6h-6zM924 456h6v6h-6zM726 468h6v6h-6zM732 468h6v6h-6zM726 474h6v6h-6zM732 480h6v6h-6z"/><path fill="#ff9b00" d="M600 168h6v6h-6zM564 174h6v6h-6zM600 186h6v6h-6zM606 192h6v6h-6zM612 228h6v6h-6zM612 234h6v6h-6zM618 234h6v6h-6zM612 240h6v6h-6zM618 240h6v6h-6zM948 240h6v6h-6zM612 246h6v6h-6zM966 246h6v6h-6zM888 252h6v6h-6zM972 258h6v6h-6zM612 264h6v6h-6zM612 270h6v6h-6zM600 288h6v6h-6zM852 288h6v6h-6zM456 294h6v6h-6zM606 294h6v6h-6zM852 294h6v6h-6zM444 300h6v6h-6zM852 300h6v6h-6zM498 306h6v6h-6zM498 318h6v6h-6zM426 324h6v6h-6zM678 330h6v6h-6zM828 330h6v6h-6zM432 336h6v6h-6zM588 342h6v6h-6zM444 348h6v6h-6zM456 348h6v6h-6zM474 348h6v6h-6zM606 348h6v6h-6zM612 348h6v6h-6zM618 348h6v6h-6zM942 348h6v6h-6zM588 354h6v6h-6zM684 354h6v6h-6zM648 360h6v6h-6zM762 360h6v6h-6zM924 372h6v6h-6zM804 378h6v6h-6zM810 378h6v6h-6zM834 378h6v6h-6zM804 384h6v6h-6zM810 384h6v6h-6zM840 384h6v6h-6zM840 390h6v6h-6zM804 396h6v6h-6zM930 396h6v6h-6zM672 402h6v6h-6zM786 402h6v6h-6zM810 402h6v6h-6zM834 402h6v6h-6zM696 414h6v6h-6zM828 414h6v6h-6zM702 420h6v6h-6zM810 420h6v6h-6zM672 426h6v6h-6zM870 426h6v6h-6zM876 426h6v6h-6zM888 426h6v6h-6zM804 432h6v6h-6zM678 444h6v6h-6zM942 444h6v6h-6zM864 450h6v6h-6zM882 450h6v6h-6zM936 450h6v6h-6zM912 456h6v6h-6zM726 462h6v6h-6zM720 468h6v6h-6z"/><path fill="#ff9800" d="M600 174h6v6h-6zM612 216h6v6h-6zM924 234h6v6h-6zM606 240h6v6h-6zM966 240h6v6h-6zM600 246h6v6h-6zM618 246h6v6h-6zM612 252h6v6h-6zM882 252h6v6h-6zM600 258h6v6h-6zM606 258h6v6h-6zM612 258h6v6h-6zM870 258h6v6h-6zM978 258h6v6h-6zM984 258h6v6h-6zM972 264h6v6h-6zM978 264h6v6h-6zM852 282h6v6h-6zM426 300h6v6h-6zM450 300h6v6h-6zM612 300h6v6h-6zM420 306h6v6h-6zM492 306h6v6h-6zM630 306h6v6h-6zM852 306h6v6h-6zM846 312h6v6h-6zM672 318h6v6h-6zM492 324h6v6h-6zM840 324h6v6h-6zM438 342h6v6h-6zM954 342h6v6h-6zM450 348h6v6h-6zM486 348h6v6h-6zM588 348h6v6h-6zM600 348h6v6h-6zM822 348h6v6h-6zM630 354h6v6h-6zM756 354h6v6h-6zM762 354h6v6h-6zM810 354h6v6h-6zM660 360h6v6h-6zM756 360h6v6h-6zM804 360h6v6h-6zM762 366h6v6h-6zM798 366h6v6h-6zM798 372h6v6h-6zM816 378h6v6h-6zM828 378h6v6h-6zM834 384h6v6h-6zM816 390h6v6h-6zM786 396h6v6h-6zM678 402h6v6h-6zM792 402h6v6h-6zM822 402h6v6h-6zM714 408h6v6h-6zM822 408h6v6h-6zM936 408h6v6h-6zM708 414h6v6h-6zM714 414h6v6h-6zM828 420h6v6h-6zM702 426h6v6h-6zM798 426h6v6h-6zM816 426h6v6h-6zM828 426h6v6h-6zM894 426h6v6h-6zM900 426h6v6h-6zM942 426h6v6h-6zM816 432h6v6h-6zM888 432h6v6h-6zM810 438h6v6h-6zM816 438h6v6h-6zM690 444h6v6h-6zM810 444h6v6h-6zM816 444h6v6h-6zM858 450h6v6h-6zM906 450h6v6h-6zM726 456h6v6h-6zM930 456h6v6h-6zM720 462h6v6h-6zM732 462h6v6h-6zM918 462h6v6h-6zM708 468h6v6h-6zM714 468h6v6h-6zM738 468h6v6h-6zM720 474h6v6h-6zM738 474h6v6h-6zM756 474h6v6h-6zM726 480h6v6h-6zM738 480h6v6h-6z"/><path fill="#ff9400" d="M606 168h6v6h-6zM600 180h6v6h-6zM624 186h6v6h-6zM624 192h6v6h-6zM618 222h6v6h-6zM618 228h6v6h-6zM948 228h6v6h-6zM954 228h6v6h-6zM624 234h6v6h-6zM942 234h6v6h-6zM624 240h6v6h-6zM900 240h6v6h-6zM606 246h6v6h-6zM894 246h6v6h-6zM618 252h6v6h-6zM858 264h6v6h-6zM972 270h6v6h-6zM612 276h6v6h-6zM852 276h6v6h-6zM606 282h6v6h-6zM474 288h6v6h-6zM606 288h6v6h-6zM480 300h6v6h-6zM846 300h6v6h-6zM618 306h6v6h-6zM624 306h6v6h-6zM636 306h6v6h-6zM648 306h6v6h-6zM654 306h6v6h-6zM840 306h6v6h-6zM846 306h6v6h-6zM498 312h6v6h-6zM666 312h6v6h-6zM432 324h6v6h-6zM480 324h6v6h-6zM486 324h6v6h-6zM834 324h6v6h-6zM438 330h6v6h-6zM444 330h6v6h-6zM486 330h6v6h-6zM684 330h6v6h-6zM798 330h6v6h-6zM438 336h6v6h-6zM468 342h6v6h-6zM690 342h6v6h-6zM480 348h6v6h-6zM594 348h6v6h-6zM690 348h6v6h-6zM642 360h6v6h-6zM798 360h6v6h-6zM612 366h6v6h-6zM618 366h6v6h-6zM756 366h6v6h-6zM786 378h6v6h-6zM792 378h6v6h-6zM798 378h6v6h-6zM822 378h6v6h-6zM750 384h6v6h-6zM786 384h6v6h-6zM798 384h6v6h-6zM924 384h6v6h-6zM750 390h6v6h-6zM786 390h6v6h-6zM798 390h6v6h-6zM792 396h6v6h-6zM828 402h6v6h-6zM690 408h6v6h-6zM816 408h6v6h-6zM702 414h6v6h-6zM822 414h6v6h-6zM798 420h6v6h-6zM672 432h6v6h-6zM756 432h6v6h-6zM828 432h6v6h-6zM846 438h6v6h-6zM888 438h6v6h-6zM888 444h6v6h-6zM906 444h6v6h-6zM678 450h6v6h-6zM684 450h6v6h-6zM780 450h6v6h-6zM786 450h6v6h-6zM888 450h6v6h-6zM720 456h6v6h-6zM876 456h6v6h-6zM882 456h6v6h-6zM888 456h6v6h-6zM906 456h6v6h-6zM708 462h6v6h-6zM714 462h6v6h-6zM912 462h6v6h-6zM714 474h6v6h-6zM750 474h6v6h-6zM762 474h6v6h-6zM708 486h6v6h-6zM732 486h6v6h-6zM702 492h6v6h-6z"/><path fill="#ff9100" d="M630 192h6v6h-6zM612 198h6v6h-6zM612 204h6v6h-6zM612 210h6v6h-6zM930 234h6v6h-6zM936 234h6v6h-6zM948 234h6v6h-6zM960 234h6v6h-6zM954 240h6v6h-6zM960 240h6v6h-6zM600 252h6v6h-6zM606 252h6v6h-6zM876 252h6v6h-6zM468 288h6v6h-6zM462 294h6v6h-6zM612 294h6v6h-6zM456 300h6v6h-6zM630 300h6v6h-6zM840 300h6v6h-6zM486 306h6v6h-6zM642 306h6v6h-6zM840 312h6v6h-6zM420 318h6v6h-6zM840 318h6v6h-6zM678 324h6v6h-6zM828 324h6v6h-6zM450 330h6v6h-6zM480 330h6v6h-6zM804 330h6v6h-6zM444 336h6v6h-6zM486 336h6v6h-6zM690 336h6v6h-6zM822 336h6v6h-6zM444 342h6v6h-6zM474 342h6v6h-6zM486 342h6v6h-6zM822 342h6v6h-6zM816 348h6v6h-6zM948 348h6v6h-6zM612 354h6v6h-6zM618 354h6v6h-6zM624 354h6v6h-6zM804 354h6v6h-6zM612 360h6v6h-6zM618 360h6v6h-6zM786 372h6v6h-6zM792 372h6v6h-6zM780 378h6v6h-6zM924 378h6v6h-6zM744 384h6v6h-6zM756 384h6v6h-6zM792 384h6v6h-6zM744 390h6v6h-6zM756 390h6v6h-6zM792 390h6v6h-6zM834 390h6v6h-6zM666 396h6v6h-6zM672 396h6v6h-6zM744 396h6v6h-6zM750 396h6v6h-6zM780 396h6v6h-6zM798 396h6v6h-6zM822 396h6v6h-6zM834 396h6v6h-6zM666 402h6v6h-6zM936 402h6v6h-6zM708 408h6v6h-6zM786 408h6v6h-6zM792 408h6v6h-6zM804 414h6v6h-6zM810 414h6v6h-6zM708 420h6v6h-6zM816 420h6v6h-6zM822 420h6v6h-6zM942 420h6v6h-6zM822 426h6v6h-6zM702 432h6v6h-6zM798 432h6v6h-6zM822 432h6v6h-6zM672 438h6v6h-6zM696 438h6v6h-6zM720 438h6v6h-6zM726 438h6v6h-6zM756 438h6v6h-6zM804 438h6v6h-6zM840 438h6v6h-6zM720 444h6v6h-6zM726 444h6v6h-6zM780 444h6v6h-6zM786 444h6v6h-6zM852 444h6v6h-6zM672 450h6v6h-6zM720 450h6v6h-6zM726 450h6v6h-6zM774 450h6v6h-6zM792 450h6v6h-6zM852 450h6v6h-6zM660 456h6v6h-6zM666 456h6v6h-6zM732 456h6v6h-6zM798 456h6v6h-6zM846 456h6v6h-6zM870 456h6v6h-6zM894 456h6v6h-6zM900 456h6v6h-6zM702 462h6v6h-6zM738 462h6v6h-6zM798 462h6v6h-6zM888 462h6v6h-6zM894 462h6v6h-6zM900 462h6v6h-6zM906 462h6v6h-6zM924 462h6v6h-6zM702 468h6v6h-6zM744 468h6v6h-6zM756 468h6v6h-6zM912 468h6v6h-6zM918 468h6v6h-6zM708 474h6v6h-6zM744 474h6v6h-6zM714 480h6v6h-6zM720 480h6v6h-6zM744 480h6v6h-6zM750 480h6v6h-6zM756 480h6v6h-6zM762 480h6v6h-6zM702 486h6v6h-6zM714 486h6v6h-6zM726 486h6v6h-6zM708 492h6v6h-6z"/><path fill="#ff8e00" d="M606 174h6v6h-6zM606 186h6v6h-6zM618 216h6v6h-6zM624 228h6v6h-6zM954 234h6v6h-6zM666 240h6v6h-6zM624 246h6v6h-6zM888 246h6v6h-6zM618 258h6v6h-6zM852 270h6v6h-6zM612 282h6v6h-6zM612 288h6v6h-6zM846 294h6v6h-6zM636 300h6v6h-6zM426 306h6v6h-6zM432 306h6v6h-6zM438 306h6v6h-6zM444 306h6v6h-6zM450 306h6v6h-6zM834 306h6v6h-6zM420 312h6v6h-6zM672 312h6v6h-6zM816 312h6v6h-6zM822 312h6v6h-6zM480 318h6v6h-6zM486 318h6v6h-6zM492 318h6v6h-6zM678 318h6v6h-6zM822 318h6v6h-6zM828 318h6v6h-6zM834 318h6v6h-6zM438 324h6v6h-6zM444 324h6v6h-6zM684 324h6v6h-6zM804 324h6v6h-6zM690 330h6v6h-6zM450 336h6v6h-6zM480 336h6v6h-6zM798 336h6v6h-6zM462 342h6v6h-6zM480 342h6v6h-6zM762 348h6v6h-6zM810 348h6v6h-6zM594 354h6v6h-6zM606 354h6v6h-6zM798 354h6v6h-6zM942 354h6v6h-6zM594 360h6v6h-6zM636 360h6v6h-6zM678 360h6v6h-6zM684 360h6v6h-6zM792 360h6v6h-6zM936 360h6v6h-6zM624 366h6v6h-6zM636 366h6v6h-6zM642 366h6v6h-6zM648 366h6v6h-6zM654 366h6v6h-6zM684 366h6v6h-6zM792 366h6v6h-6zM930 366h6v6h-6zM612 372h6v6h-6zM618 372h6v6h-6zM636 372h6v6h-6zM642 372h6v6h-6zM648 372h6v6h-6zM654 372h6v6h-6zM684 372h6v6h-6zM756 372h6v6h-6zM762 372h6v6h-6zM648 378h6v6h-6zM654 378h6v6h-6zM720 378h6v6h-6zM744 378h6v6h-6zM750 378h6v6h-6zM756 378h6v6h-6zM720 384h6v6h-6zM780 384h6v6h-6zM816 384h6v6h-6zM828 384h6v6h-6zM720 390h6v6h-6zM780 390h6v6h-6zM714 396h6v6h-6zM756 396h6v6h-6zM684 402h6v6h-6zM714 402h6v6h-6zM744 402h6v6h-6zM750 402h6v6h-6zM780 402h6v6h-6zM798 402h6v6h-6zM804 402h6v6h-6zM666 408h6v6h-6zM696 408h6v6h-6zM810 408h6v6h-6zM666 414h6v6h-6zM798 414h6v6h-6zM816 414h6v6h-6zM756 426h6v6h-6zM762 432h6v6h-6zM894 432h6v6h-6zM906 432h6v6h-6zM750 438h6v6h-6zM762 438h6v6h-6zM822 438h6v6h-6zM834 438h6v6h-6zM894 438h6v6h-6zM906 438h6v6h-6zM948 438h6v6h-6zM672 444h6v6h-6zM750 444h6v6h-6zM756 444h6v6h-6zM774 444h6v6h-6zM792 444h6v6h-6zM804 444h6v6h-6zM822 444h6v6h-6zM894 444h6v6h-6zM690 450h6v6h-6zM798 450h6v6h-6zM804 450h6v6h-6zM810 450h6v6h-6zM816 450h6v6h-6zM894 450h6v6h-6zM900 450h6v6h-6zM654 456h6v6h-6zM672 456h6v6h-6zM792 456h6v6h-6zM852 456h6v6h-6zM654 462h6v6h-6zM660 462h6v6h-6zM840 462h6v6h-6zM882 462h6v6h-6zM750 468h6v6h-6zM762 468h6v6h-6zM888 468h6v6h-6zM702 474h6v6h-6zM708 480h6v6h-6zM696 486h6v6h-6zM720 486h6v6h-6zM738 486h6v6h-6zM714 492h6v6h-6z"/><path fill="#ff8b00" d="M606 180h6v6h-6zM618 186h6v6h-6zM612 192h6v6h-6zM618 192h6v6h-6zM624 198h6v6h-6zM630 234h6v6h-6zM666 234h6v6h-6zM864 258h6v6h-6zM618 264h6v6h-6zM846 276h6v6h-6zM846 282h6v6h-6zM642 288h6v6h-6zM648 288h6v6h-6zM846 288h6v6h-6zM474 294h6v6h-6zM630 294h6v6h-6zM636 294h6v6h-6zM642 294h6v6h-6zM648 294h6v6h-6zM840 294h6v6h-6zM462 300h6v6h-6zM618 300h6v6h-6zM624 300h6v6h-6zM642 300h6v6h-6zM648 300h6v6h-6zM834 300h6v6h-6zM456 306h6v6h-6zM660 306h6v6h-6zM492 312h6v6h-6zM828 312h6v6h-6zM834 312h6v6h-6zM426 318h6v6h-6zM684 318h6v6h-6zM450 324h6v6h-6zM474 324h6v6h-6zM690 324h6v6h-6zM798 324h6v6h-6zM474 330h6v6h-6zM822 330h6v6h-6zM474 336h6v6h-6zM768 336h6v6h-6zM804 336h6v6h-6zM450 342h6v6h-6zM456 342h6v6h-6zM768 342h6v6h-6zM756 348h6v6h-6zM804 348h6v6h-6zM600 354h6v6h-6zM690 354h6v6h-6zM750 354h6v6h-6zM768 354h6v6h-6zM624 360h6v6h-6zM630 360h6v6h-6zM666 360h6v6h-6zM672 360h6v6h-6zM714 360h6v6h-6zM720 360h6v6h-6zM750 360h6v6h-6zM768 360h6v6h-6zM606 366h6v6h-6zM630 366h6v6h-6zM678 366h6v6h-6zM720 366h6v6h-6zM768 366h6v6h-6zM678 372h6v6h-6zM720 372h6v6h-6zM780 372h6v6h-6zM642 378h6v6h-6zM762 378h6v6h-6zM648 384h6v6h-6zM654 384h6v6h-6zM762 384h6v6h-6zM654 390h6v6h-6zM714 390h6v6h-6zM930 390h6v6h-6zM660 396h6v6h-6zM678 396h6v6h-6zM720 396h6v6h-6zM756 402h6v6h-6zM702 408h6v6h-6zM720 408h6v6h-6zM798 408h6v6h-6zM804 408h6v6h-6zM720 414h6v6h-6zM792 414h6v6h-6zM666 420h6v6h-6zM762 426h6v6h-6zM726 432h6v6h-6zM750 432h6v6h-6zM732 438h6v6h-6zM798 438h6v6h-6zM828 438h6v6h-6zM732 444h6v6h-6zM768 444h6v6h-6zM900 444h6v6h-6zM666 450h6v6h-6zM732 450h6v6h-6zM738 450h6v6h-6zM768 450h6v6h-6zM846 450h6v6h-6zM690 456h6v6h-6zM696 456h6v6h-6zM714 456h6v6h-6zM738 456h6v6h-6zM768 456h6v6h-6zM774 456h6v6h-6zM786 456h6v6h-6zM804 456h6v6h-6zM840 456h6v6h-6zM858 456h6v6h-6zM864 456h6v6h-6zM648 462h6v6h-6zM696 462h6v6h-6zM744 462h6v6h-6zM804 462h6v6h-6zM834 462h6v6h-6zM846 462h6v6h-6zM876 462h6v6h-6zM798 468h6v6h-6zM894 468h6v6h-6zM906 468h6v6h-6zM768 474h6v6h-6zM918 474h6v6h-6zM702 480h6v6h-6zM744 486h6v6h-6z"/><path fill="#ff8800" d="M612 174h6v6h-6zM618 180h6v6h-6zM612 186h6v6h-6zM618 198h6v6h-6zM630 198h6v6h-6zM618 210h6v6h-6zM630 240h6v6h-6zM894 240h6v6h-6zM882 246h6v6h-6zM624 252h6v6h-6zM852 264h6v6h-6zM618 270h6v6h-6zM468 294h6v6h-6zM618 294h6v6h-6zM474 300h6v6h-6zM702 300h6v6h-6zM480 306h6v6h-6zM828 306h6v6h-6zM678 312h6v6h-6zM684 312h6v6h-6zM432 318h6v6h-6zM690 318h6v6h-6zM816 318h6v6h-6zM822 324h6v6h-6zM456 330h6v6h-6zM768 330h6v6h-6zM468 336h6v6h-6zM804 342h6v6h-6zM768 348h6v6h-6zM714 354h6v6h-6zM720 354h6v6h-6zM792 354h6v6h-6zM606 360h6v6h-6zM600 366h6v6h-6zM660 366h6v6h-6zM714 366h6v6h-6zM750 366h6v6h-6zM786 366h6v6h-6zM600 372h6v6h-6zM606 372h6v6h-6zM624 372h6v6h-6zM630 372h6v6h-6zM660 372h6v6h-6zM690 372h6v6h-6zM726 372h6v6h-6zM750 372h6v6h-6zM768 372h6v6h-6zM678 378h6v6h-6zM684 378h6v6h-6zM726 378h6v6h-6zM738 378h6v6h-6zM768 378h6v6h-6zM774 378h6v6h-6zM714 384h6v6h-6zM726 384h6v6h-6zM738 384h6v6h-6zM768 384h6v6h-6zM774 384h6v6h-6zM822 384h6v6h-6zM648 390h6v6h-6zM660 390h6v6h-6zM666 390h6v6h-6zM672 390h6v6h-6zM726 390h6v6h-6zM738 390h6v6h-6zM762 390h6v6h-6zM822 390h6v6h-6zM654 396h6v6h-6zM738 396h6v6h-6zM828 396h6v6h-6zM690 402h6v6h-6zM708 402h6v6h-6zM720 402h6v6h-6zM738 402h6v6h-6zM780 408h6v6h-6zM942 414h6v6h-6zM714 420h6v6h-6zM768 420h6v6h-6zM792 420h6v6h-6zM666 426h6v6h-6zM708 426h6v6h-6zM750 426h6v6h-6zM792 426h6v6h-6zM732 432h6v6h-6zM792 432h6v6h-6zM900 432h6v6h-6zM948 432h6v6h-6zM702 438h6v6h-6zM714 438h6v6h-6zM738 438h6v6h-6zM744 438h6v6h-6zM768 438h6v6h-6zM774 438h6v6h-6zM780 438h6v6h-6zM786 438h6v6h-6zM792 438h6v6h-6zM900 438h6v6h-6zM696 444h6v6h-6zM714 444h6v6h-6zM738 444h6v6h-6zM744 444h6v6h-6zM762 444h6v6h-6zM798 444h6v6h-6zM846 444h6v6h-6zM948 444h6v6h-6zM660 450h6v6h-6zM696 450h6v6h-6zM744 450h6v6h-6zM750 450h6v6h-6zM822 450h6v6h-6zM678 456h6v6h-6zM684 456h6v6h-6zM702 456h6v6h-6zM708 456h6v6h-6zM744 456h6v6h-6zM780 456h6v6h-6zM666 462h6v6h-6zM750 462h6v6h-6zM762 462h6v6h-6zM768 462h6v6h-6zM792 462h6v6h-6zM870 462h6v6h-6zM696 468h6v6h-6zM768 468h6v6h-6zM804 468h6v6h-6zM882 468h6v6h-6zM900 468h6v6h-6zM924 468h6v6h-6zM798 474h6v6h-6zM888 474h6v6h-6zM894 474h6v6h-6zM912 474h6v6h-6zM696 480h6v6h-6zM798 480h6v6h-6zM750 486h6v6h-6zM720 492h6v6h-6zM726 492h6v6h-6zM732 492h6v6h-6zM708 498h6v6h-6zM714 498h6v6h-6z"/><path fill="#ff8400" d="M612 180h6v6h-6zM618 204h6v6h-6zM624 204h6v6h-6zM624 222h6v6h-6zM630 228h6v6h-6zM672 234h6v6h-6zM660 240h6v6h-6zM672 240h6v6h-6zM876 246h6v6h-6zM870 252h6v6h-6zM858 258h6v6h-6zM618 276h6v6h-6zM648 282h6v6h-6zM636 288h6v6h-6zM654 288h6v6h-6zM624 294h6v6h-6zM702 294h6v6h-6zM708 294h6v6h-6zM834 294h6v6h-6zM468 300h6v6h-6zM654 300h6v6h-6zM708 300h6v6h-6zM462 306h6v6h-6zM666 306h6v6h-6zM822 306h6v6h-6zM426 312h6v6h-6zM480 312h6v6h-6zM486 312h6v6h-6zM738 312h6v6h-6zM810 312h6v6h-6zM438 318h6v6h-6zM474 318h6v6h-6zM804 318h6v6h-6zM810 318h6v6h-6zM456 324h6v6h-6zM768 324h6v6h-6zM810 324h6v6h-6zM468 330h6v6h-6zM696 330h6v6h-6zM774 330h6v6h-6zM792 330h6v6h-6zM456 336h6v6h-6zM774 336h6v6h-6zM762 342h6v6h-6zM810 342h6v6h-6zM816 342h6v6h-6zM744 348h6v6h-6zM750 348h6v6h-6zM798 348h6v6h-6zM954 348h6v6h-6zM744 354h6v6h-6zM600 360h6v6h-6zM690 360h6v6h-6zM786 360h6v6h-6zM690 366h6v6h-6zM714 372h6v6h-6zM738 372h6v6h-6zM744 372h6v6h-6zM774 372h6v6h-6zM660 378h6v6h-6zM690 378h6v6h-6zM714 378h6v6h-6zM732 378h6v6h-6zM732 384h6v6h-6zM732 390h6v6h-6zM774 390h6v6h-6zM828 390h6v6h-6zM726 396h6v6h-6zM762 396h6v6h-6zM660 402h6v6h-6zM762 402h6v6h-6zM768 414h6v6h-6zM774 414h6v6h-6zM780 414h6v6h-6zM786 414h6v6h-6zM720 420h6v6h-6zM756 420h6v6h-6zM762 420h6v6h-6zM774 420h6v6h-6zM786 420h6v6h-6zM768 426h6v6h-6zM720 432h6v6h-6zM738 432h6v6h-6zM744 432h6v6h-6zM768 432h6v6h-6zM654 450h6v6h-6zM714 450h6v6h-6zM756 450h6v6h-6zM762 450h6v6h-6zM942 450h6v6h-6zM648 456h6v6h-6zM750 456h6v6h-6zM762 456h6v6h-6zM810 456h6v6h-6zM834 456h6v6h-6zM756 462h6v6h-6zM828 462h6v6h-6zM930 462h6v6h-6zM792 468h6v6h-6zM834 468h6v6h-6zM840 468h6v6h-6zM876 468h6v6h-6zM696 474h6v6h-6zM792 474h6v6h-6zM804 474h6v6h-6zM882 474h6v6h-6zM924 474h6v6h-6zM768 480h6v6h-6zM792 480h6v6h-6zM756 486h6v6h-6zM762 486h6v6h-6zM738 492h6v6h-6zM786 510h6v6h-6z"/><path fill="#ff8100" d="M630 204h6v6h-6zM624 210h6v6h-6zM624 216h6v6h-6zM660 234h6v6h-6zM696 234h6v6h-6zM666 246h6v6h-6zM672 246h6v6h-6zM672 252h6v6h-6zM624 258h6v6h-6zM672 258h6v6h-6zM642 264h6v6h-6zM648 264h6v6h-6zM846 264h6v6h-6zM846 270h6v6h-6zM618 282h6v6h-6zM654 282h6v6h-6zM840 282h6v6h-6zM618 288h6v6h-6zM840 288h6v6h-6zM654 294h6v6h-6zM696 294h6v6h-6zM714 294h6v6h-6zM696 300h6v6h-6zM828 300h6v6h-6zM474 306h6v6h-6zM672 306h6v6h-6zM678 306h6v6h-6zM696 306h6v6h-6zM702 306h6v6h-6zM732 306h6v6h-6zM738 306h6v6h-6zM816 306h6v6h-6zM432 312h6v6h-6zM438 312h6v6h-6zM444 312h6v6h-6zM450 312h6v6h-6zM690 312h6v6h-6zM732 312h6v6h-6zM744 312h6v6h-6zM444 318h6v6h-6zM450 318h6v6h-6zM738 318h6v6h-6zM744 318h6v6h-6zM750 318h6v6h-6zM768 318h6v6h-6zM774 318h6v6h-6zM696 324h6v6h-6zM726 324h6v6h-6zM774 324h6v6h-6zM462 330h6v6h-6zM720 330h6v6h-6zM726 330h6v6h-6zM810 330h6v6h-6zM462 336h6v6h-6zM696 336h6v6h-6zM792 336h6v6h-6zM810 336h6v6h-6zM816 336h6v6h-6zM696 342h6v6h-6zM774 342h6v6h-6zM798 342h6v6h-6zM696 348h6v6h-6zM714 348h6v6h-6zM720 348h6v6h-6zM738 348h6v6h-6zM708 354h6v6h-6zM726 354h6v6h-6zM738 354h6v6h-6zM948 354h6v6h-6zM708 360h6v6h-6zM726 360h6v6h-6zM744 360h6v6h-6zM666 366h6v6h-6zM672 366h6v6h-6zM726 366h6v6h-6zM744 366h6v6h-6zM774 366h6v6h-6zM780 366h6v6h-6zM666 372h6v6h-6zM696 372h6v6h-6zM732 372h6v6h-6zM636 378h6v6h-6zM672 378h6v6h-6zM696 378h6v6h-6zM642 384h6v6h-6zM660 384h6v6h-6zM672 384h6v6h-6zM678 384h6v6h-6zM678 390h6v6h-6zM768 390h6v6h-6zM648 396h6v6h-6zM684 396h6v6h-6zM708 396h6v6h-6zM732 396h6v6h-6zM774 396h6v6h-6zM936 396h6v6h-6zM696 402h6v6h-6zM774 402h6v6h-6zM744 408h6v6h-6zM750 408h6v6h-6zM756 408h6v6h-6zM762 408h6v6h-6zM768 408h6v6h-6zM774 408h6v6h-6zM942 408h6v6h-6zM954 408h6v6h-6zM960 408h6v6h-6zM780 420h6v6h-6zM726 426h6v6h-6zM774 426h6v6h-6zM786 426h6v6h-6zM948 426h6v6h-6zM666 432h6v6h-6zM708 432h6v6h-6zM708 438h6v6h-6zM954 438h6v6h-6zM666 444h6v6h-6zM828 444h6v6h-6zM840 444h6v6h-6zM840 450h6v6h-6zM756 456h6v6h-6zM936 456h6v6h-6zM690 462h6v6h-6zM774 462h6v6h-6zM810 462h6v6h-6zM852 462h6v6h-6zM810 468h6v6h-6zM828 468h6v6h-6zM870 468h6v6h-6zM876 474h6v6h-6zM900 474h6v6h-6zM906 474h6v6h-6zM804 480h6v6h-6zM894 480h6v6h-6zM918 480h6v6h-6zM924 480h6v6h-6zM720 498h6v6h-6zM726 498h6v6h-6zM732 498h6v6h-6zM792 510h6v6h-6z"/><path fill="#ff7e00" d="M642 138h6v6h-6zM666 228h6v6h-6zM696 228h6v6h-6zM888 240h6v6h-6zM630 246h6v6h-6zM666 252h6v6h-6zM732 252h6v6h-6zM642 258h6v6h-6zM648 258h6v6h-6zM666 258h6v6h-6zM738 258h6v6h-6zM852 258h6v6h-6zM636 264h6v6h-6zM672 264h6v6h-6zM840 276h6v6h-6zM642 282h6v6h-6zM714 282h6v6h-6zM720 282h6v6h-6zM630 288h6v6h-6zM702 288h6v6h-6zM708 288h6v6h-6zM714 288h6v6h-6zM720 288h6v6h-6zM714 300h6v6h-6zM732 300h6v6h-6zM468 306h6v6h-6zM684 306h6v6h-6zM690 306h6v6h-6zM708 306h6v6h-6zM456 312h6v6h-6zM474 312h6v6h-6zM696 312h6v6h-6zM750 312h6v6h-6zM732 318h6v6h-6zM468 324h6v6h-6zM792 324h6v6h-6zM816 324h6v6h-6zM816 330h6v6h-6zM720 336h6v6h-6zM726 336h6v6h-6zM762 336h6v6h-6zM720 342h6v6h-6zM708 348h6v6h-6zM726 348h6v6h-6zM732 354h6v6h-6zM774 354h6v6h-6zM786 354h6v6h-6zM774 360h6v6h-6zM780 360h6v6h-6zM942 360h6v6h-6zM708 366h6v6h-6zM738 366h6v6h-6zM672 372h6v6h-6zM930 372h6v6h-6zM612 378h6v6h-6zM618 378h6v6h-6zM666 378h6v6h-6zM666 384h6v6h-6zM684 384h6v6h-6zM930 384h6v6h-6zM708 390h6v6h-6zM768 396h6v6h-6zM654 402h6v6h-6zM702 402h6v6h-6zM726 402h6v6h-6zM732 402h6v6h-6zM768 402h6v6h-6zM942 402h6v6h-6zM660 408h6v6h-6zM738 408h6v6h-6zM660 414h6v6h-6zM762 414h6v6h-6zM654 420h6v6h-6zM660 420h6v6h-6zM750 420h6v6h-6zM654 426h6v6h-6zM660 426h6v6h-6zM720 426h6v6h-6zM732 426h6v6h-6zM744 426h6v6h-6zM780 426h6v6h-6zM630 432h6v6h-6zM714 432h6v6h-6zM774 432h6v6h-6zM786 432h6v6h-6zM954 432h6v6h-6zM666 438h6v6h-6zM702 444h6v6h-6zM708 444h6v6h-6zM834 444h6v6h-6zM954 444h6v6h-6zM648 450h6v6h-6zM702 450h6v6h-6zM708 450h6v6h-6zM816 456h6v6h-6zM822 456h6v6h-6zM828 456h6v6h-6zM672 462h6v6h-6zM786 462h6v6h-6zM864 462h6v6h-6zM774 468h6v6h-6zM846 468h6v6h-6zM774 474h6v6h-6zM870 474h6v6h-6zM690 480h6v6h-6zM888 480h6v6h-6zM930 480h6v6h-6zM798 486h6v6h-6zM804 486h6v6h-6zM744 492h6v6h-6zM726 504h6v6h-6zM792 504h6v6h-6zM780 510h6v6h-6z"/><path fill="#ff7b00" d="M642 144h6v6h-6zM630 156h6v6h-6zM636 156h6v6h-6zM636 162h6v6h-6zM642 162h6v6h-6zM696 162h6v6h-6zM654 198h6v6h-6zM660 204h6v6h-6zM630 210h6v6h-6zM666 210h6v6h-6zM672 210h6v6h-6zM666 216h6v6h-6zM630 222h6v6h-6zM636 228h6v6h-6zM636 234h6v6h-6zM690 234h6v6h-6zM660 246h6v6h-6zM732 246h6v6h-6zM630 252h6v6h-6zM636 258h6v6h-6zM654 258h6v6h-6zM678 258h6v6h-6zM732 258h6v6h-6zM846 258h6v6h-6zM624 264h6v6h-6zM654 264h6v6h-6zM666 264h6v6h-6zM840 264h6v6h-6zM642 270h6v6h-6zM648 270h6v6h-6zM672 270h6v6h-6zM840 270h6v6h-6zM648 276h6v6h-6zM654 276h6v6h-6zM678 276h6v6h-6zM714 276h6v6h-6zM624 288h6v6h-6zM696 288h6v6h-6zM726 288h6v6h-6zM834 288h6v6h-6zM690 294h6v6h-6zM720 294h6v6h-6zM732 294h6v6h-6zM828 294h6v6h-6zM660 300h6v6h-6zM690 300h6v6h-6zM738 300h6v6h-6zM756 300h6v6h-6zM822 300h6v6h-6zM726 306h6v6h-6zM744 306h6v6h-6zM750 306h6v6h-6zM756 306h6v6h-6zM462 312h6v6h-6zM468 312h6v6h-6zM726 312h6v6h-6zM756 312h6v6h-6zM456 318h6v6h-6zM468 318h6v6h-6zM696 318h6v6h-6zM726 318h6v6h-6zM756 318h6v6h-6zM762 318h6v6h-6zM780 318h6v6h-6zM798 318h6v6h-6zM462 324h6v6h-6zM720 324h6v6h-6zM732 324h6v6h-6zM762 324h6v6h-6zM762 330h6v6h-6zM702 342h6v6h-6zM708 342h6v6h-6zM714 342h6v6h-6zM738 342h6v6h-6zM744 342h6v6h-6zM756 342h6v6h-6zM702 348h6v6h-6zM732 348h6v6h-6zM774 348h6v6h-6zM696 354h6v6h-6zM780 354h6v6h-6zM732 360h6v6h-6zM738 360h6v6h-6zM696 366h6v6h-6zM732 366h6v6h-6zM600 378h6v6h-6zM606 378h6v6h-6zM930 378h6v6h-6zM690 384h6v6h-6zM696 384h6v6h-6zM708 384h6v6h-6zM642 390h6v6h-6zM690 396h6v6h-6zM954 402h6v6h-6zM948 408h6v6h-6zM756 414h6v6h-6zM960 414h6v6h-6zM648 420h6v6h-6zM726 420h6v6h-6zM948 420h6v6h-6zM630 426h6v6h-6zM648 426h6v6h-6zM714 426h6v6h-6zM738 426h6v6h-6zM780 432h6v6h-6zM960 432h6v6h-6zM960 438h6v6h-6zM660 444h6v6h-6zM960 444h6v6h-6zM828 450h6v6h-6zM834 450h6v6h-6zM990 450h6v6h-6zM684 462h6v6h-6zM780 462h6v6h-6zM816 462h6v6h-6zM822 462h6v6h-6zM786 474h6v6h-6zM870 480h6v6h-6zM912 480h6v6h-6zM894 486h6v6h-6zM918 486h6v6h-6zM924 486h6v6h-6zM804 492h6v6h-6zM918 492h6v6h-6zM738 498h6v6h-6zM906 498h6v6h-6zM912 498h6v6h-6zM918 498h6v6h-6zM732 504h6v6h-6zM786 504h6v6h-6zM798 504h6v6h-6z"/><path fill="#ff7800" d="M636 150h6v6h-6zM642 156h6v6h-6zM630 162h6v6h-6zM702 162h6v6h-6zM642 168h6v6h-6zM636 180h6v6h-6zM636 204h6v6h-6zM630 216h6v6h-6zM672 216h6v6h-6zM690 228h6v6h-6zM756 228h6v6h-6zM756 234h6v6h-6zM654 240h6v6h-6zM696 240h6v6h-6zM876 240h6v6h-6zM882 240h6v6h-6zM726 246h6v6h-6zM870 246h6v6h-6zM660 252h6v6h-6zM678 252h6v6h-6zM738 252h6v6h-6zM864 252h6v6h-6zM630 258h6v6h-6zM660 258h6v6h-6zM834 258h6v6h-6zM840 258h6v6h-6zM630 264h6v6h-6zM660 264h6v6h-6zM678 264h6v6h-6zM738 264h6v6h-6zM834 264h6v6h-6zM624 270h6v6h-6zM636 270h6v6h-6zM654 270h6v6h-6zM666 270h6v6h-6zM678 270h6v6h-6zM642 276h6v6h-6zM660 276h6v6h-6zM672 276h6v6h-6zM684 276h6v6h-6zM636 282h6v6h-6zM660 282h6v6h-6zM672 282h6v6h-6zM678 282h6v6h-6zM684 282h6v6h-6zM690 282h6v6h-6zM708 282h6v6h-6zM660 288h6v6h-6zM690 288h6v6h-6zM732 288h6v6h-6zM726 294h6v6h-6zM678 300h6v6h-6zM684 300h6v6h-6zM720 300h6v6h-6zM726 300h6v6h-6zM750 300h6v6h-6zM714 306h6v6h-6zM810 306h6v6h-6zM762 312h6v6h-6zM768 312h6v6h-6zM774 312h6v6h-6zM804 312h6v6h-6zM462 318h6v6h-6zM738 324h6v6h-6zM744 324h6v6h-6zM750 324h6v6h-6zM756 324h6v6h-6zM780 324h6v6h-6zM702 330h6v6h-6zM732 330h6v6h-6zM780 330h6v6h-6zM786 330h6v6h-6zM702 336h6v6h-6zM714 336h6v6h-6zM732 336h6v6h-6zM780 336h6v6h-6zM726 342h6v6h-6zM732 342h6v6h-6zM750 342h6v6h-6zM792 342h6v6h-6zM792 348h6v6h-6zM702 354h6v6h-6zM696 360h6v6h-6zM702 360h6v6h-6zM948 360h6v6h-6zM702 366h6v6h-6zM702 372h6v6h-6zM708 372h6v6h-6zM702 378h6v6h-6zM708 378h6v6h-6zM702 384h6v6h-6zM684 390h6v6h-6zM702 390h6v6h-6zM696 396h6v6h-6zM702 396h6v6h-6zM948 402h6v6h-6zM960 402h6v6h-6zM726 408h6v6h-6zM654 414h6v6h-6zM726 414h6v6h-6zM744 414h6v6h-6zM750 414h6v6h-6zM948 414h6v6h-6zM954 414h6v6h-6zM966 414h6v6h-6zM744 420h6v6h-6zM624 426h6v6h-6zM636 426h6v6h-6zM954 426h6v6h-6zM960 426h6v6h-6zM624 432h6v6h-6zM636 432h6v6h-6zM648 432h6v6h-6zM654 432h6v6h-6zM660 432h6v6h-6zM966 432h6v6h-6zM648 444h6v6h-6zM654 444h6v6h-6zM990 444h6v6h-6zM996 444h6v6h-6zM984 450h6v6h-6zM996 450h6v6h-6zM642 456h6v6h-6zM984 456h6v6h-6zM990 456h6v6h-6zM678 462h6v6h-6zM858 462h6v6h-6zM984 462h6v6h-6zM690 468h6v6h-6zM786 468h6v6h-6zM930 468h6v6h-6zM690 474h6v6h-6zM780 474h6v6h-6zM840 474h6v6h-6zM864 474h6v6h-6zM930 474h6v6h-6zM786 480h6v6h-6zM864 480h6v6h-6zM876 480h6v6h-6zM882 480h6v6h-6zM900 480h6v6h-6zM768 486h6v6h-6zM792 486h6v6h-6zM930 486h6v6h-6zM750 492h6v6h-6zM798 492h6v6h-6zM894 492h6v6h-6zM924 492h6v6h-6zM804 498h6v6h-6zM738 504h6v6h-6z"/><path fill="#ff7500" d="M648 132h6v6h-6zM648 138h6v6h-6zM636 144h6v6h-6zM648 144h6v6h-6zM630 150h6v6h-6zM642 150h6v6h-6zM696 156h6v6h-6zM702 156h6v6h-6zM726 198h6v6h-6zM666 204h6v6h-6zM720 204h6v6h-6zM726 204h6v6h-6zM678 210h6v6h-6zM636 222h6v6h-6zM672 222h6v6h-6zM720 222h6v6h-6zM660 228h6v6h-6zM702 228h6v6h-6zM678 234h6v6h-6zM702 234h6v6h-6zM750 234h6v6h-6zM636 240h6v6h-6zM678 240h6v6h-6zM870 240h6v6h-6zM654 246h6v6h-6zM678 246h6v6h-6zM636 252h6v6h-6zM642 252h6v6h-6zM648 252h6v6h-6zM654 252h6v6h-6zM726 252h6v6h-6zM744 258h6v6h-6zM762 258h6v6h-6zM630 270h6v6h-6zM660 270h6v6h-6zM624 276h6v6h-6zM636 276h6v6h-6zM666 276h6v6h-6zM708 276h6v6h-6zM624 282h6v6h-6zM630 282h6v6h-6zM666 282h6v6h-6zM696 282h6v6h-6zM702 282h6v6h-6zM726 282h6v6h-6zM732 282h6v6h-6zM738 282h6v6h-6zM834 282h6v6h-6zM684 288h6v6h-6zM738 288h6v6h-6zM660 294h6v6h-6zM684 294h6v6h-6zM738 294h6v6h-6zM756 294h6v6h-6zM666 300h6v6h-6zM672 300h6v6h-6zM744 300h6v6h-6zM816 300h6v6h-6zM720 306h6v6h-6zM702 312h6v6h-6zM780 312h6v6h-6zM720 318h6v6h-6zM786 318h6v6h-6zM702 324h6v6h-6zM786 324h6v6h-6zM714 330h6v6h-6zM708 336h6v6h-6zM738 336h6v6h-6zM786 336h6v6h-6zM954 354h6v6h-6zM936 366h6v6h-6zM624 378h6v6h-6zM630 378h6v6h-6zM612 384h6v6h-6zM690 390h6v6h-6zM696 390h6v6h-6zM936 390h6v6h-6zM648 402h6v6h-6zM654 408h6v6h-6zM732 408h6v6h-6zM966 408h6v6h-6zM738 414h6v6h-6zM732 420h6v6h-6zM738 420h6v6h-6zM960 420h6v6h-6zM966 420h6v6h-6zM642 426h6v6h-6zM966 426h6v6h-6zM642 432h6v6h-6zM630 438h6v6h-6zM636 438h6v6h-6zM642 438h6v6h-6zM648 438h6v6h-6zM654 438h6v6h-6zM660 438h6v6h-6zM966 438h6v6h-6zM642 444h6v6h-6zM966 444h6v6h-6zM642 450h6v6h-6zM948 450h6v6h-6zM954 450h6v6h-6zM960 450h6v6h-6zM978 462h6v6h-6zM780 468h6v6h-6zM852 468h6v6h-6zM864 468h6v6h-6zM978 468h6v6h-6zM846 474h6v6h-6zM774 480h6v6h-6zM858 480h6v6h-6zM906 480h6v6h-6zM936 480h6v6h-6zM870 486h6v6h-6zM888 486h6v6h-6zM900 492h6v6h-6zM912 492h6v6h-6zM930 492h6v6h-6zM792 498h6v6h-6zM798 498h6v6h-6zM924 498h6v6h-6z"/><path fill="#ff7200" d="M648 162h6v6h-6zM690 162h6v6h-6zM630 168h6v6h-6zM636 168h6v6h-6zM648 168h6v6h-6zM696 168h6v6h-6zM702 168h6v6h-6zM630 174h6v6h-6zM636 174h6v6h-6zM726 186h6v6h-6zM648 192h6v6h-6zM720 192h6v6h-6zM726 192h6v6h-6zM660 198h6v6h-6zM720 198h6v6h-6zM672 204h6v6h-6zM678 204h6v6h-6zM636 210h6v6h-6zM642 210h6v6h-6zM720 210h6v6h-6zM636 216h6v6h-6zM720 216h6v6h-6zM648 222h6v6h-6zM654 222h6v6h-6zM720 228h6v6h-6zM726 228h6v6h-6zM750 228h6v6h-6zM762 228h6v6h-6zM654 234h6v6h-6zM726 234h6v6h-6zM762 234h6v6h-6zM726 240h6v6h-6zM732 240h6v6h-6zM636 246h6v6h-6zM648 246h6v6h-6zM858 252h6v6h-6zM756 258h6v6h-6zM768 258h6v6h-6zM828 258h6v6h-6zM732 264h6v6h-6zM744 264h6v6h-6zM750 264h6v6h-6zM756 264h6v6h-6zM762 264h6v6h-6zM828 264h6v6h-6zM684 270h6v6h-6zM714 270h6v6h-6zM738 270h6v6h-6zM834 270h6v6h-6zM630 276h6v6h-6zM690 276h6v6h-6zM720 276h6v6h-6zM738 276h6v6h-6zM792 276h6v6h-6zM666 288h6v6h-6zM678 288h6v6h-6zM828 288h6v6h-6zM762 294h6v6h-6zM762 300h6v6h-6zM762 306h6v6h-6zM720 312h6v6h-6zM792 318h6v6h-6zM708 330h6v6h-6zM738 330h6v6h-6zM744 336h6v6h-6zM780 342h6v6h-6zM780 348h6v6h-6zM786 348h6v6h-6zM960 348h6v6h-6zM1068 354h6v6h-6zM618 384h6v6h-6zM636 384h6v6h-6zM612 390h6v6h-6zM606 396h6v6h-6zM612 396h6v6h-6zM642 396h6v6h-6zM942 396h6v6h-6zM600 402h6v6h-6zM606 402h6v6h-6zM648 414h6v6h-6zM732 414h6v6h-6zM636 420h6v6h-6zM642 420h6v6h-6zM954 420h6v6h-6zM624 438h6v6h-6zM966 450h6v6h-6zM978 450h6v6h-6zM1002 450h6v6h-6zM978 456h6v6h-6zM996 456h6v6h-6zM984 468h6v6h-6zM876 486h6v6h-6zM900 486h6v6h-6zM912 486h6v6h-6zM936 486h6v6h-6zM756 492h6v6h-6zM762 492h6v6h-6zM792 492h6v6h-6zM888 492h6v6h-6zM906 492h6v6h-6zM744 498h6v6h-6zM780 504h6v6h-6z"/><path fill="#ff6f00" d="M666 144h6v6h-6zM672 144h6v6h-6zM648 150h6v6h-6zM648 156h6v6h-6zM708 162h6v6h-6zM642 174h6v6h-6zM666 180h6v6h-6zM720 180h6v6h-6zM726 180h6v6h-6zM720 186h6v6h-6zM714 192h6v6h-6zM714 198h6v6h-6zM732 198h6v6h-6zM684 204h6v6h-6zM714 204h6v6h-6zM726 210h6v6h-6zM642 216h6v6h-6zM678 216h6v6h-6zM642 222h6v6h-6zM696 222h6v6h-6zM714 222h6v6h-6zM642 228h6v6h-6zM678 228h6v6h-6zM684 234h6v6h-6zM648 240h6v6h-6zM684 240h6v6h-6zM702 240h6v6h-6zM750 240h6v6h-6zM756 240h6v6h-6zM642 246h6v6h-6zM738 246h6v6h-6zM768 252h6v6h-6zM852 252h6v6h-6zM750 258h6v6h-6zM684 264h6v6h-6zM768 264h6v6h-6zM822 264h6v6h-6zM744 270h6v6h-6zM750 270h6v6h-6zM756 270h6v6h-6zM774 270h6v6h-6zM780 270h6v6h-6zM786 270h6v6h-6zM732 276h6v6h-6zM744 276h6v6h-6zM774 276h6v6h-6zM780 276h6v6h-6zM786 276h6v6h-6zM834 276h6v6h-6zM744 282h6v6h-6zM672 288h6v6h-6zM666 294h6v6h-6zM672 294h6v6h-6zM678 294h6v6h-6zM744 294h6v6h-6zM750 294h6v6h-6zM804 306h6v6h-6zM786 312h6v6h-6zM798 312h6v6h-6zM702 318h6v6h-6zM714 324h6v6h-6zM744 330h6v6h-6zM756 330h6v6h-6zM756 336h6v6h-6zM786 342h6v6h-6zM1062 354h6v6h-6zM1074 354h6v6h-6zM954 360h6v6h-6zM1068 360h6v6h-6zM1074 360h6v6h-6zM606 384h6v6h-6zM606 390h6v6h-6zM618 390h6v6h-6zM948 396h6v6h-6zM648 408h6v6h-6zM624 420h6v6h-6zM630 420h6v6h-6zM990 438h6v6h-6zM996 438h6v6h-6zM618 444h6v6h-6zM636 444h6v6h-6zM972 444h6v6h-6zM984 444h6v6h-6zM1002 444h6v6h-6zM972 450h6v6h-6zM942 456h6v6h-6zM936 462h6v6h-6zM990 462h6v6h-6zM684 468h6v6h-6zM858 468h6v6h-6zM852 474h6v6h-6zM858 474h6v6h-6zM936 474h6v6h-6zM978 474h6v6h-6zM780 480h6v6h-6zM852 480h6v6h-6zM942 480h6v6h-6zM972 480h6v6h-6zM978 480h6v6h-6zM882 486h6v6h-6zM942 486h6v6h-6zM930 498h6v6h-6zM744 504h6v6h-6zM774 510h6v6h-6z"/><path fill="#ff6c00" d="M654 144h6v6h-6zM660 144h6v6h-6zM666 150h6v6h-6zM672 150h6v6h-6zM690 156h6v6h-6zM708 156h6v6h-6zM690 168h6v6h-6zM708 168h6v6h-6zM660 174h6v6h-6zM666 174h6v6h-6zM720 174h6v6h-6zM660 180h6v6h-6zM642 186h6v6h-6zM708 186h6v6h-6zM714 186h6v6h-6zM732 186h6v6h-6zM654 192h6v6h-6zM732 192h6v6h-6zM678 198h6v6h-6zM732 204h6v6h-6zM684 210h6v6h-6zM714 210h6v6h-6zM714 216h6v6h-6zM678 222h6v6h-6zM690 222h6v6h-6zM726 222h6v6h-6zM756 222h6v6h-6zM648 228h6v6h-6zM654 228h6v6h-6zM684 228h6v6h-6zM708 228h6v6h-6zM714 228h6v6h-6zM642 234h6v6h-6zM720 234h6v6h-6zM732 234h6v6h-6zM744 234h6v6h-6zM642 240h6v6h-6zM762 240h6v6h-6zM684 246h6v6h-6zM690 246h6v6h-6zM696 246h6v6h-6zM768 246h6v6h-6zM774 246h6v6h-6zM684 252h6v6h-6zM744 252h6v6h-6zM762 252h6v6h-6zM774 252h6v6h-6zM834 252h6v6h-6zM840 252h6v6h-6zM846 252h6v6h-6zM684 258h6v6h-6zM726 258h6v6h-6zM708 270h6v6h-6zM732 270h6v6h-6zM762 270h6v6h-6zM768 270h6v6h-6zM792 270h6v6h-6zM822 270h6v6h-6zM828 270h6v6h-6zM726 276h6v6h-6zM750 276h6v6h-6zM756 276h6v6h-6zM762 276h6v6h-6zM768 276h6v6h-6zM762 282h6v6h-6zM828 282h6v6h-6zM744 288h6v6h-6zM756 288h6v6h-6zM762 288h6v6h-6zM768 306h6v6h-6zM708 312h6v6h-6zM714 312h6v6h-6zM708 324h6v6h-6zM750 330h6v6h-6zM750 336h6v6h-6zM1080 354h6v6h-6zM1062 360h6v6h-6zM1074 372h6v6h-6zM618 396h6v6h-6zM954 396h6v6h-6zM612 402h6v6h-6zM606 408h6v6h-6zM642 414h6v6h-6zM972 414h6v6h-6zM972 420h6v6h-6zM618 426h6v6h-6zM972 426h6v6h-6zM618 432h6v6h-6zM972 432h6v6h-6zM618 438h6v6h-6zM972 438h6v6h-6zM624 444h6v6h-6zM630 444h6v6h-6zM978 444h6v6h-6zM624 450h6v6h-6zM1008 450h6v6h-6zM1020 450h6v6h-6zM636 456h6v6h-6zM972 456h6v6h-6zM1002 456h6v6h-6zM1020 456h6v6h-6zM972 462h6v6h-6zM1020 462h6v6h-6zM678 468h6v6h-6zM972 468h6v6h-6zM972 474h6v6h-6zM984 474h6v6h-6zM948 480h6v6h-6zM954 480h6v6h-6zM960 480h6v6h-6zM966 480h6v6h-6zM906 486h6v6h-6zM948 486h6v6h-6zM978 486h6v6h-6zM882 492h6v6h-6zM936 492h6v6h-6zM786 498h6v6h-6zM744 510h6v6h-6z"/><path fill="#ff6a00" d="M654 138h6v6h-6zM678 144h6v6h-6zM654 150h6v6h-6zM660 150h6v6h-6zM678 150h6v6h-6zM654 168h6v6h-6zM648 174h6v6h-6zM654 174h6v6h-6zM702 174h6v6h-6zM708 174h6v6h-6zM642 180h6v6h-6zM672 180h6v6h-6zM702 180h6v6h-6zM708 180h6v6h-6zM714 180h6v6h-6zM666 186h6v6h-6zM702 186h6v6h-6zM708 192h6v6h-6zM666 198h6v6h-6zM672 198h6v6h-6zM684 198h6v6h-6zM684 216h6v6h-6zM726 216h6v6h-6zM702 222h6v6h-6zM750 222h6v6h-6zM762 222h6v6h-6zM744 228h6v6h-6zM648 234h6v6h-6zM708 234h6v6h-6zM768 234h6v6h-6zM720 240h6v6h-6zM738 240h6v6h-6zM768 240h6v6h-6zM774 240h6v6h-6zM702 246h6v6h-6zM720 246h6v6h-6zM762 246h6v6h-6zM864 246h6v6h-6zM720 252h6v6h-6zM756 252h6v6h-6zM774 258h6v6h-6zM714 264h6v6h-6zM726 264h6v6h-6zM774 264h6v6h-6zM720 270h6v6h-6zM696 276h6v6h-6zM702 276h6v6h-6zM798 276h6v6h-6zM828 276h6v6h-6zM750 282h6v6h-6zM756 282h6v6h-6zM768 282h6v6h-6zM792 282h6v6h-6zM750 288h6v6h-6zM822 288h6v6h-6zM816 294h6v6h-6zM810 300h6v6h-6zM774 306h6v6h-6zM792 312h6v6h-6zM714 318h6v6h-6zM972 342h6v6h-6zM1050 342h6v6h-6zM966 348h6v6h-6zM1056 348h6v6h-6zM1080 348h6v6h-6zM1056 354h6v6h-6zM1068 366h6v6h-6zM1074 366h6v6h-6zM936 384h6v6h-6zM636 390h6v6h-6zM642 402h6v6h-6zM966 402h6v6h-6zM600 408h6v6h-6zM636 414h6v6h-6zM618 420h6v6h-6zM612 438h6v6h-6zM984 438h6v6h-6zM1008 444h6v6h-6zM636 450h6v6h-6zM1014 450h6v6h-6zM630 456h6v6h-6zM1014 456h6v6h-6zM1026 456h6v6h-6zM1026 462h6v6h-6zM936 468h6v6h-6zM990 468h6v6h-6zM1020 468h6v6h-6zM942 474h6v6h-6zM984 480h6v6h-6zM786 486h6v6h-6zM954 486h6v6h-6zM972 486h6v6h-6zM768 492h6v6h-6zM942 492h6v6h-6zM774 504h6v6h-6zM924 504h6v6h-6z"/><path fill="#ff6700" d="M702 150h6v6h-6zM654 156h6v6h-6zM684 156h6v6h-6zM654 162h6v6h-6zM684 162h6v6h-6zM714 162h6v6h-6zM660 168h6v6h-6zM714 168h6v6h-6zM672 174h6v6h-6zM696 174h6v6h-6zM714 174h6v6h-6zM732 180h6v6h-6zM660 186h6v6h-6zM660 192h6v6h-6zM690 210h6v6h-6zM690 216h6v6h-6zM684 222h6v6h-6zM708 222h6v6h-6zM732 228h6v6h-6zM768 228h6v6h-6zM714 234h6v6h-6zM738 234h6v6h-6zM708 240h6v6h-6zM744 240h6v6h-6zM864 240h6v6h-6zM756 246h6v6h-6zM780 246h6v6h-6zM750 252h6v6h-6zM714 258h6v6h-6zM720 258h6v6h-6zM720 264h6v6h-6zM780 264h6v6h-6zM690 270h6v6h-6zM726 270h6v6h-6zM816 270h6v6h-6zM822 276h6v6h-6zM774 282h6v6h-6zM798 282h6v6h-6zM822 282h6v6h-6zM768 288h6v6h-6zM768 300h6v6h-6zM780 306h6v6h-6zM798 306h6v6h-6zM708 318h6v6h-6zM1062 348h6v6h-6zM1074 348h6v6h-6zM1086 348h6v6h-6zM960 354h6v6h-6zM1086 354h6v6h-6zM1056 360h6v6h-6zM1080 360h6v6h-6zM942 366h6v6h-6zM1062 366h6v6h-6zM936 372h6v6h-6zM1068 372h6v6h-6zM1080 372h6v6h-6zM1074 378h6v6h-6zM1080 378h6v6h-6zM624 384h6v6h-6zM630 384h6v6h-6zM624 390h6v6h-6zM942 390h6v6h-6zM624 396h6v6h-6zM636 396h6v6h-6zM960 396h6v6h-6zM594 408h6v6h-6zM612 408h6v6h-6zM642 408h6v6h-6zM972 408h6v6h-6zM606 414h6v6h-6zM612 414h6v6h-6zM594 420h6v6h-6zM612 420h6v6h-6zM612 426h6v6h-6zM612 432h6v6h-6zM978 438h6v6h-6zM1002 438h6v6h-6zM1014 444h6v6h-6zM630 450h6v6h-6zM948 456h6v6h-6zM954 456h6v6h-6zM960 456h6v6h-6zM966 456h6v6h-6zM1008 456h6v6h-6zM996 462h6v6h-6zM1014 462h6v6h-6zM1014 468h6v6h-6zM948 474h6v6h-6zM954 474h6v6h-6zM960 474h6v6h-6zM966 474h6v6h-6zM774 486h6v6h-6zM960 486h6v6h-6zM966 486h6v6h-6zM786 492h6v6h-6zM948 492h6v6h-6zM750 498h6v6h-6zM936 498h6v6h-6z"/><path fill="#ff6400" d="M660 138h6v6h-6zM666 138h6v6h-6zM684 150h6v6h-6zM696 150h6v6h-6zM672 156h6v6h-6zM678 156h6v6h-6zM684 168h6v6h-6zM654 180h6v6h-6zM648 186h6v6h-6zM654 186h6v6h-6zM672 186h6v6h-6zM696 186h6v6h-6zM666 192h6v6h-6zM702 192h6v6h-6zM708 198h6v6h-6zM690 204h6v6h-6zM732 210h6v6h-6zM696 216h6v6h-6zM738 228h6v6h-6zM774 234h6v6h-6zM714 240h6v6h-6zM780 240h6v6h-6zM708 246h6v6h-6zM714 246h6v6h-6zM744 246h6v6h-6zM750 246h6v6h-6zM840 246h6v6h-6zM858 246h6v6h-6zM690 252h6v6h-6zM708 252h6v6h-6zM714 252h6v6h-6zM780 252h6v6h-6zM708 258h6v6h-6zM690 264h6v6h-6zM708 264h6v6h-6zM786 264h6v6h-6zM798 270h6v6h-6zM816 276h6v6h-6zM780 282h6v6h-6zM786 282h6v6h-6zM768 294h6v6h-6zM798 300h6v6h-6zM804 300h6v6h-6zM786 306h6v6h-6zM792 306h6v6h-6zM1056 342h6v6h-6zM972 348h6v6h-6zM1050 348h6v6h-6zM1068 348h6v6h-6zM960 360h6v6h-6zM948 366h6v6h-6zM954 366h6v6h-6zM1056 366h6v6h-6zM1080 366h6v6h-6zM1050 372h6v6h-6zM1056 372h6v6h-6zM1062 372h6v6h-6zM936 378h6v6h-6zM630 390h6v6h-6zM630 396h6v6h-6zM618 402h6v6h-6zM594 414h6v6h-6zM630 414h6v6h-6zM978 414h6v6h-6zM1086 414h6v6h-6zM606 420h6v6h-6zM1056 420h6v6h-6zM1086 420h6v6h-6zM600 426h6v6h-6zM606 426h6v6h-6zM1086 426h6v6h-6zM606 432h6v6h-6zM990 432h6v6h-6zM996 432h6v6h-6zM1020 444h6v6h-6zM1026 450h6v6h-6zM942 462h6v6h-6zM966 462h6v6h-6zM1002 462h6v6h-6zM1008 462h6v6h-6zM966 468h6v6h-6zM990 474h6v6h-6zM1014 474h6v6h-6zM984 486h6v6h-6zM954 492h6v6h-6zM768 498h6v6h-6zM780 498h6v6h-6zM942 498h6v6h-6zM930 504h6v6h-6z"/><path fill="#ff6100" d="M654 132h6v6h-6zM672 138h6v6h-6zM684 144h6v6h-6zM690 150h6v6h-6zM660 156h6v6h-6zM666 156h6v6h-6zM660 162h6v6h-6zM678 162h6v6h-6zM666 168h6v6h-6zM690 174h6v6h-6zM648 180h6v6h-6zM696 180h6v6h-6zM672 192h6v6h-6zM678 192h6v6h-6zM684 192h6v6h-6zM696 192h6v6h-6zM690 198h6v6h-6zM738 198h6v6h-6zM708 204h6v6h-6zM738 204h6v6h-6zM708 216h6v6h-6zM732 222h6v6h-6zM744 222h6v6h-6zM768 222h6v6h-6zM786 246h6v6h-6zM852 246h6v6h-6zM696 252h6v6h-6zM702 252h6v6h-6zM690 258h6v6h-6zM780 258h6v6h-6zM792 264h6v6h-6zM702 270h6v6h-6zM792 288h6v6h-6zM798 288h6v6h-6zM792 294h6v6h-6zM798 294h6v6h-6zM792 300h6v6h-6zM960 366h6v6h-6zM1050 366h6v6h-6zM1044 372h6v6h-6zM1032 378h6v6h-6zM1038 378h6v6h-6zM1044 378h6v6h-6zM1050 378h6v6h-6zM1056 378h6v6h-6zM1068 378h6v6h-6zM1086 378h6v6h-6zM624 402h6v6h-6zM630 402h6v6h-6zM636 402h6v6h-6zM636 408h6v6h-6zM978 408h6v6h-6zM600 414h6v6h-6zM618 414h6v6h-6zM624 414h6v6h-6zM1056 414h6v6h-6zM1080 414h6v6h-6zM600 420h6v6h-6zM978 420h6v6h-6zM1062 420h6v6h-6zM1080 420h6v6h-6zM1080 426h6v6h-6zM978 432h6v6h-6zM984 432h6v6h-6zM1008 438h6v6h-6zM1014 438h6v6h-6zM960 462h6v6h-6zM942 468h6v6h-6zM948 468h6v6h-6zM954 468h6v6h-6zM960 468h6v6h-6zM996 468h6v6h-6zM1008 468h6v6h-6zM1026 468h6v6h-6zM1008 474h6v6h-6zM1020 474h6v6h-6zM960 492h6v6h-6zM966 492h6v6h-6zM756 498h6v6h-6zM762 498h6v6h-6zM774 498h6v6h-6zM948 498h6v6h-6zM954 498h6v6h-6zM960 498h6v6h-6zM768 504h6v6h-6zM768 510h6v6h-6z"/><path fill="#ff5e00" d="M678 138h6v6h-6zM666 162h6v6h-6zM672 162h6v6h-6zM672 168h6v6h-6zM678 168h6v6h-6zM678 174h6v6h-6zM678 180h6v6h-6zM678 186h6v6h-6zM690 186h6v6h-6zM738 186h6v6h-6zM690 192h6v6h-6zM738 192h6v6h-6zM696 210h6v6h-6zM708 210h6v6h-6zM774 210h6v6h-6zM702 216h6v6h-6zM732 216h6v6h-6zM756 216h6v6h-6zM774 228h6v6h-6zM780 234h6v6h-6zM858 240h6v6h-6zM786 252h6v6h-6zM702 258h6v6h-6zM696 270h6v6h-6zM804 282h6v6h-6zM774 288h6v6h-6zM804 294h6v6h-6zM810 294h6v6h-6zM966 354h6v6h-6zM1050 354h6v6h-6zM1050 360h6v6h-6zM1086 360h6v6h-6zM1038 372h6v6h-6zM966 378h6v6h-6zM1062 378h6v6h-6zM966 384h6v6h-6zM978 384h6v6h-6zM1032 384h6v6h-6zM948 390h6v6h-6zM954 390h6v6h-6zM960 390h6v6h-6zM966 396h6v6h-6zM618 408h6v6h-6zM630 408h6v6h-6zM1056 408h6v6h-6zM1080 408h6v6h-6zM1086 408h6v6h-6zM984 414h6v6h-6zM1062 414h6v6h-6zM978 426h6v6h-6zM1020 426h6v6h-6zM1056 426h6v6h-6zM1062 426h6v6h-6zM1002 432h6v6h-6zM1020 438h6v6h-6zM1026 444h6v6h-6zM1032 456h6v6h-6zM948 462h6v6h-6zM954 462h6v6h-6zM1002 468h6v6h-6zM996 474h6v6h-6zM1002 474h6v6h-6zM990 480h6v6h-6zM1002 480h6v6h-6zM1008 480h6v6h-6zM780 486h6v6h-6zM774 492h6v6h-6zM972 492h6v6h-6zM978 492h6v6h-6zM966 498h6v6h-6zM750 504h6v6h-6zM936 504h6v6h-6z"/><path fill="#ff5c00" d="M684 138h6v6h-6zM684 174h6v6h-6zM690 180h6v6h-6zM684 186h6v6h-6zM696 198h6v6h-6zM702 198h6v6h-6zM696 204h6v6h-6zM738 210h6v6h-6zM750 216h6v6h-6zM762 216h6v6h-6zM774 216h6v6h-6zM780 216h6v6h-6zM738 222h6v6h-6zM774 222h6v6h-6zM786 240h6v6h-6zM792 246h6v6h-6zM792 252h6v6h-6zM696 258h6v6h-6zM786 258h6v6h-6zM702 264h6v6h-6zM804 288h6v6h-6zM774 300h6v6h-6zM786 300h6v6h-6zM978 336h6v6h-6zM978 342h6v6h-6zM1080 342h6v6h-6zM1086 342h6v6h-6zM966 360h6v6h-6zM966 366h6v6h-6zM960 372h6v6h-6zM966 372h6v6h-6zM1032 372h6v6h-6zM1086 372h6v6h-6zM972 378h6v6h-6zM978 378h6v6h-6zM960 384h6v6h-6zM972 384h6v6h-6zM984 384h6v6h-6zM1026 384h6v6h-6zM1038 384h6v6h-6zM1044 384h6v6h-6zM1050 384h6v6h-6zM1056 384h6v6h-6zM1074 384h6v6h-6zM1080 384h6v6h-6zM1086 384h6v6h-6zM966 390h6v6h-6zM978 390h6v6h-6zM984 390h6v6h-6zM972 402h6v6h-6zM1068 402h6v6h-6zM1074 402h6v6h-6zM1080 402h6v6h-6zM624 408h6v6h-6zM984 408h6v6h-6zM1062 408h6v6h-6zM1074 408h6v6h-6zM1050 414h6v6h-6zM1020 420h6v6h-6zM1026 420h6v6h-6zM1050 420h6v6h-6zM1074 420h6v6h-6zM990 426h6v6h-6zM996 426h6v6h-6zM1026 426h6v6h-6zM1050 426h6v6h-6zM1068 426h6v6h-6zM1074 426h6v6h-6zM1014 432h6v6h-6zM1020 432h6v6h-6zM1026 432h6v6h-6zM1032 432h6v6h-6zM1038 432h6v6h-6zM1026 438h6v6h-6zM1032 450h6v6h-6zM1032 462h6v6h-6zM996 480h6v6h-6zM1014 480h6v6h-6zM780 492h6v6h-6zM942 504h6v6h-6zM948 504h6v6h-6zM954 504h6v6h-6zM960 504h6v6h-6zM750 510h6v6h-6z"/><path fill="#ff5900" d="M690 138h6v6h-6zM690 144h6v6h-6zM684 180h6v6h-6zM702 204h6v6h-6zM768 204h6v6h-6zM702 210h6v6h-6zM738 216h6v6h-6zM744 216h6v6h-6zM768 216h6v6h-6zM780 222h6v6h-6zM780 228h6v6h-6zM786 234h6v6h-6zM798 246h6v6h-6zM792 258h6v6h-6zM696 264h6v6h-6zM780 288h6v6h-6zM786 288h6v6h-6zM810 288h6v6h-6zM774 294h6v6h-6zM786 294h6v6h-6zM780 300h6v6h-6zM996 336h6v6h-6zM1074 342h6v6h-6zM1044 348h6v6h-6zM972 354h6v6h-6zM1026 366h6v6h-6zM1044 366h6v6h-6zM1086 366h6v6h-6zM972 372h6v6h-6zM1026 372h6v6h-6zM960 378h6v6h-6zM984 378h6v6h-6zM1026 378h6v6h-6zM942 384h6v6h-6zM1068 384h6v6h-6zM972 390h6v6h-6zM1020 390h6v6h-6zM1026 390h6v6h-6zM978 396h6v6h-6zM1068 396h6v6h-6zM1074 396h6v6h-6zM978 402h6v6h-6zM1056 402h6v6h-6zM1062 402h6v6h-6zM1086 402h6v6h-6zM1050 408h6v6h-6zM1068 408h6v6h-6zM990 414h6v6h-6zM1068 414h6v6h-6zM1074 414h6v6h-6zM984 420h6v6h-6zM990 420h6v6h-6zM1068 420h6v6h-6zM984 426h6v6h-6zM1014 426h6v6h-6zM1032 426h6v6h-6zM1038 426h6v6h-6zM1044 426h6v6h-6zM1008 432h6v6h-6zM1044 432h6v6h-6zM1056 432h6v6h-6zM1062 432h6v6h-6zM1080 432h6v6h-6zM1032 438h6v6h-6zM1038 438h6v6h-6zM1032 444h6v6h-6zM1002 486h6v6h-6zM1008 486h6v6h-6zM984 492h6v6h-6zM972 498h6v6h-6zM762 504h6v6h-6zM966 504h6v6h-6z"/><path fill="#ff5600" d="M660 132h6v6h-6zM696 144h6v6h-6zM744 186h6v6h-6zM744 204h6v6h-6zM744 210h6v6h-6zM750 210h6v6h-6zM768 210h6v6h-6zM792 228h6v6h-6zM792 234h6v6h-6zM798 234h6v6h-6zM792 240h6v6h-6zM990 336h6v6h-6zM1056 336h6v6h-6zM1080 336h6v6h-6zM996 342h6v6h-6zM1062 342h6v6h-6zM978 348h6v6h-6zM972 360h6v6h-6zM1026 360h6v6h-6zM972 366h6v6h-6zM978 372h6v6h-6zM984 372h6v6h-6zM1062 384h6v6h-6zM1032 390h6v6h-6zM1050 390h6v6h-6zM1056 390h6v6h-6zM1068 390h6v6h-6zM1074 390h6v6h-6zM1080 390h6v6h-6zM1086 390h6v6h-6zM972 396h6v6h-6zM984 396h6v6h-6zM1020 396h6v6h-6zM1080 396h6v6h-6zM1086 396h6v6h-6zM984 402h6v6h-6zM1050 402h6v6h-6zM990 408h6v6h-6zM1020 414h6v6h-6zM1026 414h6v6h-6zM1014 420h6v6h-6zM1032 420h6v6h-6zM1044 420h6v6h-6zM1002 426h6v6h-6zM1008 426h6v6h-6zM1050 432h6v6h-6zM1068 432h6v6h-6zM1074 432h6v6h-6zM1086 432h6v6h-6zM1044 438h6v6h-6zM1038 444h6v6h-6zM1026 474h6v6h-6zM1020 480h6v6h-6zM990 486h6v6h-6zM1014 486h6v6h-6zM756 504h6v6h-6zM762 510h6v6h-6zM960 510h6v6h-6z"/><path fill="#ff5300" d="M666 132h6v6h-6zM672 132h6v6h-6zM678 132h6v6h-6zM744 192h6v6h-6zM756 192h6v6h-6zM744 198h6v6h-6zM756 198h6v6h-6zM762 198h6v6h-6zM750 204h6v6h-6zM756 210h6v6h-6zM762 210h6v6h-6zM786 222h6v6h-6zM786 228h6v6h-6zM798 240h6v6h-6zM780 294h6v6h-6zM984 336h6v6h-6zM990 342h6v6h-6zM1068 342h6v6h-6zM1020 360h6v6h-6zM978 366h6v6h-6zM1020 366h6v6h-6zM1032 366h6v6h-6zM942 372h6v6h-6zM954 372h6v6h-6zM954 384h6v6h-6zM1020 384h6v6h-6zM1038 390h6v6h-6zM1044 390h6v6h-6zM1062 390h6v6h-6zM1014 396h6v6h-6zM1026 396h6v6h-6zM1050 396h6v6h-6zM1056 396h6v6h-6zM1062 396h6v6h-6zM1044 408h6v6h-6zM996 414h6v6h-6zM1044 414h6v6h-6zM996 420h6v6h-6zM1038 420h6v6h-6zM1038 450h6v6h-6zM1038 456h6v6h-6zM1032 468h6v6h-6zM996 486h6v6h-6zM978 498h6v6h-6zM942 510h6v6h-6zM948 510h6v6h-6zM954 510h6v6h-6z"/><path fill="#ff5000" d="M750 192h6v6h-6zM750 198h6v6h-6zM756 204h6v6h-6zM762 204h6v6h-6zM1074 336h6v6h-6zM984 342h6v6h-6zM1038 348h6v6h-6zM978 354h6v6h-6zM1026 354h6v6h-6zM978 360h6v6h-6zM1044 360h6v6h-6zM984 366h6v6h-6zM1038 366h6v6h-6zM1020 372h6v6h-6zM948 384h6v6h-6zM990 384h6v6h-6zM990 390h6v6h-6zM1014 390h6v6h-6zM1044 396h6v6h-6zM1020 402h6v6h-6zM1044 402h6v6h-6zM1020 408h6v6h-6zM1026 408h6v6h-6zM1038 408h6v6h-6zM1014 414h6v6h-6zM1032 414h6v6h-6zM1038 414h6v6h-6zM1002 420h6v6h-6zM1008 420h6v6h-6zM1050 438h6v6h-6zM1056 438h6v6h-6zM1062 438h6v6h-6zM1044 444h6v6h-6zM1008 492h6v6h-6zM756 510h6v6h-6z"/><path fill="#ff4e00" d="M984 348h6v6h-6zM990 348h6v6h-6zM1020 354h6v6h-6zM1044 354h6v6h-6zM1032 360h6v6h-6zM948 372h6v6h-6zM990 372h6v6h-6zM942 378h6v6h-6zM990 378h6v6h-6zM1020 378h6v6h-6zM990 396h6v6h-6zM1032 396h6v6h-6zM990 402h6v6h-6zM1014 402h6v6h-6zM1026 402h6v6h-6zM1038 402h6v6h-6zM996 408h6v6h-6zM1014 408h6v6h-6zM1032 408h6v6h-6zM1068 438h6v6h-6zM1038 462h6v6h-6zM1020 486h6v6h-6zM1002 492h6v6h-6zM1014 492h6v6h-6z"/><path fill="#ff4b00" d="M1062 336h6v6h-6zM1002 342h6v6h-6zM996 348h6v6h-6zM1032 348h6v6h-6zM984 354h6v6h-6zM1032 354h6v6h-6zM984 360h6v6h-6zM1014 360h6v6h-6zM990 366h6v6h-6zM1014 366h6v6h-6zM954 378h6v6h-6zM1014 384h6v6h-6zM1038 396h6v6h-6zM1032 402h6v6h-6zM1002 414h6v6h-6zM1008 414h6v6h-6zM1050 444h6v6h-6zM1056 444h6v6h-6zM1062 444h6v6h-6zM1044 450h6v6h-6zM1026 480h6v6h-6zM990 492h6v6h-6z"/><path fill="#ff4800" d="M1068 336h6v6h-6zM1038 360h6v6h-6zM1002 408h6v6h-6zM1008 408h6v6h-6zM1074 438h6v6h-6zM1062 450h6v6h-6zM1044 456h6v6h-6zM1020 492h6v6h-6zM1008 498h6v6h-6zM1014 498h6v6h-6z"/><path fill="#ff4500" d="M990 354h6v6h-6zM1014 354h6v6h-6zM1038 354h6v6h-6zM990 360h6v6h-6zM1014 372h6v6h-6zM1014 378h6v6h-6zM1008 390h6v6h-6zM1008 396h6v6h-6zM996 402h6v6h-6zM1008 402h6v6h-6zM1080 438h6v6h-6zM1068 444h6v6h-6zM1050 450h6v6h-6zM1056 450h6v6h-6zM1068 450h6v6h-6zM1062 456h6v6h-6zM1068 456h6v6h-6zM1038 468h6v6h-6zM1032 474h6v6h-6zM996 492h6v6h-6zM1020 498h6v6h-6zM1014 504h6v6h-6zM1020 504h6v6h-6z"/><path fill="#ff4200" d="M1002 348h6v6h-6zM996 354h6v6h-6zM1008 360h6v6h-6zM1008 366h6v6h-6zM948 378h6v6h-6zM996 384h6v6h-6zM1008 384h6v6h-6zM996 390h6v6h-6zM1056 456h6v6h-6zM1044 462h6v6h-6zM1026 486h6v6h-6zM1002 498h6v6h-6zM1008 504h6v6h-6zM1026 504h6v6h-6z"/><path fill="#ff4000" d="M1008 354h6v6h-6zM996 360h6v6h-6zM996 366h6v6h-6zM996 372h6v6h-6zM1008 372h6v6h-6zM996 378h6v6h-6zM1008 378h6v6h-6zM996 396h6v6h-6zM1002 402h6v6h-6zM1074 444h6v6h-6zM1074 450h6v6h-6zM1050 456h6v6h-6zM1074 456h6v6h-6zM1062 462h6v6h-6zM1068 462h6v6h-6zM1068 474h6v6h-6zM1026 492h6v6h-6zM1026 498h6v6h-6z"/><path fill="#ff3c00" d="M1014 348h6v6h-6zM1002 354h6v6h-6zM1002 360h6v6h-6zM1002 366h6v6h-6zM1002 384h6v6h-6zM1002 390h6v6h-6zM1002 396h6v6h-6zM1056 462h6v6h-6zM1074 462h6v6h-6zM1044 468h6v6h-6zM1062 468h6v6h-6zM1068 468h6v6h-6zM1038 474h6v6h-6zM1062 474h6v6h-6zM1032 480h6v6h-6zM1062 480h6v6h-6zM1032 504h6v6h-6z"/><path fill="#ff3900" d="M1008 348h6v6h-6zM1002 372h6v6h-6zM1002 378h6v6h-6zM1050 462h6v6h-6zM1032 498h6v6h-6z"/><path fill="#ff3600" d="M1050 468h6v6h-6zM1056 468h6v6h-6zM1044 474h6v6h-6zM1038 480h6v6h-6zM1044 480h6v6h-6zM1032 486h6v6h-6zM1038 486h6v6h-6zM1044 486h6v6h-6zM1032 492h6v6h-6zM1038 492h6v6h-6zM1044 492h6v6h-6zM1038 498h6v6h-6zM1044 498h6v6h-6zM1038 504h6v6h-6z"/><path fill="#ff3300" d="M1056 474h6v6h-6z"/><path fill="#ff3000" d="M1050 474h6v6h-6zM1050 480h6v6h-6zM1056 480h6v6h-6zM1050 486h6v6h-6zM1050 492h6v6h-6z"/><path fill="#ff2c00" d="M1056 486h6v6h-6z"/></g></g><path d="M326.0,375.0L332.8,364.4L344.0,358.0L360.0,356.4L380.0,356.5L387.4,354.6L394.8,347.2L402.2,339.9L413.2,334.3L418.8,319.5L429.9,310.3L424.3,301.1L422.5,290.0L428.0,283.4L435.4,266.8L442.8,257.6L457.6,250.2L476.0,239.1L485.3,233.6L486.2,224.3L483.4,213.2L485.3,204.0L498.2,195.7L509.3,197.5L520.3,200.3L533.3,204.9L546.2,203.1L557.3,194.8L564.7,189.2L571.1,186.2L582.2,176.9L589.5,176.0L602.5,182.5L611.7,189.9L617.2,204.6L622.8,212.0L630.2,221.3L641.3,232.3L652.3,242.0L663.4,249.0L678.2,254.0L685.6,262.2L696.7,265.9L705.9,278.8L715.1,288.0L720.7,308.3L713.3,317.6L711.4,321.3L715.1,326.8L722.5,321.3L731.0,310.0L731.0,301.6L727.4,288.7L729.2,279.4L736.6,268.3L744.0,272.0L756.9,281.3L762.5,277.6L749.6,266.5L744.7,258.2L729.9,250.8L717.0,243.4L718.8,234.2L704.0,230.5L689.3,217.6L678.2,200.9L663.4,188.0L652.3,176.9L650.5,165.9L650.5,151.1L660.0,147.0L667.1,144.6L674.5,143.7L678.2,147.4L681.9,162.2L687.4,154.8L693.0,158.5L696.7,165.9L700.4,176.9L707.7,184.3L720.7,195.4L737.0,204.0L753.0,212.5L764.3,218.5L775.4,231.4L781.0,236.9L781.0,248.0L779.1,259.1L781.0,273.9L786.5,285.0L790.2,288.7L794.2,290.0L798.3,298.3L805.2,303.9L810.8,303.9L806.6,308.0L808.0,313.5L814.9,317.7L824.6,317.7L834.3,317.0L845.4,321.9L848.2,324.6L844.0,326.0L831.6,322.5L817.7,321.2L815.0,320.5L812.2,328.8L814.9,335.7L817.7,341.2L821.9,348.2L823.2,355.1L826.0,350.9L830.2,355.1L834.3,362.0L838.5,357.9L844.0,364.8L845.4,370.3L846.8,362.0L845.4,348.2L842.6,339.9L848.2,339.9L850.9,342.6L852.3,338.5L848.2,332.9L846.8,330.2L853.7,328.8L862.0,334.3L863.4,328.8L868.0,331.0L876.0,333.0L872.0,325.0L858.0,317.0L845.0,309.0L841.0,304.0L848.0,300.0L852.0,297.0L845.2,290.2L838.3,277.7L839.7,266.6L843.9,268.0L849.4,273.5L852.2,277.7L853.5,272.2L859.1,280.5L863.2,272.2L860.5,263.9L871.6,258.3L882.6,256.9L892.3,259.7L903.4,262.5L911.7,265.2L906.2,277.7L904.8,279.1L902.0,280.5L900.6,291.5L913.1,290.2L914.5,297.1L913.1,304.0L915.9,308.2L913.1,313.7L918.6,317.9L910.3,319.3L907.6,313.7L904.8,315.1L907.6,322.0L913.1,324.8L921.5,327.4L920.3,334.8L921.5,343.4L926.4,347.1L924.0,349.5L938.7,350.8L931.3,353.2L924.0,355.7L936.3,356.9L941.2,355.7L946.1,356.9L953.5,359.4L958.4,366.7L968.2,369.2L976.9,366.7L981.8,356.9L985.5,354.4L995.3,355.7L1000.0,356.9L1007.5,364.9L1024.1,373.3L1046.2,367.7L1060.1,358.0L1071.2,359.4L1079.5,353.9L1083.7,356.6L1080.9,364.9L1078.1,373.3L1079.5,389.9L1078.1,409.3L1074.0,428.7L1064.2,440.0L1058.7,462.1L1051.4,476.8L1044.0,486.0L1034.8,489.7L1020.1,490.6L1010.9,487.8L1005.4,481.4L992.5,479.6L979.6,481.4L966.7,489.7L955.7,496.1L946.5,493.4L933.6,489.7L915.2,483.2L896.8,478.6L883.9,479.6L878.4,470.4L864.6,468.3L848.0,460.9L838.7,453.5L822.1,448.0L809.2,451.7L796.3,459.1L790.7,473.8L792.6,492.3L785.2,505.2L774.1,509.8L764.9,505.2L753.8,496.0L735.4,488.6L713.2,483.1L707.7,473.8L704.0,460.9L691.1,455.4L680.0,451.7L670.8,449.0L648.6,445.3L633.9,439.7L622.8,430.5L615.4,425.0L611.7,415.7L620.9,408.3L628.3,395.4L626.5,386.2L619.1,375.1L620.9,364.0L626.5,351.1L615.4,356.6L611.7,347.4L604.3,344.6L584.0,351.1L571.1,352.9L560.0,347.4L542.5,350.0L524.0,358.3L513.0,353.7L494.5,353.7L476.0,358.3L459.4,361.1L439.1,365.7L424.3,378.6L407.7,386.0L391.1,395.3L380.0,395.3L372.8,390.0L360.0,394.0L344.0,393.2L332.8,385.2L329.0,377.0ZM904.0,279.0L911.0,270.0L915.0,267.8L926.1,256.7L940.9,254.9L951.0,253.0L953.0,247.0L957.0,248.0L956.0,256.7L968.6,261.4L955.6,266.0L952.0,270.6L926.1,270.6L915.0,273.4L907.0,281.0Z" fill="none" stroke="#555" stroke-width="0.75"/><clipPath id="cblk"><path d="M967.1,145.8L972.3,136.6L988.0,123.5L1001.0,122.2L1011.5,124.8L1006.3,131.4L1022.0,134.0L1037.6,136.6L1032.4,147.1L1024.6,154.9L1035.0,160.1L1037.6,173.2L1050.7,170.6L1071.6,160.1L1089.9,160.1L1103.0,165.4L1116.1,170.6L1129.2,178.4L1142.2,188.9L1155.3,199.3L1171.0,209.8L1181.4,220.3L1184.0,233.3L1178.8,246.4L1160.5,256.9L1129.2,255.6L1108.2,251.6L1089.9,246.4L1071.6,235.9L1050.7,232.0L1029.8,233.3L1008.9,241.2L990.6,251.6L969.7,251.6L954.0,249.0L940.9,235.9L930.5,222.9L935.7,204.6L946.1,194.1L948.8,173.2L954.0,162.7L964.4,160.1ZM1061.2,134.0L1071.6,123.5L1089.9,118.3L1108.2,115.7L1129.2,110.5L1139.6,110.5L1137.0,114.4L1118.7,120.9L1116.1,128.8L1124.0,134.0L1108.2,149.7L1095.2,154.9L1092.0,162.0L1087.0,162.0L1087.3,147.1L1071.6,152.3L1063.8,141.8Z"/></clipPath><g clip-path="url(#cblk)"><g filter="url(#bl)"><path fill="#f8f000" d="M1062 180h6v6h-6z"/><path fill="#f8ed00" d="M1074 168h6v6h-6zM1068 174h6v6h-6zM1056 198h6v6h-6zM1056 204h6v6h-6z"/><path fill="#f9eb00" d="M1068 168h6v6h-6zM1080 168h6v6h-6zM1062 174h6v6h-6zM1074 174h6v6h-6zM1056 180h6v6h-6zM1068 180h6v6h-6zM1056 186h6v6h-6zM1062 186h6v6h-6zM1050 204h6v6h-6z"/><path fill="#fae800" d="M1080 162h6v6h-6zM1056 192h6v6h-6zM1050 198h6v6h-6z"/><path fill="#fae600" d="M1074 162h6v6h-6zM1062 168h6v6h-6zM1074 180h6v6h-6zM1044 204h6v6h-6zM1062 204h6v6h-6z"/><path fill="#fbe400" d="M1068 162h6v6h-6zM1056 174h6v6h-6zM1080 174h6v6h-6zM1050 180h6v6h-6zM1068 186h6v6h-6zM1062 192h6v6h-6zM1062 198h6v6h-6z"/><path fill="#fce100" d="M1086 162h6v6h-6zM1086 168h6v6h-6zM1050 186h6v6h-6zM1050 192h6v6h-6zM1050 210h6v6h-6z"/><path fill="#fcdf00" d="M1062 162h6v6h-6zM1080 180h6v6h-6zM1044 198h6v6h-6zM1044 210h6v6h-6zM1056 210h6v6h-6zM1062 210h6v6h-6z"/><path fill="#fddc00" d="M1086 174h6v6h-6zM1074 186h6v6h-6z"/><path fill="#feda00" d="M1080 156h6v6h-6zM1086 156h6v6h-6zM1056 168h6v6h-6zM1050 174h6v6h-6zM1044 180h6v6h-6zM1080 186h6v6h-6zM1068 192h6v6h-6zM1038 198h6v6h-6zM1038 204h6v6h-6zM1068 204h6v6h-6zM1068 210h6v6h-6z"/><path fill="#ffd800" d="M1074 156h6v6h-6zM1056 162h6v6h-6zM1092 162h6v6h-6zM1092 168h6v6h-6zM1086 180h6v6h-6zM1044 186h6v6h-6zM1044 192h6v6h-6z"/><path fill="#ffd400" d="M1062 156h6v6h-6zM1068 156h6v6h-6zM1092 156h6v6h-6zM1086 186h6v6h-6zM1038 192h6v6h-6zM1068 198h6v6h-6zM1086 240h6v6h-6zM942 258h6v6h-6zM948 258h6v6h-6zM1122 258h6v6h-6zM1128 258h6v6h-6z"/><path fill="#ffd100" d="M1098 156h6v6h-6zM1044 174h6v6h-6zM1092 174h6v6h-6zM1038 180h6v6h-6zM1038 186h6v6h-6zM1032 192h6v6h-6zM1074 192h6v6h-6zM1032 198h6v6h-6zM1038 210h6v6h-6zM1074 210h6v6h-6zM1044 216h6v6h-6zM1068 216h6v6h-6zM1080 234h6v6h-6zM1086 234h6v6h-6zM1092 240h6v6h-6z"/><path fill="#ffce00" d="M1056 156h6v6h-6zM1098 162h6v6h-6zM1050 168h6v6h-6zM1098 168h6v6h-6zM1092 180h6v6h-6zM1032 186h6v6h-6zM1026 192h6v6h-6zM1080 192h6v6h-6zM1074 204h6v6h-6zM1080 210h6v6h-6zM1086 210h6v6h-6zM1050 216h6v6h-6zM1056 216h6v6h-6zM1062 216h6v6h-6zM1074 216h6v6h-6zM1074 228h6v6h-6zM1080 228h6v6h-6zM1086 228h6v6h-6zM1068 234h6v6h-6zM1074 234h6v6h-6zM1092 234h6v6h-6zM1080 240h6v6h-6zM1098 240h6v6h-6zM1086 246h6v6h-6zM1092 246h6v6h-6zM1098 246h6v6h-6zM936 252h6v6h-6zM942 252h6v6h-6zM972 252h6v6h-6zM972 258h6v6h-6zM1116 258h6v6h-6z"/><path fill="#ffcb00" d="M1092 150h6v6h-6zM1098 150h6v6h-6zM1104 156h6v6h-6zM1050 162h6v6h-6zM1038 174h6v6h-6zM1098 174h6v6h-6zM1086 192h6v6h-6zM1026 198h6v6h-6zM1032 204h6v6h-6zM1086 204h6v6h-6zM1092 204h6v6h-6zM1092 210h6v6h-6zM1038 216h6v6h-6zM1080 216h6v6h-6zM1086 216h6v6h-6zM1068 222h6v6h-6zM1074 222h6v6h-6zM1080 222h6v6h-6zM1068 228h6v6h-6zM1062 234h6v6h-6zM1074 240h6v6h-6zM930 246h6v6h-6zM1080 246h6v6h-6zM1092 252h6v6h-6zM954 258h6v6h-6zM966 258h6v6h-6zM1134 258h6v6h-6z"/><path fill="#ffc800" d="M1104 150h6v6h-6zM1104 162h6v6h-6zM1044 168h6v6h-6zM1032 180h6v6h-6zM1098 180h6v6h-6zM1026 186h6v6h-6zM1092 186h6v6h-6zM1020 198h6v6h-6zM1074 198h6v6h-6zM1080 204h6v6h-6zM1062 222h6v6h-6zM1086 222h6v6h-6zM1062 228h6v6h-6zM1098 234h6v6h-6zM1068 240h6v6h-6zM1104 240h6v6h-6zM936 246h6v6h-6zM1104 246h6v6h-6zM948 252h6v6h-6zM966 252h6v6h-6zM978 252h6v6h-6zM1086 252h6v6h-6zM1098 252h6v6h-6zM1122 252h6v6h-6zM978 258h6v6h-6zM1092 258h6v6h-6zM1098 258h6v6h-6zM1104 258h6v6h-6zM1110 258h6v6h-6zM1164 258h6v6h-6zM1170 258h6v6h-6z"/><path fill="#ffc400" d="M1086 150h6v6h-6zM1050 156h6v6h-6zM1038 168h6v6h-6zM1104 168h6v6h-6zM1032 174h6v6h-6zM1104 174h6v6h-6zM1020 192h6v6h-6zM1008 198h6v6h-6zM1014 198h6v6h-6zM1080 198h6v6h-6zM1086 198h6v6h-6zM1092 216h6v6h-6zM1038 222h6v6h-6zM1044 222h6v6h-6zM1092 228h6v6h-6zM1062 240h6v6h-6zM942 246h6v6h-6zM972 246h6v6h-6zM1074 246h6v6h-6zM1110 246h6v6h-6zM1080 252h6v6h-6zM1104 252h6v6h-6zM1110 252h6v6h-6zM1116 252h6v6h-6zM1128 252h6v6h-6zM960 258h6v6h-6zM1086 258h6v6h-6zM1158 258h6v6h-6zM1176 258h6v6h-6z"/><path fill="#ffc100" d="M1098 144h6v6h-6zM1056 150h6v6h-6zM1080 150h6v6h-6zM1044 162h6v6h-6zM1026 168h6v6h-6zM1032 168h6v6h-6zM1026 180h6v6h-6zM1020 186h6v6h-6zM1008 192h6v6h-6zM1014 192h6v6h-6zM1092 192h6v6h-6zM978 198h6v6h-6zM1092 198h6v6h-6zM978 204h6v6h-6zM1008 204h6v6h-6zM1014 204h6v6h-6zM1020 204h6v6h-6zM1026 204h6v6h-6zM1098 204h6v6h-6zM1098 210h6v6h-6zM1050 222h6v6h-6zM1056 222h6v6h-6zM1056 228h6v6h-6zM1056 234h6v6h-6zM930 240h6v6h-6zM936 240h6v6h-6zM1110 240h6v6h-6zM978 246h6v6h-6zM954 252h6v6h-6zM1164 252h6v6h-6zM984 258h6v6h-6zM1182 258h6v6h-6z"/><path fill="#ffbe00" d="M1092 144h6v6h-6zM1104 144h6v6h-6zM1062 150h6v6h-6zM1074 150h6v6h-6zM1110 150h6v6h-6zM1044 156h6v6h-6zM1110 156h6v6h-6zM1026 162h6v6h-6zM1032 162h6v6h-6zM1038 162h6v6h-6zM1026 174h6v6h-6zM1020 180h6v6h-6zM1104 180h6v6h-6zM1008 186h6v6h-6zM1014 186h6v6h-6zM1098 186h6v6h-6zM1002 192h6v6h-6zM1002 198h6v6h-6zM1008 210h6v6h-6zM1032 210h6v6h-6zM1032 222h6v6h-6zM1092 222h6v6h-6zM1032 228h6v6h-6zM1038 228h6v6h-6zM1104 234h6v6h-6zM924 240h6v6h-6zM942 240h6v6h-6zM948 246h6v6h-6zM966 246h6v6h-6zM1068 246h6v6h-6zM1116 246h6v6h-6zM960 252h6v6h-6zM984 252h6v6h-6zM1158 252h6v6h-6zM1170 252h6v6h-6zM1182 252h6v6h-6zM1188 252h6v6h-6zM1140 258h6v6h-6z"/><path fill="#ffbb00" d="M1098 138h6v6h-6zM1050 150h6v6h-6zM1068 150h6v6h-6zM1038 156h6v6h-6zM1110 162h6v6h-6zM1020 168h6v6h-6zM1014 174h6v6h-6zM1020 174h6v6h-6zM1008 180h6v6h-6zM1014 180h6v6h-6zM1002 186h6v6h-6zM984 198h6v6h-6zM972 204h6v6h-6zM1002 204h6v6h-6zM1014 210h6v6h-6zM1032 216h6v6h-6zM1044 228h6v6h-6zM1050 228h6v6h-6zM1098 228h6v6h-6zM936 234h6v6h-6zM1110 234h6v6h-6zM1116 240h6v6h-6zM1122 246h6v6h-6zM1074 252h6v6h-6zM1134 252h6v6h-6zM1176 252h6v6h-6zM1152 258h6v6h-6z"/><path fill="#ffb800" d="M1098 132h6v6h-6zM1092 138h6v6h-6zM1086 144h6v6h-6zM1044 150h6v6h-6zM1032 156h6v6h-6zM1116 156h6v6h-6zM1020 162h6v6h-6zM1110 168h6v6h-6zM1110 174h6v6h-6zM978 192h6v6h-6zM984 192h6v6h-6zM996 192h6v6h-6zM972 198h6v6h-6zM996 198h6v6h-6zM984 204h6v6h-6zM972 210h6v6h-6zM978 210h6v6h-6zM1002 210h6v6h-6zM1020 210h6v6h-6zM1002 216h6v6h-6zM1098 216h6v6h-6zM930 234h6v6h-6zM942 234h6v6h-6zM948 234h6v6h-6zM1050 234h6v6h-6zM948 240h6v6h-6zM972 240h6v6h-6zM1056 240h6v6h-6zM954 246h6v6h-6zM960 246h6v6h-6zM984 246h6v6h-6zM1062 246h6v6h-6zM1164 246h6v6h-6zM1182 246h6v6h-6zM1188 246h6v6h-6zM1152 252h6v6h-6zM990 258h6v6h-6zM1080 258h6v6h-6zM1146 258h6v6h-6z"/><path fill="#ffb400" d="M1098 126h6v6h-6zM1092 132h6v6h-6zM1104 138h6v6h-6zM1110 144h6v6h-6zM1038 150h6v6h-6zM1116 150h6v6h-6zM1026 156h6v6h-6zM1014 168h6v6h-6zM1008 174h6v6h-6zM1002 180h6v6h-6zM996 186h6v6h-6zM1098 192h6v6h-6zM990 198h6v6h-6zM1098 198h6v6h-6zM1026 210h6v6h-6zM1008 216h6v6h-6zM1098 222h6v6h-6zM924 234h6v6h-6zM1038 234h6v6h-6zM1044 234h6v6h-6zM1116 234h6v6h-6zM978 240h6v6h-6zM1170 246h6v6h-6zM1176 246h6v6h-6zM990 252h6v6h-6zM1008 258h6v6h-6z"/><path fill="#ffb100" d="M1092 126h6v6h-6zM1104 126h6v6h-6zM1116 126h6v6h-6zM1080 132h6v6h-6zM1086 132h6v6h-6zM1104 132h6v6h-6zM1080 138h6v6h-6zM1086 138h6v6h-6zM1080 144h6v6h-6zM1032 150h6v6h-6zM1122 150h6v6h-6zM1116 162h6v6h-6zM1116 168h6v6h-6zM1002 174h6v6h-6zM1104 186h6v6h-6zM990 192h6v6h-6zM990 204h6v6h-6zM996 204h6v6h-6zM996 210h6v6h-6zM1104 210h6v6h-6zM1014 216h6v6h-6zM1026 216h6v6h-6zM1026 222h6v6h-6zM942 228h6v6h-6zM948 228h6v6h-6zM1104 228h6v6h-6zM954 234h6v6h-6zM1032 234h6v6h-6zM954 240h6v6h-6zM966 240h6v6h-6zM1122 240h6v6h-6zM1128 246h6v6h-6zM1158 246h6v6h-6zM1068 252h6v6h-6zM1140 252h6v6h-6zM1146 252h6v6h-6z"/><path fill="#ffae00" d="M1110 120h6v6h-6zM1116 120h6v6h-6zM1122 120h6v6h-6zM1086 126h6v6h-6zM1110 126h6v6h-6zM1122 126h6v6h-6zM1074 132h6v6h-6zM1074 138h6v6h-6zM1038 144h6v6h-6zM1044 144h6v6h-6zM1074 144h6v6h-6zM1116 144h6v6h-6zM1122 156h6v6h-6zM996 174h6v6h-6zM996 180h6v6h-6zM1110 180h6v6h-6zM972 192h6v6h-6zM1104 204h6v6h-6zM984 210h6v6h-6zM996 216h6v6h-6zM1020 216h6v6h-6zM1026 228h6v6h-6zM1122 234h6v6h-6zM960 240h6v6h-6zM1050 240h6v6h-6zM1188 240h6v6h-6zM990 246h6v6h-6zM1008 252h6v6h-6zM996 258h6v6h-6zM1002 258h6v6h-6z"/><path fill="#ffab00" d="M1116 114h6v6h-6zM1098 120h6v6h-6zM1104 120h6v6h-6zM1080 126h6v6h-6zM1110 132h6v6h-6zM1116 132h6v6h-6zM1122 132h6v6h-6zM1110 138h6v6h-6zM1050 144h6v6h-6zM1056 144h6v6h-6zM1062 144h6v6h-6zM1068 144h6v6h-6zM1122 144h6v6h-6zM1014 162h6v6h-6zM1122 162h6v6h-6zM996 168h6v6h-6zM1002 168h6v6h-6zM1008 168h6v6h-6zM1122 168h6v6h-6zM978 186h6v6h-6zM984 186h6v6h-6zM990 186h6v6h-6zM924 198h6v6h-6zM924 204h6v6h-6zM966 204h6v6h-6zM990 210h6v6h-6zM972 216h6v6h-6zM978 216h6v6h-6zM1104 216h6v6h-6zM948 222h6v6h-6zM1002 222h6v6h-6zM936 228h6v6h-6zM954 228h6v6h-6zM1110 228h6v6h-6zM984 240h6v6h-6zM1038 240h6v6h-6zM1044 240h6v6h-6zM1164 240h6v6h-6zM1170 240h6v6h-6zM1176 240h6v6h-6zM1182 240h6v6h-6zM996 246h6v6h-6zM1002 246h6v6h-6zM1056 246h6v6h-6zM1152 246h6v6h-6zM996 252h6v6h-6zM1002 252h6v6h-6zM1014 252h6v6h-6zM1062 252h6v6h-6z"/><path fill="#ffa800" d="M1110 114h6v6h-6zM1122 114h6v6h-6zM1092 120h6v6h-6zM1128 120h6v6h-6zM1128 126h6v6h-6zM1068 138h6v6h-6zM1116 138h6v6h-6zM1122 138h6v6h-6zM1128 144h6v6h-6zM1026 150h6v6h-6zM1020 156h6v6h-6zM1128 156h6v6h-6zM1128 162h6v6h-6zM1134 162h6v6h-6zM990 168h6v6h-6zM1116 174h6v6h-6zM924 192h6v6h-6zM930 198h6v6h-6zM930 204h6v6h-6zM924 210h6v6h-6zM966 210h6v6h-6zM942 222h6v6h-6zM1008 222h6v6h-6zM1104 222h6v6h-6zM924 228h6v6h-6zM930 228h6v6h-6zM1116 228h6v6h-6zM960 234h6v6h-6zM966 234h6v6h-6zM972 234h6v6h-6zM990 240h6v6h-6zM996 240h6v6h-6zM1128 240h6v6h-6zM1008 246h6v6h-6zM1134 246h6v6h-6z"/><path fill="#ffa400" d="M1116 108h6v6h-6zM1086 120h6v6h-6zM1074 126h6v6h-6zM1068 132h6v6h-6zM1128 132h6v6h-6zM1128 138h6v6h-6zM1032 144h6v6h-6zM1128 168h6v6h-6zM990 174h6v6h-6zM990 180h6v6h-6zM930 192h6v6h-6zM1104 192h6v6h-6zM936 198h6v6h-6zM966 198h6v6h-6zM1104 198h6v6h-6zM936 204h6v6h-6zM930 210h6v6h-6zM942 216h6v6h-6zM948 216h6v6h-6zM954 222h6v6h-6zM996 222h6v6h-6zM1020 222h6v6h-6zM978 234h6v6h-6zM1026 234h6v6h-6zM1128 234h6v6h-6zM1002 240h6v6h-6zM1032 240h6v6h-6zM1158 240h6v6h-6zM1140 246h6v6h-6zM1146 246h6v6h-6z"/><path fill="#ffa100" d="M1080 102h6v6h-6zM1110 102h6v6h-6zM1116 102h6v6h-6zM1080 108h6v6h-6zM1110 108h6v6h-6zM1104 114h6v6h-6zM1128 114h6v6h-6zM1080 120h6v6h-6zM1134 120h6v6h-6zM1044 138h6v6h-6zM1062 138h6v6h-6zM996 162h6v6h-6zM1134 168h6v6h-6zM1140 168h6v6h-6zM960 174h6v6h-6zM984 180h6v6h-6zM924 186h6v6h-6zM972 186h6v6h-6zM936 210h6v6h-6zM942 210h6v6h-6zM948 210h6v6h-6zM924 216h6v6h-6zM966 216h6v6h-6zM984 216h6v6h-6zM990 216h6v6h-6zM1188 216h6v6h-6zM972 222h6v6h-6zM1014 222h6v6h-6zM960 228h6v6h-6zM1002 228h6v6h-6zM996 234h6v6h-6zM1176 234h6v6h-6zM1182 234h6v6h-6zM1188 234h6v6h-6zM1134 240h6v6h-6z"/><path fill="#ff9e00" d="M1086 102h6v6h-6zM1086 108h6v6h-6zM1122 108h6v6h-6zM1080 114h6v6h-6zM1086 114h6v6h-6zM1134 114h6v6h-6zM1140 114h6v6h-6zM1140 120h6v6h-6zM1146 120h6v6h-6zM1134 126h6v6h-6zM1038 138h6v6h-6zM1050 138h6v6h-6zM1056 138h6v6h-6zM990 162h6v6h-6zM1008 162h6v6h-6zM960 168h6v6h-6zM984 168h6v6h-6zM954 174h6v6h-6zM966 174h6v6h-6zM984 174h6v6h-6zM1122 174h6v6h-6zM960 180h6v6h-6zM978 180h6v6h-6zM1110 186h6v6h-6zM936 192h6v6h-6zM966 192h6v6h-6zM942 198h6v6h-6zM942 204h6v6h-6zM1110 210h6v6h-6zM930 216h6v6h-6zM936 216h6v6h-6zM954 216h6v6h-6zM1182 216h6v6h-6zM924 222h6v6h-6zM936 222h6v6h-6zM978 222h6v6h-6zM1110 222h6v6h-6zM1182 222h6v6h-6zM1188 222h6v6h-6zM966 228h6v6h-6zM972 228h6v6h-6zM996 228h6v6h-6zM1122 228h6v6h-6zM984 234h6v6h-6zM990 234h6v6h-6zM1002 234h6v6h-6zM1134 234h6v6h-6zM1170 234h6v6h-6zM1008 240h6v6h-6zM1014 246h6v6h-6zM1038 246h6v6h-6zM1050 246h6v6h-6zM1020 252h6v6h-6z"/><path fill="#ff9b00" d="M1104 108h6v6h-6zM1074 114h6v6h-6zM1092 114h6v6h-6zM1098 114h6v6h-6zM1146 114h6v6h-6zM1152 114h6v6h-6zM1074 120h6v6h-6zM1062 132h6v6h-6zM1134 138h6v6h-6zM1002 162h6v6h-6zM930 168h6v6h-6zM948 168h6v6h-6zM954 168h6v6h-6zM966 168h6v6h-6zM930 174h6v6h-6zM948 174h6v6h-6zM978 174h6v6h-6zM930 180h6v6h-6zM954 180h6v6h-6zM966 180h6v6h-6zM972 180h6v6h-6zM1116 180h6v6h-6zM930 186h6v6h-6zM960 186h6v6h-6zM966 186h6v6h-6zM942 192h6v6h-6zM948 204h6v6h-6zM960 204h6v6h-6zM1110 204h6v6h-6zM954 210h6v6h-6zM960 210h6v6h-6zM1182 210h6v6h-6zM1188 210h6v6h-6zM960 216h6v6h-6zM1110 216h6v6h-6zM1176 216h6v6h-6zM930 222h6v6h-6zM960 222h6v6h-6zM966 222h6v6h-6zM978 228h6v6h-6zM1008 228h6v6h-6zM1020 228h6v6h-6zM1128 228h6v6h-6zM1182 228h6v6h-6zM1188 228h6v6h-6zM1164 234h6v6h-6zM1140 240h6v6h-6zM1152 240h6v6h-6zM1044 246h6v6h-6z"/><path fill="#ff9800" d="M1104 102h6v6h-6zM1122 102h6v6h-6zM1074 108h6v6h-6zM1128 108h6v6h-6zM1134 108h6v6h-6zM1068 126h6v6h-6zM1140 126h6v6h-6zM1056 132h6v6h-6zM1134 132h6v6h-6zM1026 144h6v6h-6zM1020 150h6v6h-6zM1014 156h6v6h-6zM984 162h6v6h-6zM972 168h6v6h-6zM978 168h6v6h-6zM972 174h6v6h-6zM948 180h6v6h-6zM936 186h6v6h-6zM948 186h6v6h-6zM954 186h6v6h-6zM960 192h6v6h-6zM948 198h6v6h-6zM960 198h6v6h-6zM954 204h6v6h-6zM1182 204h6v6h-6zM1176 210h6v6h-6zM984 222h6v6h-6zM990 222h6v6h-6zM1116 222h6v6h-6zM1176 222h6v6h-6zM1134 228h6v6h-6zM1176 228h6v6h-6zM1008 234h6v6h-6zM1146 240h6v6h-6zM1032 246h6v6h-6z"/><path fill="#ff9400" d="M1074 102h6v6h-6zM1092 108h6v6h-6zM1140 108h6v6h-6zM1152 108h6v6h-6zM1050 132h6v6h-6zM1032 138h6v6h-6zM948 162h6v6h-6zM978 162h6v6h-6zM936 168h6v6h-6zM942 168h6v6h-6zM936 174h6v6h-6zM942 174h6v6h-6zM1128 174h6v6h-6zM936 180h6v6h-6zM942 180h6v6h-6zM942 186h6v6h-6zM948 192h6v6h-6zM954 192h6v6h-6zM954 198h6v6h-6zM984 228h6v6h-6zM990 228h6v6h-6zM1014 228h6v6h-6zM1140 234h6v6h-6zM1014 240h6v6h-6zM1026 240h6v6h-6z"/><path fill="#ff9100" d="M1092 102h6v6h-6zM1098 102h6v6h-6zM1098 108h6v6h-6zM1146 108h6v6h-6zM1068 120h6v6h-6zM1062 126h6v6h-6zM1044 132h6v6h-6zM984 156h6v6h-6zM990 156h6v6h-6zM996 156h6v6h-6zM930 162h6v6h-6zM942 162h6v6h-6zM954 162h6v6h-6zM960 162h6v6h-6zM966 162h6v6h-6zM972 162h6v6h-6zM1134 174h6v6h-6zM1140 174h6v6h-6zM1110 192h6v6h-6zM1110 198h6v6h-6zM1176 198h6v6h-6zM1176 204h6v6h-6zM1170 216h6v6h-6zM1170 228h6v6h-6zM1020 234h6v6h-6zM1158 234h6v6h-6zM1020 246h6v6h-6z"/><path fill="#ff8e00" d="M1128 102h6v6h-6zM1134 102h6v6h-6zM1140 102h6v6h-6zM1068 108h6v6h-6zM1068 114h6v6h-6zM1050 126h6v6h-6zM1056 126h6v6h-6zM1038 132h6v6h-6zM948 156h6v6h-6zM978 156h6v6h-6zM936 162h6v6h-6zM1170 192h6v6h-6zM1116 210h6v6h-6zM1170 210h6v6h-6zM1116 216h6v6h-6zM1122 222h6v6h-6zM1170 222h6v6h-6zM1140 228h6v6h-6zM1014 234h6v6h-6zM1146 234h6v6h-6zM1020 240h6v6h-6zM1026 246h6v6h-6z"/><path fill="#ff8b00" d="M1146 102h6v6h-6zM984 150h6v6h-6zM990 150h6v6h-6zM996 150h6v6h-6zM942 156h6v6h-6zM954 156h6v6h-6zM972 156h6v6h-6zM1002 156h6v6h-6zM1008 156h6v6h-6zM1146 174h6v6h-6zM1170 198h6v6h-6zM1116 204h6v6h-6zM1128 222h6v6h-6zM1134 222h6v6h-6zM1164 228h6v6h-6zM1152 234h6v6h-6z"/><path fill="#ff8800" d="M1068 102h6v6h-6zM1062 114h6v6h-6zM1050 120h6v6h-6zM1056 120h6v6h-6zM1062 120h6v6h-6zM1044 126h6v6h-6zM1026 138h6v6h-6zM990 144h6v6h-6zM1020 144h6v6h-6zM948 150h6v6h-6zM954 150h6v6h-6zM960 156h6v6h-6zM966 156h6v6h-6zM1122 180h6v6h-6zM1116 186h6v6h-6zM1164 186h6v6h-6zM1164 192h6v6h-6zM1170 204h6v6h-6zM1122 210h6v6h-6zM1164 216h6v6h-6z"/><path fill="#ff8400" d="M1062 108h6v6h-6zM1056 114h6v6h-6zM1032 132h6v6h-6zM984 144h6v6h-6zM996 144h6v6h-6zM942 150h6v6h-6zM960 150h6v6h-6zM966 150h6v6h-6zM972 150h6v6h-6zM978 150h6v6h-6zM1014 150h6v6h-6zM936 156h6v6h-6zM1122 204h6v6h-6zM1128 204h6v6h-6zM1128 210h6v6h-6zM1164 210h6v6h-6zM1122 216h6v6h-6zM1128 216h6v6h-6zM1164 222h6v6h-6z"/><path fill="#ff8100" d="M1038 126h6v6h-6zM960 144h6v6h-6zM966 144h6v6h-6zM1002 150h6v6h-6zM1158 180h6v6h-6zM1116 198h6v6h-6zM1164 198h6v6h-6zM1164 204h6v6h-6zM1134 216h6v6h-6zM1140 222h6v6h-6zM1158 228h6v6h-6z"/><path fill="#ff7e00" d="M1038 120h6v6h-6zM990 138h6v6h-6zM996 138h6v6h-6zM1020 138h6v6h-6zM948 144h6v6h-6zM954 144h6v6h-6zM972 144h6v6h-6zM978 144h6v6h-6zM1140 180h6v6h-6zM1158 186h6v6h-6zM1116 192h6v6h-6zM1122 198h6v6h-6zM1128 198h6v6h-6zM1146 228h6v6h-6z"/><path fill="#ff7b00" d="M1032 114h6v6h-6zM978 120h6v6h-6zM1032 126h6v6h-6zM1026 132h6v6h-6zM966 138h6v6h-6zM984 138h6v6h-6zM1002 144h6v6h-6zM1008 150h6v6h-6zM1128 180h6v6h-6zM1134 180h6v6h-6zM1146 180h6v6h-6zM1152 180h6v6h-6zM1134 198h6v6h-6zM1134 204h6v6h-6zM1134 210h6v6h-6zM1158 210h6v6h-6zM1158 216h6v6h-6zM1158 222h6v6h-6zM1152 228h6v6h-6z"/><path fill="#ff7800" d="M1032 120h6v6h-6zM948 138h6v6h-6zM954 138h6v6h-6zM960 138h6v6h-6zM972 138h6v6h-6zM978 138h6v6h-6zM1002 138h6v6h-6zM1014 144h6v6h-6zM1158 192h6v6h-6zM1158 204h6v6h-6zM1140 216h6v6h-6z"/><path fill="#ff7500" d="M978 114h6v6h-6zM1026 114h6v6h-6zM972 120h6v6h-6zM984 120h6v6h-6zM1026 120h6v6h-6zM978 126h6v6h-6zM984 126h6v6h-6zM1026 126h6v6h-6zM984 132h6v6h-6zM990 132h6v6h-6zM1020 132h6v6h-6zM1014 138h6v6h-6zM1122 186h6v6h-6zM1152 186h6v6h-6zM1122 192h6v6h-6zM1134 192h6v6h-6zM1140 192h6v6h-6zM1140 198h6v6h-6zM1158 198h6v6h-6zM1146 222h6v6h-6z"/><path fill="#ff7200" d="M972 114h6v6h-6zM1020 114h6v6h-6zM1020 120h6v6h-6zM1020 126h6v6h-6zM954 132h6v6h-6zM960 132h6v6h-6zM966 132h6v6h-6zM972 132h6v6h-6zM978 132h6v6h-6zM996 132h6v6h-6zM1002 132h6v6h-6zM1008 132h6v6h-6zM1014 132h6v6h-6zM1008 138h6v6h-6zM1008 144h6v6h-6zM1140 186h6v6h-6zM1146 186h6v6h-6zM1128 192h6v6h-6zM1146 192h6v6h-6zM1140 204h6v6h-6zM1140 210h6v6h-6zM1152 210h6v6h-6z"/><path fill="#ff6f00" d="M984 114h6v6h-6zM1014 120h6v6h-6zM972 126h6v6h-6zM1014 126h6v6h-6zM1134 186h6v6h-6zM1152 192h6v6h-6zM1146 198h6v6h-6zM1152 198h6v6h-6zM1152 204h6v6h-6zM1146 216h6v6h-6zM1152 216h6v6h-6zM1152 222h6v6h-6z"/><path fill="#ff6c00" d="M1014 114h6v6h-6zM966 120h6v6h-6zM966 126h6v6h-6zM990 126h6v6h-6zM1008 126h6v6h-6zM1128 186h6v6h-6zM1146 204h6v6h-6zM1146 210h6v6h-6z"/><path fill="#ff6a00" d="M978 108h6v6h-6zM1014 108h6v6h-6zM990 120h6v6h-6zM960 126h6v6h-6zM1002 126h6v6h-6z"/><path fill="#ff6700" d="M1008 120h6v6h-6zM996 126h6v6h-6z"/><path fill="#ff6400" d="M984 108h6v6h-6zM990 114h6v6h-6zM1008 114h6v6h-6z"/><path fill="#ff6100" d="M1008 102h6v6h-6zM1008 108h6v6h-6zM1002 120h6v6h-6z"/><path fill="#ff5e00" d="M990 108h6v6h-6zM996 120h6v6h-6z"/><path fill="#ff5c00" d="M984 102h6v6h-6zM1002 102h6v6h-6zM1002 108h6v6h-6zM996 114h6v6h-6zM1002 114h6v6h-6z"/><path fill="#ff5900" d="M996 102h6v6h-6zM996 108h6v6h-6z"/><path fill="#ff5600" d="M990 102h6v6h-6z"/></g></g><path d="M967.1,145.8L972.3,136.6L988.0,123.5L1001.0,122.2L1011.5,124.8L1006.3,131.4L1022.0,134.0L1037.6,136.6L1032.4,147.1L1024.6,154.9L1035.0,160.1L1037.6,173.2L1050.7,170.6L1071.6,160.1L1089.9,160.1L1103.0,165.4L1116.1,170.6L1129.2,178.4L1142.2,188.9L1155.3,199.3L1171.0,209.8L1181.4,220.3L1184.0,233.3L1178.8,246.4L1160.5,256.9L1129.2,255.6L1108.2,251.6L1089.9,246.4L1071.6,235.9L1050.7,232.0L1029.8,233.3L1008.9,241.2L990.6,251.6L969.7,251.6L954.0,249.0L940.9,235.9L930.5,222.9L935.7,204.6L946.1,194.1L948.8,173.2L954.0,162.7L964.4,160.1ZM1061.2,134.0L1071.6,123.5L1089.9,118.3L1108.2,115.7L1129.2,110.5L1139.6,110.5L1137.0,114.4L1118.7,120.9L1116.1,128.8L1124.0,134.0L1108.2,149.7L1095.2,154.9L1092.0,162.0L1087.0,162.0L1087.3,147.1L1071.6,152.3L1063.8,141.8Z" fill="none" stroke="#555" stroke-width="0.75"/><path d="M470.5,289.0L479.7,281.6L485.3,283.4L489.0,289.0L483.4,295.4L474.2,292.6ZM497.3,279.7L505.6,280.6L503.7,283.4L498.2,282.5ZM451.0,302.0L455.0,301.0L456.0,305.0L452.0,306.0ZM597.1,208.5L599.7,210.2L601.4,217.0L601.4,233.9L597.1,244.1L592.0,242.4L587.0,233.9L585.3,222.0L590.3,217.0L596.3,213.6ZM577.6,254.2L583.6,255.9L592.0,250.8L595.4,249.2L602.2,252.5L603.9,267.8L605.6,281.4L603.9,294.9L598.8,301.7L590.3,303.4L583.6,305.1L581.9,291.5L580.2,276.3L576.8,259.3ZM654.2,326.8L663.4,325.0L674.5,326.8L689.3,325.0L707.7,323.1L711.4,321.3L705.9,336.0L702.2,343.4L702.2,354.5L689.3,350.8L674.5,345.3L663.4,337.9L654.2,330.5ZM855.4,388.5L860.0,386.2L866.2,386.4L877.2,391.0L890.8,391.5L904.3,392.6L904.3,397.5L884.6,398.7L876.0,396.3L860.0,393.8ZM1014.6,398.4L1019.0,392.0L1028.0,390.7L1040.8,389.4L1052.3,384.3L1044.6,394.6L1040.8,398.4L1028.0,406.0L1021.6,407.4L1016.5,403.5ZM939.5,364.8L935.0,369.0L931.5,374.5L933.0,375.5L937.5,372.0L940.5,366.5ZM897.9,297.1L902.0,294.3L907.6,297.1L908.9,302.6L903.4,302.6ZM897.9,313.7L902.0,315.1L900.6,322.0L897.9,320.6Z" fill="#e3e3e3" stroke="#555" stroke-width="0.75"/><circle cx="115" cy="452" r="2.2" fill="#e3e3e3" stroke="#555" stroke-width="0.6"/><circle cx="388" cy="61" r="1.5" fill="#e3e3e3" stroke="#555" stroke-width="0.6"/><circle cx="613.6" cy="213.9" r="1.6" fill="#e3e3e3" stroke="#555" stroke-width="0.6"/><circle cx="688.5" cy="376.5" r="1.8" fill="#e3e3e3" stroke="#555" stroke-width="0.6"/><circle cx="644" cy="355" r="1.5" fill="#e3e3e3" stroke="#555" stroke-width="0.6"/><circle cx="624.6" cy="426.8" r="2.2" fill="#e3e3e3" stroke="#555" stroke-width="0.6"/><circle cx="630" cy="403.7" r="1.6" fill="#e3e3e3" stroke="#555" stroke-width="0.6"/><circle cx="889.5" cy="349.5" r="2.2" fill="#e3e3e3" stroke="#555" stroke-width="0.6"/><circle cx="884.6" cy="349.5" r="1.6" fill="#e3e3e3" stroke="#555" stroke-width="0.6"/><circle cx="898.1" cy="354.4" r="1.6" fill="#e3e3e3" stroke="#555" stroke-width="0.6"/><circle cx="903" cy="336" r="1.8" fill="#e3e3e3" stroke="#555" stroke-width="0.6"/><circle cx="914.1" cy="333.5" r="1.8" fill="#e3e3e3" stroke="#555" stroke-width="0.6"/><circle cx="872.3" cy="342.1" r="1.4" fill="#e3e3e3" stroke="#555" stroke-width="0.6"/><circle cx="869.8" cy="356.9" r="1.4" fill="#e3e3e3" stroke="#555" stroke-width="0.6"/><circle cx="888.3" cy="356.9" r="1.4" fill="#e3e3e3" stroke="#555" stroke-width="0.6"/><circle cx="888.3" cy="364.3" r="1.4" fill="#e3e3e3" stroke="#555" stroke-width="0.6"/><circle cx="905.5" cy="360.6" r="1.4" fill="#e3e3e3" stroke="#555" stroke-width="0.6"/><circle cx="916.6" cy="350.8" r="1.6" fill="#e3e3e3" stroke="#555" stroke-width="0.6"/><circle cx="920.3" cy="382.7" r="1.8" fill="#e3e3e3" stroke="#555" stroke-width="0.6"/><circle cx="879.7" cy="339.7" r="1.5" fill="#e3e3e3" stroke="#555" stroke-width="0.6"/><circle cx="877.2" cy="329.8" r="1.8" fill="#e3e3e3" stroke="#555" stroke-width="0.6"/><circle cx="874.3" cy="263.9" r="2" fill="#e3e3e3" stroke="#555" stroke-width="0.6"/><circle cx="885.4" cy="281.9" r="2.2" fill="#e3e3e3" stroke="#555" stroke-width="0.6"/><circle cx="891" cy="268" r="1.4" fill="#e3e3e3" stroke="#555" stroke-width="0.6"/><circle cx="896.5" cy="275.6" r="1.4" fill="#e3e3e3" stroke="#555" stroke-width="0.6"/><circle cx="805" cy="297" r="1.8" fill="#e3e3e3" stroke="#555" stroke-width="0.6"/><circle cx="803" cy="318" r="1.8" fill="#e3e3e3" stroke="#555" stroke-width="0.6"/><circle cx="806" cy="331" r="1.6" fill="#e3e3e3" stroke="#555" stroke-width="0.6"/><path d="M396.6,200.3L402.2,207.7L413.2,211.4L428.0,216.0L439.0,213.2L453.9,218.8L457.6,220.6L468.6,223.4L483.4,222.5M272.0,231.2L278.4,229.6L280.0,236.0L296.0,234.4L308.8,234.4L314.4,242.4L302.4,255.2L302.4,272.8L300.8,284.0L291.2,288.8L299.2,303.2L294.4,310.0L300.8,324.4L292.8,334.0L292.0,346.8M514.9,43.0L522.1,47.8L531.8,52.7L534.2,45.4L541.4,45.4L546.3,55.1L553.5,61.1L572.9,66.0L575.3,69.6L568.0,81.6L564.4,99.8M564.4,99.8L555.9,103.4L543.9,117.9L536.6,133.6L551.1,130.0L555.9,139.6L551.1,146.9L553.5,158.9L551.1,168.6L558.4,180.7L565.6,183.1L563.2,190.3M564.4,99.8L582.5,96.1L599.4,102.2L613.9,105.8M555.9,139.6L580.1,127.5L589.8,139.6L597.0,127.5L609.1,130.0L613.9,115.5L609.1,103.4M599.4,110.6L616.3,103.4L650.1,97.3L662.2,101.0L659.8,86.5L676.7,74.4L652.6,45.4L646.0,43.0M613.9,115.5L647.7,113.0L662.2,122.7L681.5,125.1L705.7,122.7L722.6,117.9M676.7,74.4L698.5,67.2L734.5,74.4L737.1,91.3L725.0,115.5L722.6,117.9M734.5,74.4L750.0,62.0L770.7,52.7L761.0,43.0M770.7,52.7L780.4,52.7L787.6,61.1L811.8,57.5L826.3,59.9L840.8,64.7L838.4,52.7L845.6,43.0M737.1,91.3L768.3,93.7L785.2,86.5L799.7,78.0L819.1,79.2L828.7,81.6L840.8,64.7M828.7,81.6L840.8,88.9L826.3,105.8L816.6,125.1L797.3,134.8L768.3,139.6L744.2,139.6L724.8,122.7L722.6,117.9M674.3,144.4L693.6,146.9L705.7,146.9L713.0,132.4L725.0,122.7M674.3,144.4L678.0,147.5M840.8,88.9L879.5,96.1L906.0,85.3L913.3,84.1L927.8,79.2L956.8,91.3L961.6,110.6L971.4,127.5L951.9,127.5L942.3,146.9L951.9,154.1L966.4,151.7L968.0,146.0M913.3,84.1L937.4,115.5L939.9,146.9M797.3,134.8L804.6,149.3L816.6,163.8L836.0,168.6L843.2,188.0L865.0,190.4L889.1,190.4L911.3,182.0L926.1,182.9L944.6,190.3M843.2,188.0L835.7,181.1L833.8,192.1L844.9,205.1L835.7,216.1L833.8,225.4L844.9,236.4L843.1,247.5L867.0,243.8L889.2,249.4L902.1,240.1L907.7,234.6L920.6,230.9L933.5,232.8M902.1,240.1L909.5,249.4L905.8,258.6L902.1,262.3M843.1,247.5L824.6,253.0L809.8,258.6L798.8,247.5L800.6,232.8L819.1,225.4L833.8,225.4M791.4,214.3L804.3,203.2L820.9,216.1L819.1,225.4M809.8,258.6L808.0,262.3L802.5,275.2L795.1,286.3M778.5,229.1L784.0,218.0L791.4,214.3L800.6,232.8M761.8,212.5L771.1,197.7L776.6,194.0L793.2,210.6L791.4,214.3M776.6,194.0L780.3,182.9L774.8,170.0L778.0,178.3L775.6,158.9L770.7,139.6M713.0,156.5L720.0,156.5L744.2,156.5L773.2,161.4M713.0,156.5L717.8,175.9L729.9,187.9L741.7,200.0L755.0,210.0L761.8,212.5L766.0,220.0M1117.0,43.0L1133.9,45.4L1153.2,52.7L1150.8,64.7L1148.4,74.4L1150.8,86.5L1133.9,93.7L1124.2,101.0L1121.8,110.6L1124.0,116.0M1151.8,194.8L1171.2,199.7L1193.8,202.9L1222.9,215.8L1242.2,214.2M1184.1,244.9L1203.5,241.7L1219.6,254.6L1242.2,251.4M1219.6,254.6L1219.6,277.2L1239.0,286.9L1226.1,293.4L1232.6,325.7L1239.0,348.3L1242.2,358.0M1084.0,377.3L1090.4,370.9L1093.7,358.0L1129.2,354.7L1161.5,349.9L1193.8,345.0L1209.9,341.8L1226.1,345.0L1232.6,349.9M1193.8,345.0L1180.9,364.4L1180.3,380.0L1170.5,411.7L1133.5,438.8L1096.6,461.0L1076.9,453.5M1079.4,406.8L1089.2,409.2L1091.7,419.1L1081.9,433.9L1074.5,441.2M1131.1,438.8L1138.5,465.9L1158.2,470.8L1197.6,495.4L1215.0,507.0M1138.5,465.9L1099.1,480.6L1113.9,505.2L1106.5,517.0M1049.8,488.0L1059.7,517.0M1064.0,456.0L1068.0,448.0L1072.0,453.0L1071.0,470.0L1067.0,481.0L1062.0,476.0L1064.0,465.0L1064.0,456.0M1074.5,443.7L1069.5,483.1L1062.2,517.0M883.9,479.6L879.3,492.3L877.5,516.3M633.9,439.7L634.1,460.6L613.9,477.9L611.0,501.0L599.5,513.9M582.2,352.9L578.5,364.0L578.5,395.4L565.0,417.4L567.9,437.6L588.0,463.5L599.5,512.5L596.7,516.8M387.2,396.4L393.6,403.0L396.5,437.6L406.6,454.9L403.7,466.4L374.9,466.4L357.6,477.9L360.5,492.3L337.4,506.7L330.2,516.8" fill="none" stroke="#5a5a5a" stroke-width="0.7"/></g><rect x="64" y="43" width="1180" height="473.5" fill="none" stroke="#4d4d4d" stroke-width="1"/><line x1="60.5" y1="43.0" x2="64" y2="43.0" stroke="#333" stroke-width="1"/><line x1="60.5" y1="161.2" x2="64" y2="161.2" stroke="#333" stroke-width="1"/><line x1="60.5" y1="279.5" x2="64" y2="279.5" stroke="#333" stroke-width="1"/><line x1="60.5" y1="397.8" x2="64" y2="397.8" stroke="#333" stroke-width="1"/><line x1="60.5" y1="516.0" x2="64" y2="516.0" stroke="#333" stroke-width="1"/><line x1="64.0" y1="516.5" x2="64.0" y2="520" stroke="#333" stroke-width="1"/><line x1="154.8" y1="516.5" x2="154.8" y2="520" stroke="#333" stroke-width="1"/><line x1="245.5" y1="516.5" x2="245.5" y2="520" stroke="#333" stroke-width="1"/><line x1="336.3" y1="516.5" x2="336.3" y2="520" stroke="#333" stroke-width="1"/><line x1="427.1" y1="516.5" x2="427.1" y2="520" stroke="#333" stroke-width="1"/><line x1="517.9" y1="516.5" x2="517.9" y2="520" stroke="#333" stroke-width="1"/><line x1="608.6" y1="516.5" x2="608.6" y2="520" stroke="#333" stroke-width="1"/><line x1="699.4" y1="516.5" x2="699.4" y2="520" stroke="#333" stroke-width="1"/><line x1="790.2" y1="516.5" x2="790.2" y2="520" stroke="#333" stroke-width="1"/><line x1="880.9" y1="516.5" x2="880.9" y2="520" stroke="#333" stroke-width="1"/><line x1="971.7" y1="516.5" x2="971.7" y2="520" stroke="#333" stroke-width="1"/><line x1="1062.5" y1="516.5" x2="1062.5" y2="520" stroke="#333" stroke-width="1"/><line x1="1153.2" y1="516.5" x2="1153.2" y2="520" stroke="#333" stroke-width="1"/><rect x="1153.5" y="43.6" width="90" height="57" fill="#fff"/><path d="M1172.6,50.2A10,10 0 1,0 1172.6,64.9" fill="none" stroke="#111" stroke-width="3.5"/><path d="M1178.4,46.6h12.7v3.5h-9.2v6h8.1v3.5h-8.1v5.8h9.2v3.5h-12.7z" fill="#111"/><path d="M1193.8,69L1203.5,46.6H1207.1L1216.8,69H1213L1205.3,51.8L1197.6,69Z" fill="#111"/><rect x="1199" y="61.6" width="12.6" height="3.2" fill="#111"/><path d="M1216.2,69L1221,46.6H1224.6L1229.1,60.5L1233.6,46.6H1237.2L1242.6,69H1239L1235.4,53.5L1230.9,68.5H1227.3L1222.8,53.5L1219.8,69Z" fill="#111"/><rect x="1155" y="72.8" width="88.3" height="26.7" fill="#3a64b4"/><path d="M1155,93.3C1160,88 1164,86.8 1169.2,86.8C1176,86.8 1179,93.7 1184.6,93.7C1190,93.7 1194,86.8 1199.9,86.8C1206,86.8 1210,93.7 1215.3,93.7C1221,93.7 1225,86.8 1230.6,86.8C1236,86.8 1239,90 1243.3,93.3V99.5H1155Z" fill="#2e2e96"/><path d="M1155,86.4C1160,82 1164,79.5 1169.2,79.5C1176,79.5 1179,86 1184.6,86C1190,86 1194,79.5 1199.9,79.5C1206,79.5 1210,86 1215.3,86C1221,86 1225,79.5 1230.6,79.5C1236,79.5 1239,82 1243.3,85.3V93.3C1239,90 1236,86.8 1230.6,86.8C1225,86.8 1221,93.7 1215.3,93.7C1210,93.7 1206,86.8 1199.9,86.8C1194,86.8 1190,93.7 1184.6,93.7C1179,93.7 1176,86.8 1169.2,86.8C1164,86.8 1160,88 1155,93.3Z" fill="#fff"/><path d="M1153,43H1244V101" fill="none" stroke="#4d4d4d" stroke-width="1"/></svg>
<div id="title">Mediterranean SST daily map</div>
<div class="yl" style="top:33.3px">50°N</div><div class="yl" style="top:151.6px">45°N</div><div class="yl" style="top:269.8px">40°N</div><div class="yl" style="top:388.1px">35°N</div><div class="yl" style="top:506.3px">30°N</div><div class="xl" style="left:24.0px">20°W</div><div class="xl" style="left:114.8px">15°W</div><div class="xl" style="left:205.5px">10°W</div><div class="xl" style="left:296.3px">5°W</div><div class="xl" style="left:387.1px">0°</div><div class="xl" style="left:477.9px">5°E</div><div class="xl" style="left:568.6px">10°E</div><div class="xl" style="left:659.4px">15°E</div><div class="xl" style="left:750.2px">20°E</div><div class="xl" style="left:840.9px">25°E</div><div class="xl" style="left:931.7px">30°E</div><div class="xl" style="left:1022.5px">35°E</div><div class="xl" style="left:1113.2px">40°E</div>
<div id="date">16-07-2024</div>
<div id="copy">©CEAM2024</div>
<div id="cbar" style="background:linear-gradient(to right,#000080 0.00%,#0000b4 6.25%,#0000e6 12.50%,#0034ff 18.75%,#0080ff 25.00%,#00a0ff 28.12%,#00c0ff 31.25%,#00e0f8 34.38%,#00f0f0 37.50%,#10f0d8 40.62%,#30f0c0 43.75%,#50f0a0 46.88%,#80f070 50.00%,#a0f048 53.12%,#b8f030 56.25%,#e0f810 59.38%,#f8f000 62.50%,#ffd800 65.62%,#ffb800 68.75%,#ff9800 71.88%,#ff7800 75.00%,#ff5c00 78.12%,#ff4000 81.25%,#ff2000 84.38%,#ff0000 87.50%,#c00000 93.75%,#6e0000 100.00%)"></div>
<div class="cbl" style="left:319.0px">4</div><div class="cbl" style="left:363.3px">6</div><div class="cbt" style="left:381.8px"></div><div class="cbl" style="left:407.6px">8</div><div class="cbt" style="left:426.1px"></div><div class="cbl" style="left:451.9px">10</div><div class="cbt" style="left:470.4px"></div><div class="cbl" style="left:496.2px">12</div><div class="cbt" style="left:514.7px"></div><div class="cbl" style="left:540.5px">14</div><div class="cbt" style="left:559.0px"></div><div class="cbl" style="left:584.8px">16</div><div class="cbt" style="left:603.3px"></div><div class="cbl" style="left:629.1px">18</div><div class="cbt" style="left:647.6px"></div><div class="cbl" style="left:673.4px">20</div><div class="cbt" style="left:691.9px"></div><div class="cbl" style="left:717.7px">22</div><div class="cbt" style="left:736.2px"></div><div class="cbl" style="left:762.0px">24</div><div class="cbt" style="left:780.5px"></div><div class="cbl" style="left:806.3px">26</div><div class="cbt" style="left:824.8px"></div><div class="cbl" style="left:850.6px">28</div><div class="cbt" style="left:869.1px"></div><div class="cbl" style="left:894.9px">30</div><div class="cbt" style="left:913.4px"></div><div class="cbl" style="left:939.2px">32</div><div class="cbt" style="left:957.7px"></div><div class="cbl" style="left:983.5px">34</div><div class="cbt" style="left:1002.0px"></div><div class="cbl" style="left:1027.8px">36</div>
<div id="sstlab">SST (°C)</div>
<div id="data">Data: GHRSST Level 4 OSTIA Global Foundation Sea Surface Temperature Analysis (GDS version 2) (OSTIA-UKMO-L4-GLOB-v2.0)</div>
</body></html>
